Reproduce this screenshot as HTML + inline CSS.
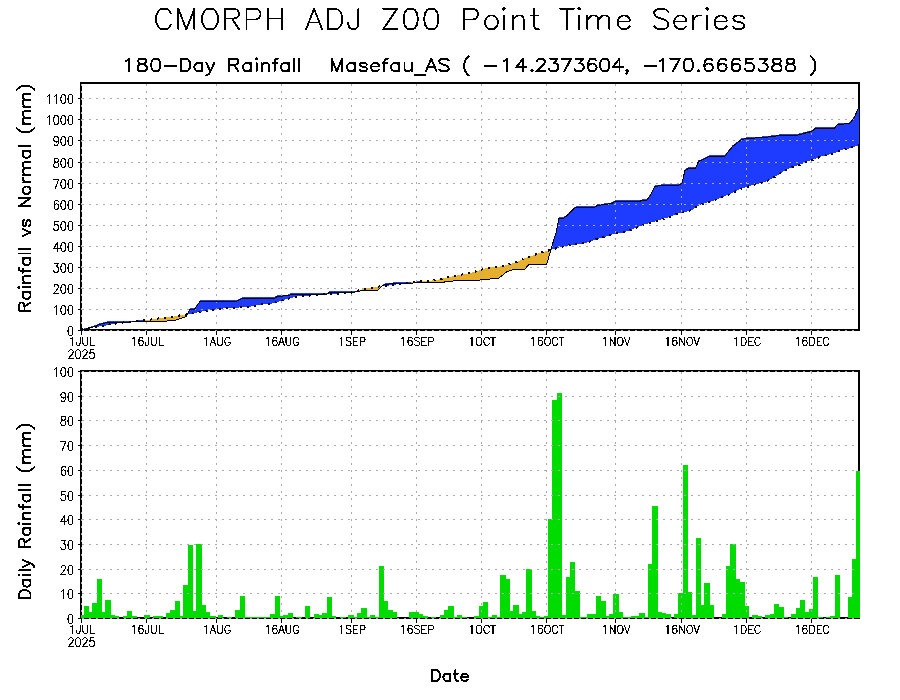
<!DOCTYPE html><html><head><meta charset="utf-8"><style>html,body{margin:0;padding:0;background:#fff;width:900px;height:700px;overflow:hidden;font-family:"Liberation Sans",sans-serif}</style></head><body><svg width="900" height="700" viewBox="0 0 900 700" style="display:block">
<rect x="0" y="0" width="900" height="700" fill="#fff"/>
<g shape-rendering="crispEdges"><rect x="80" y="82" width="780" height="2" fill="#000"/><rect x="80" y="329" width="780" height="2" fill="#000"/><rect x="80" y="82" width="2" height="249" fill="#000"/><rect x="858" y="82" width="2" height="249" fill="#000"/><rect x="80" y="370" width="780" height="2" fill="#000"/><rect x="80" y="617" width="780" height="2" fill="#000"/><rect x="80" y="370" width="2" height="249" fill="#000"/><rect x="858" y="370" width="2" height="249" fill="#000"/></g>
<polygon points="81.00,329.40 81.50,329.26 82.00,329.11 82.50,328.97 83.00,328.83 83.50,328.69 84.00,328.54 84.50,328.40 85.00,328.26 85.50,328.11 86.00,327.97 86.50,327.83 87.00,327.69 87.50,327.54 88.00,327.40 88.50,327.25 89.00,327.10 89.50,326.95 90.00,326.80 90.50,326.65 91.00,326.50 91.50,326.36 92.00,326.21 92.50,326.06 93.00,325.91 93.50,325.76 94.00,325.61 94.50,325.46 94.70,325.40 95.00,325.26 95.50,325.04 96.00,324.81 96.30,324.67 96.50,324.58 97.00,324.35 97.50,324.13 98.00,323.90 98.50,323.67 99.00,323.45 99.10,323.40 99.50,323.30 100.00,323.17 100.50,323.04 101.00,322.91 101.50,322.78 102.00,322.66 102.50,322.53 103.00,322.40 103.50,322.27 103.60,322.25 104.00,322.14 104.50,322.02 105.00,321.89 105.50,321.76 106.00,321.63 106.50,321.50 106.90,321.40 107.00,321.40 107.50,321.40 108.00,321.40 108.50,321.40 109.00,321.40 109.50,321.40 110.00,321.40 110.50,321.40 111.00,321.40 111.30,321.40 111.50,321.40 112.00,321.40 112.50,321.40 113.00,321.40 113.50,321.40 114.00,321.40 114.50,321.40 115.00,321.40 115.50,321.40 116.00,321.40 116.50,321.40 117.00,321.40 117.50,321.40 118.00,321.40 118.50,321.40 119.00,321.40 119.50,321.40 120.00,321.40 120.50,321.40 121.00,321.40 121.50,321.40 122.00,321.40 122.50,321.40 123.00,321.40 123.50,321.40 124.00,321.40 124.50,321.40 124.70,321.40 125.00,321.40 125.20,321.40 125.50,321.38 126.00,321.34 126.50,321.30 127.00,321.26 127.50,321.22 128.00,321.18 128.50,321.14 129.00,321.10 129.50,321.06 130.00,321.02 130.50,320.99 131.00,320.95 131.50,320.91 132.00,320.87 132.50,320.83 133.00,320.79 133.50,320.75 133.60,320.74 134.00,320.71 134.50,320.67 135.00,320.63 135.50,320.60 136.00,320.56 136.50,320.52 137.00,320.48 137.50,320.44 138.00,320.40 138.50,320.40 139.00,320.40 139.50,320.40 140.00,320.40 140.50,320.40 141.00,320.40 141.50,320.40 142.00,320.40 142.50,320.40 143.00,320.40 143.50,320.40 144.00,320.39 144.50,320.34 144.70,320.32 145.00,320.29 145.50,320.24 146.00,320.19 146.50,320.15 147.00,320.10 147.50,320.05 148.00,320.00 148.50,319.92 149.00,319.85 149.50,319.77 150.00,319.69 150.50,319.62 151.00,319.54 151.50,319.47 152.00,319.39 152.50,319.31 153.00,319.24 153.50,319.16 154.00,319.08 154.50,319.01 155.00,318.93 155.50,318.85 156.00,318.78 156.50,318.70 157.00,318.62 157.50,318.55 158.00,318.47 158.50,318.40 159.00,318.32 159.50,318.24 160.00,318.17 160.50,318.09 161.00,318.01 161.50,317.94 162.00,317.86 162.40,317.80 162.50,317.79 163.00,317.75 163.50,317.71 164.00,317.67 164.50,317.63 164.70,317.62 165.00,317.59 165.50,317.56 166.00,317.52 166.50,317.48 167.00,317.44 167.50,317.40 168.00,317.36 168.50,317.32 169.00,317.28 169.50,317.24 170.00,317.20 170.50,317.10 171.00,317.01 171.50,316.91 172.00,316.81 172.50,316.71 173.00,316.62 173.50,316.52 174.00,316.42 174.40,316.35 174.50,316.33 175.00,316.23 175.50,316.13 176.00,316.04 176.50,315.94 176.70,315.90 177.00,315.86 177.50,315.79 178.00,315.71 178.50,315.64 179.00,315.57 179.50,315.50 180.00,315.43 180.50,315.36 181.00,315.29 181.10,315.27 181.50,315.21 182.00,315.14 182.50,315.07 183.00,315.00 183.50,314.93 184.00,314.86 184.40,314.80 184.50,314.78 185.00,314.70 185.50,314.62 186.00,314.54 186.10,314.52 186.50,314.46 187.00,313.78 187.50,312.89 188.00,311.99 188.50,311.09 189.00,310.19 189.50,309.30 190.00,308.40 190.50,308.40 191.00,308.40 191.10,308.40 191.50,308.40 192.00,308.40 192.50,308.40 193.00,308.40 193.50,308.40 194.00,308.40 194.40,308.40 194.50,308.26 195.00,307.54 195.50,306.83 196.00,306.11 196.50,305.40 197.00,304.69 197.50,303.97 198.00,303.26 198.50,302.54 199.00,301.83 199.50,301.11 200.00,300.40 200.50,300.40 201.00,300.40 201.50,300.40 202.00,300.40 202.50,300.40 203.00,300.40 203.30,300.40 203.50,300.40 204.00,300.40 204.50,300.40 205.00,300.40 205.50,300.40 205.60,300.40 206.00,300.40 206.50,300.40 207.00,300.40 207.50,300.40 208.00,300.40 208.50,300.40 209.00,300.40 209.50,300.40 210.00,300.40 210.50,300.40 211.00,300.40 211.50,300.40 212.00,300.40 212.50,300.40 213.00,300.40 213.50,300.40 214.00,300.40 214.50,300.40 215.00,300.40 215.50,300.40 216.00,300.40 216.50,300.40 217.00,300.40 217.50,300.40 218.00,300.40 218.50,300.40 219.00,300.40 219.50,300.40 220.00,300.40 220.50,300.40 221.00,300.40 221.50,300.40 222.00,300.40 222.50,300.40 223.00,300.40 223.50,300.40 224.00,300.40 224.50,300.40 225.00,300.40 225.50,300.40 226.00,300.40 226.50,300.40 227.00,300.40 227.50,300.40 228.00,300.40 228.50,300.40 229.00,300.40 229.50,300.40 230.00,300.40 230.50,300.40 231.00,300.40 231.50,300.40 232.00,300.40 232.50,300.40 233.00,300.40 233.50,300.40 234.00,300.40 234.50,300.40 235.00,300.40 235.50,300.40 235.60,300.40 236.00,300.22 236.50,299.99 237.00,299.76 237.50,299.54 238.00,299.31 238.50,299.08 239.00,298.85 239.50,298.63 240.00,298.40 240.50,298.17 241.00,297.95 241.50,297.72 242.00,297.49 242.20,297.40 242.50,297.40 243.00,297.40 243.50,297.40 244.00,297.40 244.50,297.40 245.00,297.40 245.50,297.40 246.00,297.40 246.50,297.40 247.00,297.40 247.50,297.40 248.00,297.40 248.50,297.40 249.00,297.40 249.50,297.40 250.00,297.40 250.50,297.40 251.00,297.40 251.50,297.40 252.00,297.40 252.50,297.40 253.00,297.40 253.50,297.40 254.00,297.40 254.50,297.40 255.00,297.40 255.50,297.40 256.00,297.40 256.50,297.40 257.00,297.40 257.50,297.40 258.00,297.40 258.50,297.40 259.00,297.40 259.50,297.40 260.00,297.40 260.50,297.40 261.00,297.40 261.50,297.40 262.00,297.40 262.50,297.40 263.00,297.40 263.50,297.40 263.90,297.40 264.00,297.40 264.50,297.40 265.00,297.40 265.50,297.40 266.00,297.40 266.50,297.40 267.00,297.40 267.50,297.40 268.00,297.40 268.50,297.40 269.00,297.40 269.50,297.40 270.00,297.40 270.50,297.40 270.60,297.40 271.00,297.40 271.50,297.40 272.00,297.40 272.50,297.40 273.00,297.40 273.50,297.40 273.90,297.40 274.00,297.34 274.50,297.04 275.00,296.73 275.50,296.43 276.00,296.13 276.50,295.82 277.00,295.52 277.20,295.40 277.50,295.37 278.00,295.33 278.30,295.31 278.50,295.29 279.00,295.25 279.50,295.20 280.00,295.16 280.50,295.12 281.00,295.08 281.50,295.03 282.00,294.99 282.50,294.95 283.00,294.90 283.50,294.86 284.00,294.82 284.50,294.78 285.00,294.73 285.50,294.69 286.00,294.65 286.50,294.61 287.00,294.56 287.50,294.52 288.00,294.48 288.50,294.43 288.90,294.40 289.00,294.34 289.50,294.05 290.00,293.75 290.50,293.46 290.60,293.40 291.00,293.40 291.50,293.40 291.70,293.40 292.00,293.40 292.50,293.40 293.00,293.40 293.50,293.40 294.00,293.40 294.50,293.40 295.00,293.40 295.50,293.40 296.00,293.40 296.50,293.40 297.00,293.40 297.50,293.40 298.00,293.40 298.50,293.40 298.90,293.40 299.00,293.40 299.50,293.40 300.00,293.40 300.50,293.40 301.00,293.40 301.50,293.40 302.00,293.40 302.50,293.40 303.00,293.40 303.50,293.40 304.00,293.40 304.50,293.40 305.00,293.40 305.50,293.40 306.00,293.40 306.50,293.40 306.70,293.40 307.00,293.40 307.20,293.40 307.50,293.40 308.00,293.40 308.50,293.40 309.00,293.40 309.50,293.40 310.00,293.40 310.50,293.40 311.00,293.40 311.50,293.40 312.00,293.40 312.50,293.40 313.00,293.40 313.50,293.40 313.90,293.40 314.00,293.40 314.50,293.40 315.00,293.40 315.50,293.40 316.00,293.40 316.50,293.40 317.00,293.40 317.50,293.40 318.00,293.40 318.50,293.40 319.00,293.40 319.50,293.40 320.00,293.40 320.50,293.40 321.00,293.40 321.50,293.40 322.00,293.40 322.50,293.40 323.00,293.40 323.50,293.40 324.00,293.40 324.50,293.40 325.00,293.40 325.50,293.40 326.00,293.40 326.10,293.40 326.50,293.16 327.00,292.85 327.50,292.55 328.00,292.25 328.50,291.95 328.90,291.70 329.00,291.64 329.40,291.40 329.50,291.40 330.00,291.40 330.50,291.40 331.00,291.40 331.50,291.40 332.00,291.40 332.50,291.40 333.00,291.40 333.50,291.40 334.00,291.40 334.50,291.40 335.00,291.40 335.50,291.40 336.00,291.40 336.10,291.40 336.50,291.40 337.00,291.40 337.50,291.40 338.00,291.40 338.50,291.40 339.00,291.40 339.50,291.40 340.00,291.40 340.50,291.40 341.00,291.40 341.50,291.40 342.00,291.40 342.50,291.40 342.80,291.40 343.00,291.40 343.50,291.40 344.00,291.40 344.50,291.40 345.00,291.40 345.50,291.40 346.00,291.40 346.50,291.40 347.00,291.40 347.50,291.40 348.00,291.40 348.50,291.40 349.00,291.40 349.50,291.40 350.00,291.40 350.50,291.40 350.60,291.40 351.00,291.40 351.10,291.40 351.50,291.40 352.00,291.40 352.50,291.40 352.80,291.40 353.00,291.36 353.50,291.27 354.00,291.17 354.50,291.07 355.00,290.98 355.50,290.88 356.00,290.78 356.50,290.69 357.00,290.59 357.50,290.50 357.80,290.44 358.00,290.40 358.50,290.27 359.00,290.15 359.50,290.02 360.00,289.90 360.50,289.77 361.00,289.65 361.50,289.52 362.00,289.35 362.50,289.18 363.00,289.01 363.50,288.83 363.60,288.80 364.00,288.74 364.50,288.67 365.00,288.60 365.50,288.53 366.00,288.47 366.50,288.40 367.00,288.33 367.50,288.26 368.00,288.19 368.50,288.12 369.00,288.05 369.50,287.98 370.00,287.91 370.50,287.84 371.00,287.77 371.50,287.70 372.00,287.63 372.20,287.60 372.50,287.55 373.00,287.47 373.50,287.38 374.00,287.30 374.50,287.22 375.00,287.13 375.50,287.05 376.00,286.97 376.50,286.88 377.00,286.80 377.50,286.72 377.80,286.67 378.00,286.63 378.50,286.55 379.00,286.47 379.40,286.40 379.50,286.39 380.00,286.35 380.50,286.31 381.00,286.20 381.50,285.70 382.00,285.20 382.50,284.70 382.80,284.40 383.00,284.33 383.50,284.15 384.00,283.97 384.50,283.79 385.00,283.61 385.50,283.44 385.60,283.40 386.00,283.35 386.50,283.28 386.70,283.26 387.00,283.22 387.50,283.15 388.00,283.09 388.50,283.02 389.00,282.96 389.50,282.89 390.00,282.83 390.50,282.76 391.00,282.70 391.50,282.63 392.00,282.57 392.50,282.50 393.00,282.44 393.30,282.40 393.50,282.40 393.90,282.40 394.00,282.40 394.50,282.40 395.00,282.40 395.50,282.40 396.00,282.40 396.50,282.40 397.00,282.40 397.50,282.40 398.00,282.40 398.50,282.40 399.00,282.40 399.50,282.40 400.00,282.40 400.50,282.40 401.00,282.40 401.10,282.40 401.50,282.40 402.00,282.40 402.50,282.40 403.00,282.40 403.50,282.40 404.00,282.40 404.50,282.40 405.00,282.40 405.50,282.40 406.00,282.40 406.50,282.40 407.00,282.40 407.50,282.40 408.00,282.40 408.50,282.40 408.90,282.40 409.00,282.39 409.50,282.33 410.00,282.28 410.50,282.22 411.00,282.16 411.50,282.11 412.00,282.05 412.50,282.00 413.00,281.94 413.50,281.88 414.00,281.83 414.50,281.77 415.00,281.71 415.50,281.66 415.60,281.65 416.00,281.60 416.50,281.55 417.00,281.49 417.50,281.43 417.80,281.40 418.00,281.40 418.50,281.40 419.00,281.40 419.50,281.40 420.00,281.40 420.50,281.40 421.00,281.40 421.50,281.40 422.00,281.40 422.50,281.40 422.80,281.40 423.00,281.38 423.50,281.33 424.00,281.28 424.50,281.23 425.00,281.17 425.50,281.12 426.00,281.07 426.50,281.02 427.00,280.97 427.50,280.92 428.00,280.87 428.50,280.82 429.00,280.76 429.50,280.71 430.00,280.66 430.50,280.61 430.60,280.60 431.00,280.56 431.50,280.50 432.00,280.44 432.50,280.39 433.00,280.33 433.50,280.28 434.00,280.22 434.50,280.17 435.00,280.11 435.50,280.06 436.00,280.00 436.50,279.94 437.00,279.89 437.50,279.83 437.80,279.80 438.00,279.74 438.50,279.61 439.00,279.47 439.50,279.33 440.00,279.19 440.50,279.05 441.00,278.91 441.50,278.77 442.00,278.63 442.50,278.49 443.00,278.36 443.30,278.27 443.50,278.22 444.00,278.08 444.50,277.94 445.00,277.80 445.50,277.70 445.60,277.68 446.00,277.61 446.50,277.51 447.00,277.41 447.50,277.31 448.00,277.22 448.50,277.12 449.00,277.02 449.50,276.93 450.00,276.83 450.50,276.73 451.00,276.63 451.50,276.54 452.00,276.44 452.20,276.40 452.50,276.34 453.00,276.23 453.50,276.13 454.00,276.02 454.50,275.92 455.00,275.81 455.50,275.71 456.00,275.61 456.50,275.50 457.00,275.40 457.50,275.29 458.00,275.19 458.50,275.08 458.90,275.00 459.00,274.99 459.50,274.92 460.00,274.84 460.50,274.77 461.00,274.70 461.50,274.63 462.00,274.56 462.50,274.49 463.00,274.42 463.50,274.35 464.00,274.28 464.50,274.21 465.00,274.14 465.50,274.07 466.00,274.00 466.50,273.93 466.70,273.90 467.00,273.82 467.50,273.69 468.00,273.56 468.50,273.42 469.00,273.29 469.50,273.16 470.00,273.03 470.50,272.90 471.00,272.77 471.50,272.63 472.00,272.50 472.50,272.37 473.00,272.24 473.50,272.11 473.90,272.00 474.00,271.97 474.50,271.82 475.00,271.66 475.50,271.51 476.00,271.36 476.50,271.21 477.00,271.05 477.50,270.90 478.00,270.75 478.50,270.59 478.90,270.47 479.00,270.44 479.50,270.29 480.00,270.14 480.50,269.98 481.00,269.83 481.10,269.80 481.50,269.68 481.70,269.62 482.00,269.53 482.50,269.38 483.00,269.23 483.50,269.08 484.00,268.93 484.50,268.79 485.00,268.64 485.50,268.49 486.00,268.34 486.50,268.19 487.00,268.04 487.50,267.89 487.80,267.80 488.00,267.77 488.50,267.69 489.00,267.62 489.50,267.54 490.00,267.46 490.50,267.39 491.00,267.31 491.50,267.23 492.00,267.16 492.50,267.08 493.00,267.01 493.50,266.93 494.00,266.85 494.50,266.78 495.00,266.70 495.50,266.68 496.00,266.66 496.50,266.63 497.00,266.61 497.50,266.59 498.00,266.57 498.30,266.55 498.50,266.54 499.00,266.52 499.50,266.50 500.00,266.48 500.50,266.45 501.00,266.43 501.50,266.41 501.70,266.40 502.00,266.31 502.50,266.16 503.00,266.01 503.50,265.86 504.00,265.71 504.50,265.56 505.00,265.41 505.50,265.26 506.00,265.10 506.50,264.95 507.00,264.80 507.20,264.74 507.50,264.65 508.00,264.50 508.50,264.35 509.00,264.20 509.50,264.05 510.00,263.90 510.50,263.77 510.60,263.75 511.00,263.65 511.50,263.52 512.00,263.39 512.50,263.27 513.00,263.14 513.50,263.01 513.90,262.91 514.00,262.89 514.50,262.76 515.00,262.63 515.50,262.50 516.00,262.38 516.50,262.25 516.70,262.20 517.00,262.05 517.50,261.80 518.00,261.55 518.50,261.30 519.00,261.05 519.50,260.80 520.00,260.55 520.50,260.30 521.00,260.05 521.50,259.80 522.00,259.55 522.50,259.30 523.00,259.05 523.30,258.90 523.50,258.83 524.00,258.64 524.40,258.49 524.50,258.45 525.00,258.27 525.50,258.08 526.00,257.89 526.50,257.71 527.00,257.52 527.50,257.33 528.00,257.15 528.50,256.96 528.90,256.81 529.00,256.77 529.50,256.59 530.00,256.40 530.50,256.23 531.00,256.05 531.50,255.88 532.00,255.71 532.50,255.53 533.00,255.36 533.50,255.18 534.00,255.01 534.50,254.84 535.00,254.66 535.50,254.49 536.00,254.32 536.50,254.14 537.00,253.97 537.20,253.90 537.50,253.80 538.00,253.64 538.50,253.47 539.00,253.31 539.50,253.14 540.00,252.98 540.50,252.82 541.00,252.65 541.50,252.49 542.00,252.32 542.50,252.16 543.00,252.00 543.50,251.83 543.90,251.70 544.00,251.67 544.50,251.55 545.00,251.42 545.50,251.29 546.00,251.17 546.50,251.04 546.70,250.99 547.00,250.91 547.50,250.79 548.00,250.66 548.50,250.53 549.00,250.41 549.50,250.28 550.00,250.15 550.50,249.76 550.60,249.40 551.00,248.09 551.50,246.45 552.00,244.82 552.50,243.18 553.00,241.55 553.50,239.91 554.00,238.27 554.50,236.64 555.00,235.00 555.50,233.36 556.00,231.73 556.10,231.40 556.50,229.40 557.00,226.90 557.50,224.40 557.80,222.90 558.00,221.90 558.50,219.40 558.90,217.40 559.00,217.40 559.50,217.40 560.00,217.40 560.50,217.40 561.00,217.40 561.50,217.40 562.00,217.40 562.50,217.40 563.00,217.40 563.30,217.40 563.50,217.24 564.00,216.84 564.50,216.44 565.00,216.04 565.50,215.64 566.00,215.24 566.50,214.84 567.00,214.44 567.50,214.04 568.00,213.64 568.30,213.40 568.50,213.18 569.00,212.62 569.50,212.07 570.00,211.51 570.50,210.96 571.00,210.40 571.50,209.84 572.00,209.29 572.20,209.07 572.50,208.73 572.80,208.40 573.00,208.28 573.50,207.98 574.00,207.67 574.50,207.37 575.00,207.07 575.50,206.76 576.00,206.46 576.10,206.40 576.50,206.40 577.00,206.40 577.50,206.40 578.00,206.40 578.50,206.40 579.00,206.40 579.40,206.40 579.50,206.40 580.00,206.40 580.50,206.40 581.00,206.40 581.50,206.40 582.00,206.40 582.50,206.40 583.00,206.40 583.50,206.40 584.00,206.40 584.50,206.40 585.00,206.40 585.50,206.40 586.00,206.40 586.50,206.40 586.70,206.40 587.00,206.40 587.50,206.40 588.00,206.40 588.50,206.40 589.00,206.40 589.50,206.40 590.00,206.40 590.50,206.40 591.00,206.40 591.50,206.40 592.00,206.40 592.50,206.40 593.00,206.40 593.50,206.40 593.90,206.40 594.00,206.40 594.40,206.40 594.50,206.33 595.00,205.97 595.50,205.61 596.00,205.26 596.50,204.90 597.00,204.54 597.20,204.40 597.50,204.36 598.00,204.29 598.50,204.22 599.00,204.15 599.50,204.08 600.00,204.01 600.50,203.94 601.00,203.88 601.10,203.86 601.50,203.81 602.00,203.74 602.50,203.67 603.00,203.60 603.50,203.53 604.00,203.46 604.50,203.39 605.00,203.32 605.50,203.26 606.00,203.19 606.50,203.12 607.00,203.05 607.50,202.98 607.80,202.94 608.00,202.91 608.50,202.84 609.00,202.77 609.50,202.70 610.00,202.63 610.50,202.57 611.00,202.50 611.50,202.43 611.70,202.40 612.00,202.22 612.50,201.92 613.00,201.61 613.50,201.31 614.00,201.01 614.50,200.70 615.00,200.40 615.50,200.40 616.00,200.40 616.50,200.40 617.00,200.40 617.50,200.40 618.00,200.40 618.50,200.40 619.00,200.40 619.50,200.40 620.00,200.40 620.50,200.40 621.00,200.40 621.50,200.40 621.70,200.40 622.00,200.40 622.50,200.40 623.00,200.40 623.50,200.40 624.00,200.40 624.50,200.40 625.00,200.40 625.50,200.40 626.00,200.40 626.50,200.40 627.00,200.40 627.50,200.40 628.00,200.40 628.50,200.40 628.90,200.40 629.00,200.40 629.50,200.40 630.00,200.40 630.50,200.40 631.00,200.40 631.50,200.40 632.00,200.40 632.50,200.40 633.00,200.40 633.50,200.40 634.00,200.40 634.50,200.40 635.00,200.40 635.50,200.40 636.00,200.40 636.10,200.40 636.50,200.40 637.00,200.40 637.50,200.40 638.00,200.40 638.30,200.40 638.50,200.36 639.00,200.24 639.50,200.13 640.00,200.02 640.50,199.91 641.00,199.80 641.50,199.69 642.00,199.58 642.50,199.47 642.80,199.40 643.00,199.40 643.30,199.40 643.50,199.40 644.00,199.40 644.50,199.40 645.00,199.40 645.50,199.40 646.00,199.40 646.40,199.40 646.50,199.27 647.00,198.63 647.50,197.99 648.00,197.35 648.50,196.71 649.00,196.07 649.50,195.43 649.60,195.30 650.00,194.78 650.30,194.40 650.50,194.00 651.00,193.00 651.50,192.00 652.00,191.00 652.50,190.00 653.00,189.00 653.50,188.00 654.00,187.00 654.50,186.00 654.80,185.40 655.00,185.37 655.50,185.30 656.00,185.23 656.50,185.16 656.70,185.13 657.00,185.09 657.50,185.02 658.00,184.95 658.50,184.88 659.00,184.81 659.50,184.74 660.00,184.67 660.50,184.60 661.00,184.53 661.50,184.46 661.90,184.40 662.00,184.40 662.50,184.40 663.00,184.40 663.50,184.40 663.80,184.40 664.00,184.40 664.50,184.40 665.00,184.40 665.50,184.40 666.00,184.40 666.50,184.40 667.00,184.40 667.50,184.40 668.00,184.40 668.50,184.40 669.00,184.40 669.50,184.40 670.00,184.40 670.50,184.40 670.80,184.40 671.00,184.40 671.50,184.40 672.00,184.40 672.50,184.40 673.00,184.40 673.50,184.40 674.00,184.40 674.50,184.40 675.00,184.40 675.50,184.40 676.00,184.40 676.50,184.40 677.00,184.40 677.50,184.40 677.90,184.40 678.00,184.35 678.50,184.09 679.00,183.84 679.50,183.58 680.00,183.32 680.50,183.07 681.00,182.81 681.50,182.55 681.80,182.40 682.00,181.59 682.50,179.56 683.00,177.52 683.50,175.49 684.00,173.46 684.50,171.43 685.00,169.40 685.50,169.09 686.00,168.78 686.50,168.46 687.00,168.15 687.50,167.84 688.00,167.53 688.20,167.40 688.50,167.40 689.00,167.40 689.50,167.40 690.00,167.40 690.50,167.40 691.00,167.40 691.50,167.40 692.00,167.40 692.10,167.40 692.50,167.40 693.00,167.40 693.50,167.40 694.00,167.40 694.50,167.40 695.00,167.40 695.30,167.40 695.50,166.96 696.00,165.87 696.50,164.77 697.00,163.68 697.50,162.59 698.00,161.49 698.50,160.40 699.00,160.18 699.50,159.96 700.00,159.73 700.50,159.51 701.00,159.29 701.50,159.07 702.00,158.84 702.50,158.62 703.00,158.40 703.50,158.17 704.00,157.93 704.50,157.70 704.90,157.51 705.00,157.46 705.50,157.23 706.00,156.99 706.50,156.76 707.00,156.53 707.50,156.29 708.00,156.06 708.50,155.82 709.00,155.59 709.40,155.40 709.50,155.40 710.00,155.40 710.50,155.40 711.00,155.40 711.50,155.40 712.00,155.40 712.50,155.40 713.00,155.40 713.50,155.40 714.00,155.40 714.50,155.40 715.00,155.40 715.50,155.40 716.00,155.40 716.50,155.40 717.00,155.40 717.50,155.40 718.00,155.40 718.50,155.40 719.00,155.40 719.50,155.40 720.00,155.40 720.50,155.40 721.00,155.40 721.50,155.40 722.00,155.40 722.50,155.40 723.00,155.40 723.50,155.40 724.00,155.40 724.50,155.40 724.80,155.40 725.00,155.10 725.50,154.35 726.00,153.60 726.50,152.85 726.80,152.40 727.00,152.15 727.50,151.54 728.00,150.93 728.50,150.31 729.00,149.70 729.50,149.08 730.00,148.47 730.50,147.86 731.00,147.24 731.50,146.63 732.00,146.01 732.50,145.40 733.00,145.02 733.50,144.63 734.00,144.25 734.50,143.86 735.00,143.48 735.50,143.09 736.00,142.71 736.50,142.32 737.00,141.94 737.50,141.55 737.70,141.40 738.00,141.16 738.50,140.77 739.00,140.37 739.50,139.98 740.00,139.58 740.50,139.19 741.00,138.79 741.50,138.40 742.00,138.30 742.50,138.20 743.00,138.11 743.50,138.01 744.00,137.91 744.50,137.81 745.00,137.71 745.50,137.62 745.80,137.56 746.00,137.52 746.50,137.42 746.60,137.40 747.00,137.38 747.50,137.35 748.00,137.32 748.50,137.29 749.00,137.26 749.50,137.23 750.00,137.20 750.50,137.17 751.00,137.15 751.50,137.12 752.00,137.09 752.50,137.06 753.00,137.03 753.10,137.02 753.50,137.00 754.00,136.97 754.50,136.94 755.00,136.91 755.50,136.89 756.00,136.86 756.50,136.83 757.00,136.80 757.50,136.77 758.00,136.74 758.50,136.71 759.00,136.68 759.50,136.65 760.00,136.63 760.30,136.61 760.50,136.60 761.00,136.57 761.50,136.54 762.00,136.51 762.50,136.48 763.00,136.45 763.50,136.42 763.90,136.40 764.00,136.39 764.50,136.32 765.00,136.26 765.50,136.20 766.00,136.14 766.50,136.07 767.00,136.01 767.50,135.95 768.00,135.88 768.50,135.82 769.00,135.76 769.50,135.70 770.00,135.63 770.50,135.57 771.00,135.51 771.50,135.44 772.00,135.38 772.50,135.32 773.00,135.26 773.50,135.19 774.00,135.13 774.50,135.07 775.00,135.00 775.50,134.94 776.00,134.88 776.50,134.82 777.00,134.75 777.50,134.69 778.00,134.63 778.50,134.56 779.00,134.50 779.50,134.44 779.80,134.40 780.00,134.40 780.50,134.40 781.00,134.40 781.50,134.40 782.00,134.40 782.50,134.40 783.00,134.40 783.50,134.40 784.00,134.40 784.50,134.40 785.00,134.40 785.50,134.40 785.60,134.40 786.00,134.40 786.50,134.40 787.00,134.40 787.50,134.40 788.00,134.40 788.50,134.40 789.00,134.40 789.50,134.40 790.00,134.40 790.50,134.40 791.00,134.40 791.50,134.40 792.00,134.40 792.50,134.40 793.00,134.40 793.50,134.40 794.00,134.40 794.50,134.40 795.00,134.40 795.50,134.40 795.70,134.40 796.00,134.32 796.50,134.20 797.00,134.07 797.50,133.95 798.00,133.82 798.50,133.70 799.00,133.57 799.50,133.44 800.00,133.32 800.50,133.19 801.00,133.07 801.50,132.94 802.00,132.82 802.50,132.69 803.00,132.56 803.50,132.44 804.00,132.31 804.50,132.19 805.00,132.06 805.50,131.93 806.00,131.81 806.50,131.68 807.00,131.56 807.20,131.51 807.50,131.43 808.00,131.31 808.50,131.18 809.00,131.05 809.50,130.93 810.00,130.80 810.50,130.68 811.00,130.55 811.50,130.43 811.60,130.40 812.00,130.07 812.50,129.65 813.00,129.23 813.50,128.82 814.00,128.40 814.40,128.07 814.50,127.98 815.00,127.57 815.20,127.40 815.50,127.40 816.00,127.40 816.50,127.40 817.00,127.40 817.50,127.40 818.00,127.40 818.50,127.40 819.00,127.40 819.50,127.40 820.00,127.40 820.50,127.40 820.90,127.40 821.00,127.40 821.50,127.40 822.00,127.40 822.50,127.40 823.00,127.40 823.50,127.40 824.00,127.40 824.50,127.40 825.00,127.40 825.50,127.40 826.00,127.40 826.50,127.40 827.00,127.40 827.50,127.40 828.00,127.40 828.20,127.40 828.50,127.40 829.00,127.40 829.50,127.40 830.00,127.40 830.50,127.40 831.00,127.40 831.50,127.40 832.00,127.40 832.50,127.40 833.00,127.40 833.50,127.40 834.00,127.40 834.50,126.84 834.70,126.62 835.00,126.29 835.50,125.73 836.00,125.18 836.50,124.62 837.00,124.07 837.50,123.51 837.60,123.40 838.00,123.37 838.50,123.33 839.00,123.29 839.50,123.24 840.00,123.20 840.50,123.16 841.00,123.12 841.50,123.08 841.90,123.05 842.00,123.04 842.50,123.00 843.00,122.96 843.50,122.92 844.00,122.88 844.50,122.83 845.00,122.79 845.50,122.75 846.00,122.71 846.50,122.67 847.00,122.63 847.50,122.59 848.00,122.55 848.50,122.51 849.00,122.47 849.10,122.46 849.50,122.42 849.80,122.40 850.00,122.13 850.50,121.45 851.00,120.76 851.50,120.08 852.00,119.40 852.50,118.72 853.00,118.04 853.50,117.35 854.00,116.67 854.20,116.40 854.50,115.73 855.00,114.62 855.50,113.51 856.00,112.40 856.30,111.73 856.50,111.29 857.00,110.18 857.50,109.07 857.80,108.40 858.00,107.90 858.50,106.65 859.00,105.40 859.00,145.00 858.50,145.17 858.00,145.33 857.80,145.40 857.50,145.50 857.00,145.67 856.50,145.83 856.30,145.90 856.00,146.00 855.50,146.18 855.00,146.35 854.50,146.53 854.20,146.63 854.00,146.70 853.50,146.87 853.00,147.05 852.50,147.22 852.00,147.39 851.50,147.57 851.00,147.74 850.50,147.91 850.00,148.09 849.80,148.16 849.50,148.26 849.10,148.40 849.00,148.42 848.50,148.52 848.00,148.61 847.50,148.71 847.00,148.81 846.50,148.91 846.00,149.00 845.50,149.10 845.00,149.20 844.50,149.29 844.00,149.39 843.50,149.49 843.00,149.59 842.50,149.68 842.00,149.78 841.90,149.80 841.50,149.99 841.00,150.22 840.50,150.46 840.00,150.70 839.50,150.93 839.00,151.17 838.50,151.41 838.00,151.64 837.60,151.83 837.50,151.88 837.00,152.11 836.50,152.35 836.00,152.59 835.50,152.82 835.00,153.06 834.70,153.20 834.50,153.24 834.00,153.35 833.50,153.46 833.00,153.57 832.50,153.67 832.00,153.78 831.50,153.89 831.00,154.00 830.50,154.10 830.00,154.21 829.50,154.32 829.00,154.43 828.50,154.54 828.20,154.60 828.00,154.65 827.50,154.79 827.00,154.93 826.50,155.07 826.00,155.20 825.50,155.34 825.00,155.48 824.50,155.61 824.00,155.75 823.50,155.89 823.00,156.02 822.50,156.16 822.00,156.30 821.50,156.44 821.00,156.57 820.90,156.60 820.50,156.76 820.00,156.96 819.50,157.16 819.00,157.36 818.50,157.56 818.00,157.76 817.50,157.96 817.00,158.16 816.50,158.36 816.00,158.56 815.50,158.76 815.20,158.88 815.00,158.96 814.50,159.16 814.40,159.20 814.00,159.32 813.50,159.47 813.00,159.63 812.50,159.78 812.00,159.93 811.60,160.06 811.50,160.09 811.00,160.24 810.50,160.39 810.00,160.54 809.50,160.70 809.00,160.85 808.50,161.00 808.00,161.16 807.50,161.31 807.20,161.40 807.00,161.49 806.50,161.72 806.00,161.95 805.50,162.18 805.00,162.41 804.50,162.64 804.00,162.87 803.50,163.10 803.00,163.33 802.50,163.55 802.00,163.78 801.50,164.01 801.00,164.24 800.50,164.47 800.00,164.70 799.50,164.85 799.00,165.01 798.50,165.16 798.00,165.32 797.50,165.47 797.00,165.62 796.50,165.78 796.00,165.93 795.70,166.02 795.50,166.08 795.00,166.24 794.50,166.39 794.00,166.55 793.50,166.70 793.00,166.92 792.50,167.13 792.00,167.35 791.50,167.56 791.00,167.78 790.50,167.99 790.00,168.21 789.50,168.42 789.00,168.64 788.50,168.85 788.00,169.07 787.50,169.28 787.00,169.50 786.50,169.71 786.00,169.93 785.60,170.10 785.50,170.16 785.00,170.47 784.50,170.78 784.00,171.09 783.50,171.40 783.00,171.71 782.50,172.02 782.00,172.33 781.50,172.64 781.00,172.96 780.50,173.27 780.00,173.58 779.80,173.70 779.50,173.89 779.00,174.20 778.50,174.51 778.00,174.82 777.50,175.13 777.00,175.44 776.50,175.75 776.00,176.06 775.50,176.37 775.00,176.68 774.50,176.99 774.00,177.30 773.50,177.58 773.00,177.85 772.50,178.13 772.00,178.41 771.50,178.68 771.00,178.96 770.50,179.24 770.00,179.52 769.50,179.79 769.00,180.07 768.50,180.35 768.00,180.62 767.50,180.90 767.00,181.05 766.50,181.21 766.00,181.36 765.50,181.51 765.00,181.66 764.50,181.82 764.00,181.97 763.90,182.00 763.50,182.12 763.00,182.27 762.50,182.43 762.00,182.58 761.50,182.73 761.00,182.89 760.50,183.04 760.30,183.10 760.00,183.17 759.50,183.30 759.00,183.42 758.50,183.55 758.00,183.67 757.50,183.80 757.00,183.92 756.50,184.05 756.00,184.18 755.50,184.30 755.00,184.43 754.50,184.55 754.00,184.68 753.50,184.80 753.10,184.90 753.00,184.93 752.50,185.11 752.00,185.28 751.50,185.45 751.00,185.62 750.50,185.79 750.00,185.96 749.50,186.13 749.00,186.30 748.50,186.48 748.00,186.65 747.50,186.82 747.00,186.99 746.60,187.13 746.50,187.16 746.00,187.33 745.80,187.40 745.50,187.49 745.00,187.65 744.50,187.80 744.00,187.96 743.50,188.11 743.00,188.26 742.50,188.42 742.00,188.57 741.50,188.73 741.00,188.88 740.50,189.04 740.00,189.19 739.50,189.35 739.00,189.50 738.50,189.77 738.00,190.04 737.70,190.20 737.50,190.31 737.00,190.58 736.50,190.85 736.00,191.12 735.50,191.38 735.00,191.65 734.50,191.92 734.00,192.19 733.50,192.46 733.00,192.73 732.50,193.00 732.00,193.21 731.50,193.41 731.00,193.62 730.50,193.83 730.00,194.04 729.50,194.24 729.00,194.45 728.50,194.66 728.00,194.86 727.50,195.07 727.00,195.28 726.80,195.36 726.50,195.49 726.00,195.69 725.50,195.90 725.00,196.10 724.80,196.18 724.50,196.30 724.00,196.50 723.50,196.70 723.00,196.90 722.50,197.10 722.00,197.30 721.50,197.50 721.00,197.70 720.50,197.90 720.00,198.10 719.50,198.30 719.00,198.50 718.50,198.69 718.00,198.87 717.50,199.06 717.00,199.24 716.50,199.43 716.00,199.61 715.50,199.80 715.00,199.99 714.50,200.17 714.00,200.36 713.50,200.54 713.00,200.73 712.50,200.91 712.00,201.10 711.50,201.23 711.00,201.37 710.50,201.50 710.00,201.64 709.50,201.77 709.40,201.80 709.00,201.90 708.50,202.04 708.00,202.17 707.50,202.30 707.00,202.44 706.50,202.57 706.00,202.71 705.50,202.84 705.00,202.97 704.90,203.00 704.50,203.16 704.00,203.37 703.50,203.57 703.00,203.77 702.50,203.97 702.00,204.18 701.50,204.38 701.00,204.58 700.50,204.79 700.00,204.99 699.50,205.19 699.00,205.40 698.50,205.60 698.00,205.94 697.50,206.29 697.00,206.63 696.50,206.97 696.00,207.32 695.50,207.66 695.30,207.80 695.00,208.01 694.50,208.35 694.00,208.69 693.50,209.04 693.00,209.38 692.50,209.73 692.10,210.00 692.00,210.03 691.50,210.17 691.00,210.31 690.50,210.45 690.00,210.59 689.50,210.73 689.00,210.87 688.50,211.01 688.20,211.10 688.00,211.15 687.50,211.30 687.00,211.44 686.50,211.58 686.00,211.72 685.50,211.86 685.00,212.00 684.50,212.11 684.00,212.21 683.50,212.32 683.00,212.42 682.50,212.53 682.00,212.63 681.80,212.68 681.50,212.74 681.00,212.85 680.50,212.95 680.00,213.06 679.50,213.16 679.00,213.27 678.50,213.37 678.00,213.48 677.90,213.50 677.50,213.67 677.00,213.88 676.50,214.09 676.00,214.30 675.50,214.51 675.00,214.73 674.50,214.94 674.00,215.15 673.50,215.36 673.00,215.57 672.50,215.78 672.00,215.99 671.50,216.20 671.00,216.42 670.80,216.50 670.50,216.59 670.00,216.75 669.50,216.91 669.00,217.07 668.50,217.22 668.00,217.38 667.50,217.54 667.00,217.69 666.50,217.85 666.00,218.01 665.50,218.17 665.00,218.32 664.50,218.48 664.00,218.64 663.80,218.70 663.50,218.80 663.00,218.96 662.50,219.12 662.00,219.28 661.90,219.32 661.50,219.45 661.00,219.61 660.50,219.77 660.00,219.93 659.50,220.09 659.00,220.25 658.50,220.42 658.00,220.58 657.50,220.74 657.00,220.90 656.70,221.00 656.50,221.05 656.00,221.19 655.50,221.32 655.00,221.45 654.80,221.51 654.50,221.59 654.00,221.72 653.50,221.86 653.00,221.99 652.50,222.12 652.00,222.26 651.50,222.39 651.00,222.53 650.50,222.66 650.30,222.71 650.00,222.79 649.60,222.90 649.50,222.93 649.00,223.08 648.50,223.23 648.00,223.38 647.50,223.53 647.00,223.68 646.50,223.83 646.40,223.87 646.00,223.99 645.50,224.14 645.00,224.29 644.50,224.44 644.00,224.59 643.50,224.74 643.30,224.80 643.00,224.92 642.80,225.01 642.50,225.13 642.00,225.34 641.50,225.55 641.00,225.76 640.50,225.97 640.00,226.18 639.50,226.38 639.00,226.59 638.50,226.80 638.30,226.88 638.00,227.01 637.50,227.22 637.00,227.43 636.50,227.63 636.10,227.80 636.00,227.84 635.50,228.05 635.00,228.26 634.50,228.47 634.00,228.68 633.50,228.88 633.00,229.09 632.50,229.30 632.00,229.51 631.50,229.72 631.00,229.93 630.50,230.13 630.00,230.34 629.50,230.55 629.00,230.76 628.90,230.80 628.50,230.91 628.00,231.05 627.50,231.19 627.00,231.33 626.50,231.47 626.00,231.61 625.50,231.74 625.00,231.88 624.50,232.02 624.00,232.16 623.50,232.30 623.00,232.44 622.50,232.58 622.00,232.72 621.70,232.80 621.50,232.83 621.00,232.89 620.50,232.96 620.00,233.03 619.50,233.10 619.00,233.16 618.50,233.23 618.00,233.30 617.50,233.36 617.00,233.43 616.50,233.50 616.00,233.57 615.50,233.63 615.00,233.70 614.50,233.85 614.00,234.01 613.50,234.16 613.00,234.31 612.50,234.46 612.00,234.62 611.70,234.71 611.50,234.77 611.00,234.92 610.50,235.07 610.00,235.23 609.50,235.38 609.00,235.53 608.50,235.69 608.00,235.84 607.80,235.90 607.50,235.99 607.00,236.13 606.50,236.27 606.00,236.41 605.50,236.55 605.00,236.69 604.50,236.84 604.00,236.98 603.50,237.12 603.00,237.26 602.50,237.40 602.00,237.54 601.50,237.69 601.10,237.80 601.00,237.83 600.50,237.98 600.00,238.14 599.50,238.29 599.00,238.44 598.50,238.59 598.00,238.75 597.50,238.90 597.20,238.99 597.00,239.05 596.50,239.21 596.00,239.36 595.50,239.51 595.00,239.66 594.50,239.82 594.40,239.85 594.00,239.97 593.90,240.00 593.50,240.14 593.00,240.32 592.50,240.51 592.00,240.69 591.50,240.87 591.00,241.05 590.50,241.23 590.00,241.41 589.50,241.59 589.00,241.77 588.50,241.95 588.00,242.13 587.50,242.31 587.00,242.49 586.70,242.60 586.50,242.64 586.00,242.72 585.50,242.81 585.00,242.90 584.50,242.99 584.00,243.08 583.50,243.17 583.00,243.26 582.50,243.35 582.00,243.44 581.50,243.53 581.00,243.62 580.50,243.70 580.00,243.79 579.50,243.88 579.40,243.90 579.00,243.95 578.50,244.01 578.00,244.08 577.50,244.14 577.00,244.20 576.50,244.26 576.10,244.31 576.00,244.33 575.50,244.39 575.00,244.45 574.50,244.51 574.00,244.58 573.50,244.64 573.00,244.70 572.80,244.73 572.50,244.76 572.20,244.80 572.00,244.83 571.50,244.91 571.00,244.98 570.50,245.06 570.00,245.14 569.50,245.21 569.00,245.29 568.50,245.37 568.30,245.40 568.00,245.44 567.50,245.52 567.00,245.59 566.50,245.67 566.00,245.75 565.50,245.82 565.00,245.90 564.50,246.03 564.00,246.16 563.50,246.30 563.30,246.35 563.00,246.43 562.50,246.56 562.00,246.69 561.50,246.82 561.00,246.96 560.50,247.09 560.00,247.22 559.50,247.35 559.00,247.48 558.90,247.51 558.50,247.62 558.00,247.75 557.80,247.80 557.50,247.89 557.00,248.04 556.50,248.20 556.10,248.32 556.00,248.35 555.50,248.50 555.00,248.66 554.50,248.81 554.00,248.96 553.50,249.11 553.00,249.27 552.50,249.42 552.00,249.57 551.50,249.72 551.00,249.88 550.60,250.00 550.50,250.03 550.00,250.15 549.50,250.28 549.00,250.41 548.50,250.53 548.00,250.66 547.50,250.79 547.00,250.91 546.70,250.99 546.50,251.04 546.00,251.17 545.50,251.29 545.00,251.42 544.50,251.55 544.00,251.67 543.90,251.70 543.50,251.83 543.00,252.00 542.50,252.16 542.00,252.32 541.50,252.49 541.00,252.65 540.50,252.82 540.00,252.98 539.50,253.14 539.00,253.31 538.50,253.47 538.00,253.64 537.50,253.80 537.20,253.90 537.00,253.97 536.50,254.14 536.00,254.32 535.50,254.49 535.00,254.66 534.50,254.84 534.00,255.01 533.50,255.18 533.00,255.36 532.50,255.53 532.00,255.71 531.50,255.88 531.00,256.05 530.50,256.23 530.00,256.40 529.50,256.59 529.00,256.77 528.90,256.81 528.50,256.96 528.00,257.15 527.50,257.33 527.00,257.52 526.50,257.71 526.00,257.89 525.50,258.08 525.00,258.27 524.50,258.45 524.40,258.49 524.00,258.64 523.50,258.83 523.30,258.90 523.00,259.05 522.50,259.30 522.00,259.55 521.50,259.80 521.00,260.05 520.50,260.30 520.00,260.55 519.50,260.80 519.00,261.05 518.50,261.30 518.00,261.55 517.50,261.80 517.00,262.05 516.70,262.20 516.50,262.25 516.00,262.38 515.50,262.50 515.00,262.63 514.50,262.76 514.00,262.89 513.90,262.91 513.50,263.01 513.00,263.14 512.50,263.27 512.00,263.39 511.50,263.52 511.00,263.65 510.60,263.75 510.50,263.77 510.00,263.90 509.50,264.05 509.00,264.20 508.50,264.35 508.00,264.50 507.50,264.65 507.20,264.74 507.00,264.80 506.50,264.95 506.00,265.10 505.50,265.26 505.00,265.41 504.50,265.56 504.00,265.71 503.50,265.86 503.00,266.01 502.50,266.16 502.00,266.31 501.70,266.40 501.50,266.41 501.00,266.43 500.50,266.45 500.00,266.48 499.50,266.50 499.00,266.52 498.50,266.54 498.30,266.55 498.00,266.57 497.50,266.59 497.00,266.61 496.50,266.63 496.00,266.66 495.50,266.68 495.00,266.70 494.50,266.78 494.00,266.85 493.50,266.93 493.00,267.01 492.50,267.08 492.00,267.16 491.50,267.23 491.00,267.31 490.50,267.39 490.00,267.46 489.50,267.54 489.00,267.62 488.50,267.69 488.00,267.77 487.80,267.80 487.50,267.89 487.00,268.04 486.50,268.19 486.00,268.34 485.50,268.49 485.00,268.64 484.50,268.79 484.00,268.93 483.50,269.08 483.00,269.23 482.50,269.38 482.00,269.53 481.70,269.62 481.50,269.68 481.10,269.80 481.00,269.83 480.50,269.98 480.00,270.14 479.50,270.29 479.00,270.44 478.90,270.47 478.50,270.59 478.00,270.75 477.50,270.90 477.00,271.05 476.50,271.21 476.00,271.36 475.50,271.51 475.00,271.66 474.50,271.82 474.00,271.97 473.90,272.00 473.50,272.11 473.00,272.24 472.50,272.37 472.00,272.50 471.50,272.63 471.00,272.77 470.50,272.90 470.00,273.03 469.50,273.16 469.00,273.29 468.50,273.42 468.00,273.56 467.50,273.69 467.00,273.82 466.70,273.90 466.50,273.93 466.00,274.00 465.50,274.07 465.00,274.14 464.50,274.21 464.00,274.28 463.50,274.35 463.00,274.42 462.50,274.49 462.00,274.56 461.50,274.63 461.00,274.70 460.50,274.77 460.00,274.84 459.50,274.92 459.00,274.99 458.90,275.00 458.50,275.08 458.00,275.19 457.50,275.29 457.00,275.40 456.50,275.50 456.00,275.61 455.50,275.71 455.00,275.81 454.50,275.92 454.00,276.02 453.50,276.13 453.00,276.23 452.50,276.34 452.20,276.40 452.00,276.44 451.50,276.54 451.00,276.63 450.50,276.73 450.00,276.83 449.50,276.93 449.00,277.02 448.50,277.12 448.00,277.22 447.50,277.31 447.00,277.41 446.50,277.51 446.00,277.61 445.60,277.68 445.50,277.70 445.00,277.80 444.50,277.94 444.00,278.08 443.50,278.22 443.30,278.27 443.00,278.36 442.50,278.49 442.00,278.63 441.50,278.77 441.00,278.91 440.50,279.05 440.00,279.19 439.50,279.33 439.00,279.47 438.50,279.61 438.00,279.74 437.80,279.80 437.50,279.83 437.00,279.89 436.50,279.94 436.00,280.00 435.50,280.06 435.00,280.11 434.50,280.17 434.00,280.22 433.50,280.28 433.00,280.33 432.50,280.39 432.00,280.44 431.50,280.50 431.00,280.56 430.60,280.60 430.50,280.61 430.00,280.66 429.50,280.71 429.00,280.76 428.50,280.82 428.00,280.87 427.50,280.92 427.00,280.97 426.50,281.02 426.00,281.07 425.50,281.12 425.00,281.17 424.50,281.23 424.00,281.28 423.50,281.33 423.00,281.38 422.80,281.40 422.50,281.41 422.00,281.43 421.50,281.45 421.00,281.47 420.50,281.50 420.00,281.52 419.50,281.54 419.00,281.56 418.50,281.58 418.00,281.60 417.80,281.61 417.50,281.62 417.00,281.64 416.50,281.66 416.00,281.68 415.60,281.70 415.50,281.72 415.00,281.80 414.50,281.88 414.00,281.96 413.50,282.04 413.00,282.13 412.50,282.21 412.00,282.29 411.50,282.37 411.00,282.46 410.50,282.54 410.00,282.62 409.50,282.70 409.00,282.78 408.90,282.80 408.50,282.86 408.00,282.93 407.50,283.00 407.00,283.07 406.50,283.14 406.00,283.21 405.50,283.28 405.00,283.35 404.50,283.42 404.00,283.49 403.50,283.56 403.00,283.63 402.50,283.70 402.00,283.77 401.50,283.84 401.10,283.90 401.00,283.91 400.50,283.97 400.00,284.02 399.50,284.08 399.00,284.13 398.50,284.19 398.00,284.24 397.50,284.30 397.00,284.36 396.50,284.41 396.00,284.47 395.50,284.52 395.00,284.58 394.50,284.63 394.00,284.69 393.90,284.70 393.50,284.76 393.30,284.79 393.00,284.84 392.50,284.91 392.00,284.99 391.50,285.07 391.00,285.14 390.50,285.22 390.00,285.30 389.50,285.37 389.00,285.45 388.50,285.52 388.00,285.60 387.50,285.68 387.00,285.75 386.70,285.80 386.50,285.82 386.00,285.86 385.60,285.89 385.50,285.90 385.00,285.94 384.50,285.98 384.00,286.02 383.50,286.06 383.00,286.10 382.80,286.12 382.50,286.15 382.00,286.19 381.50,286.23 381.00,286.27 380.50,286.31 380.00,286.35 379.50,286.39 379.40,286.40 379.00,286.47 378.50,286.55 378.00,286.63 377.80,286.67 377.50,286.72 377.00,286.80 376.50,286.88 376.00,286.97 375.50,287.05 375.00,287.13 374.50,287.22 374.00,287.30 373.50,287.38 373.00,287.47 372.50,287.55 372.20,287.60 372.00,287.63 371.50,287.70 371.00,287.77 370.50,287.84 370.00,287.91 369.50,287.98 369.00,288.05 368.50,288.12 368.00,288.19 367.50,288.26 367.00,288.33 366.50,288.40 366.00,288.47 365.50,288.53 365.00,288.60 364.50,288.67 364.00,288.74 363.60,288.80 363.50,288.83 363.00,289.01 362.50,289.18 362.00,289.35 361.50,289.52 361.00,289.70 360.50,289.87 360.00,290.04 359.50,290.21 359.00,290.39 358.50,290.56 358.00,290.73 357.80,290.80 357.50,290.88 357.00,291.02 356.50,291.16 356.00,291.30 355.50,291.44 355.00,291.58 354.50,291.72 354.00,291.86 353.50,291.99 353.00,292.13 352.80,292.19 352.50,292.27 352.00,292.41 351.50,292.55 351.10,292.66 351.00,292.69 350.60,292.80 350.50,292.80 350.00,292.82 349.50,292.84 349.00,292.86 348.50,292.88 348.00,292.90 347.50,292.92 347.00,292.94 346.50,292.96 346.00,292.98 345.50,293.00 345.00,293.02 344.50,293.03 344.00,293.05 343.50,293.07 343.00,293.09 342.80,293.10 342.50,293.14 342.00,293.20 341.50,293.26 341.00,293.31 340.50,293.37 340.00,293.43 339.50,293.49 339.00,293.55 338.50,293.61 338.00,293.67 337.50,293.73 337.00,293.79 336.50,293.85 336.10,293.90 336.00,293.90 335.50,293.90 335.00,293.90 334.50,293.90 334.00,293.90 333.50,293.90 333.00,293.90 332.50,293.90 332.00,293.90 331.50,293.90 331.00,293.90 330.50,293.90 330.00,293.90 329.50,293.90 329.40,293.90 329.00,293.90 328.90,293.90 328.50,293.93 328.00,293.97 327.50,294.00 327.00,294.04 326.50,294.08 326.10,294.11 326.00,294.11 325.50,294.15 325.00,294.19 324.50,294.22 324.00,294.26 323.50,294.30 323.00,294.33 322.50,294.37 322.00,294.41 321.50,294.44 321.00,294.48 320.50,294.52 320.00,294.55 319.50,294.59 319.00,294.63 318.50,294.66 318.00,294.70 317.50,294.74 317.00,294.77 316.50,294.81 316.00,294.85 315.50,294.88 315.00,294.92 314.50,294.96 314.00,294.99 313.90,295.00 313.50,295.05 313.00,295.11 312.50,295.18 312.00,295.24 311.50,295.30 311.00,295.36 310.50,295.43 310.00,295.49 309.50,295.55 309.00,295.61 308.50,295.67 308.00,295.74 307.50,295.80 307.20,295.84 307.00,295.86 306.70,295.90 306.50,295.91 306.00,295.92 305.50,295.93 305.00,295.94 304.50,295.96 304.00,295.97 303.50,295.98 303.00,295.99 302.50,296.01 302.00,296.02 301.50,296.03 301.00,296.05 300.50,296.06 300.00,296.07 299.50,296.08 299.00,296.10 298.90,296.10 298.50,296.19 298.00,296.31 297.50,296.43 297.00,296.55 296.50,296.67 296.00,296.78 295.50,296.90 295.00,297.02 294.50,297.14 294.00,297.26 293.50,297.38 293.00,297.49 292.50,297.61 292.00,297.73 291.70,297.80 291.50,297.85 291.00,297.97 290.60,298.06 290.50,298.09 290.00,298.21 289.50,298.33 289.00,298.44 288.90,298.47 288.50,298.56 288.00,298.68 287.50,298.80 287.00,298.92 286.50,299.04 286.00,299.16 285.50,299.28 285.00,299.40 284.50,299.57 284.00,299.74 283.50,299.91 283.00,300.09 282.50,300.26 282.00,300.43 281.50,300.60 281.00,300.77 280.50,300.94 280.00,301.12 279.50,301.29 279.00,301.46 278.50,301.63 278.30,301.70 278.00,301.78 277.50,301.92 277.20,302.00 277.00,302.05 276.50,302.19 276.00,302.33 275.50,302.46 275.00,302.60 274.50,302.74 274.00,302.87 273.90,302.90 273.50,303.01 273.00,303.15 272.50,303.28 272.00,303.42 271.50,303.55 271.00,303.69 270.60,303.80 270.50,303.80 270.00,303.81 269.50,303.82 269.00,303.82 268.50,303.83 268.00,303.84 267.50,303.85 267.00,303.85 266.50,303.86 266.00,303.87 265.50,303.88 265.00,303.88 264.50,303.89 264.00,303.90 263.90,303.90 263.50,303.98 263.00,304.08 262.50,304.18 262.00,304.28 261.50,304.38 261.00,304.48 260.50,304.58 260.00,304.69 259.50,304.79 259.00,304.89 258.50,304.99 258.00,305.09 257.50,305.19 257.00,305.29 256.50,305.39 256.00,305.49 255.50,305.59 255.00,305.69 254.50,305.79 254.00,305.89 253.50,305.99 253.00,306.10 252.50,306.20 252.00,306.30 251.50,306.40 251.00,306.50 250.50,306.60 250.00,306.70 249.50,306.74 249.00,306.77 248.50,306.81 248.00,306.85 247.50,306.88 247.00,306.92 246.50,306.96 246.00,306.99 245.50,307.03 245.00,307.07 244.50,307.10 244.00,307.14 243.50,307.18 243.00,307.21 242.50,307.25 242.20,307.27 242.00,307.29 241.50,307.32 241.00,307.36 240.50,307.40 240.00,307.43 239.50,307.47 239.00,307.51 238.50,307.54 238.00,307.58 237.50,307.62 237.00,307.65 236.50,307.69 236.00,307.73 235.60,307.76 235.50,307.76 235.00,307.80 234.50,307.83 234.00,307.86 233.50,307.89 233.00,307.92 232.50,307.95 232.00,307.98 231.50,308.01 231.00,308.04 230.50,308.07 230.00,308.10 229.50,308.13 229.00,308.16 228.50,308.19 228.00,308.22 227.50,308.25 227.00,308.28 226.50,308.31 226.00,308.34 225.50,308.37 225.00,308.40 224.50,308.43 224.00,308.46 223.50,308.49 223.00,308.52 222.50,308.55 222.00,308.58 221.50,308.61 221.00,308.64 220.50,308.67 220.00,308.70 219.50,308.77 219.00,308.85 218.50,308.92 218.00,308.99 217.50,309.06 217.00,309.14 216.50,309.21 216.00,309.28 215.50,309.36 215.00,309.43 214.50,309.50 214.00,309.57 213.50,309.65 213.00,309.72 212.50,309.79 212.00,309.87 211.50,309.94 211.00,310.01 210.50,310.09 210.00,310.16 209.50,310.23 209.00,310.30 208.50,310.38 208.00,310.45 207.50,310.52 207.00,310.60 206.50,310.67 206.00,310.74 205.60,310.80 205.50,310.82 205.00,310.92 204.50,311.02 204.00,311.12 203.50,311.22 203.30,311.26 203.00,311.32 202.50,311.42 202.00,311.52 201.50,311.62 201.00,311.72 200.50,311.82 200.00,311.92 199.50,312.02 199.00,312.12 198.50,312.22 198.00,312.32 197.50,312.42 197.00,312.52 196.50,312.62 196.00,312.72 195.50,312.82 195.00,312.92 194.50,313.02 194.40,313.04 194.00,313.12 193.50,313.22 193.00,313.32 192.50,313.42 192.00,313.52 191.50,313.62 191.10,313.70 191.00,313.72 190.50,313.80 190.00,313.88 189.50,313.96 189.00,314.04 188.50,314.13 188.00,314.21 187.50,314.29 187.00,314.37 186.50,314.46 186.10,314.52 186.00,314.54 185.50,314.62 185.00,314.70 184.50,314.78 184.40,314.80 184.00,314.86 183.50,314.93 183.00,315.00 182.50,315.07 182.00,315.14 181.50,315.21 181.10,315.27 181.00,315.29 180.50,315.36 180.00,315.43 179.50,315.50 179.00,315.57 178.50,315.64 178.00,315.71 177.50,315.79 177.00,315.86 176.70,315.90 176.50,315.94 176.00,316.04 175.50,316.13 175.00,316.23 174.50,316.33 174.40,316.35 174.00,316.42 173.50,316.52 173.00,316.62 172.50,316.71 172.00,316.81 171.50,316.91 171.00,317.01 170.50,317.10 170.00,317.20 169.50,317.24 169.00,317.28 168.50,317.32 168.00,317.36 167.50,317.40 167.00,317.44 166.50,317.48 166.00,317.52 165.50,317.56 165.00,317.59 164.70,317.62 164.50,317.63 164.00,317.67 163.50,317.71 163.00,317.75 162.50,317.79 162.40,317.80 162.00,317.86 161.50,317.94 161.00,318.01 160.50,318.09 160.00,318.17 159.50,318.24 159.00,318.32 158.50,318.40 158.00,318.47 157.50,318.55 157.00,318.62 156.50,318.70 156.00,318.78 155.50,318.85 155.00,318.93 154.50,319.01 154.00,319.08 153.50,319.16 153.00,319.24 152.50,319.31 152.00,319.39 151.50,319.47 151.00,319.54 150.50,319.62 150.00,319.69 149.50,319.77 149.00,319.85 148.50,319.92 148.00,320.00 147.50,320.05 147.00,320.10 146.50,320.15 146.00,320.19 145.50,320.24 145.00,320.29 144.70,320.32 144.50,320.34 144.00,320.39 143.50,320.44 143.00,320.49 142.50,320.53 142.00,320.58 141.50,320.63 141.00,320.68 140.50,320.73 140.00,320.78 139.50,320.83 139.00,320.88 138.50,320.92 138.00,320.97 137.50,321.02 137.00,321.07 136.50,321.12 136.00,321.17 135.50,321.22 135.00,321.26 134.50,321.31 134.00,321.36 133.60,321.40 133.50,321.41 133.00,321.45 132.50,321.50 132.00,321.54 131.50,321.59 131.00,321.63 130.50,321.68 130.00,321.72 129.50,321.77 129.00,321.81 128.50,321.86 128.00,321.90 127.50,321.95 127.00,321.99 126.50,322.04 126.00,322.08 125.50,322.13 125.20,322.16 125.00,322.17 124.70,322.20 124.50,322.23 124.00,322.31 123.50,322.40 123.00,322.48 122.50,322.56 122.00,322.64 121.50,322.73 121.00,322.81 120.50,322.89 120.00,322.97 119.50,323.05 119.00,323.14 118.50,323.22 118.00,323.30 117.50,323.34 117.00,323.39 116.50,323.43 116.00,323.48 115.50,323.52 115.00,323.57 114.50,323.61 114.00,323.66 113.50,323.70 113.00,323.75 112.50,323.79 112.00,323.84 111.50,323.88 111.30,323.90 111.00,323.99 110.50,324.13 110.00,324.27 109.50,324.41 109.00,324.56 108.50,324.70 108.00,324.84 107.50,324.99 107.00,325.13 106.90,325.16 106.50,325.27 106.00,325.41 105.50,325.56 105.00,325.70 104.50,325.84 104.00,325.99 103.60,326.10 103.50,326.11 103.00,326.15 102.50,326.19 102.00,326.23 101.50,326.27 101.00,326.31 100.50,326.35 100.00,326.40 99.50,326.44 99.10,326.47 99.00,326.48 98.50,326.52 98.00,326.56 97.50,326.60 97.00,326.64 96.50,326.68 96.30,326.70 96.00,326.76 95.50,326.85 95.00,326.95 94.70,327.00 94.50,327.04 94.00,327.14 93.50,327.23 93.00,327.33 92.50,327.42 92.00,327.52 91.50,327.61 91.00,327.70 90.50,327.80 90.00,327.89 89.50,327.99 89.00,328.08 88.50,328.18 88.00,328.27 87.50,328.37 87.00,328.46 86.50,328.56 86.00,328.65 85.50,328.75 85.00,328.84 84.50,328.94 84.00,329.03 83.50,329.13 83.00,329.22 82.50,329.32 82.00,329.41 81.50,329.51 81.00,329.60" fill="rgb(30,60,255)" shape-rendering="crispEdges"/>
<polygon points="81.00,329.60 81.50,329.51 82.00,329.41 82.50,329.32 83.00,329.22 83.50,329.13 84.00,329.03 84.50,328.94 85.00,328.84 85.50,328.75 86.00,328.65 86.50,328.56 87.00,328.46 87.50,328.37 88.00,328.27 88.50,328.18 89.00,328.08 89.50,327.99 90.00,327.89 90.50,327.80 91.00,327.70 91.50,327.61 92.00,327.52 92.50,327.42 93.00,327.33 93.50,327.23 94.00,327.14 94.50,327.04 94.70,327.00 95.00,326.95 95.50,326.85 96.00,326.76 96.30,326.70 96.50,326.68 97.00,326.64 97.50,326.60 98.00,326.56 98.50,326.52 99.00,326.48 99.10,326.47 99.50,326.44 100.00,326.40 100.50,326.35 101.00,326.31 101.50,326.27 102.00,326.23 102.50,326.19 103.00,326.15 103.50,326.11 103.60,326.10 104.00,325.99 104.50,325.84 105.00,325.70 105.50,325.56 106.00,325.41 106.50,325.27 106.90,325.16 107.00,325.13 107.50,324.99 108.00,324.84 108.50,324.70 109.00,324.56 109.50,324.41 110.00,324.27 110.50,324.13 111.00,323.99 111.30,323.90 111.50,323.88 112.00,323.84 112.50,323.79 113.00,323.75 113.50,323.70 114.00,323.66 114.50,323.61 115.00,323.57 115.50,323.52 116.00,323.48 116.50,323.43 117.00,323.39 117.50,323.34 118.00,323.30 118.50,323.22 119.00,323.14 119.50,323.05 120.00,322.97 120.50,322.89 121.00,322.81 121.50,322.73 122.00,322.64 122.50,322.56 123.00,322.48 123.50,322.40 124.00,322.31 124.50,322.23 124.70,322.20 125.00,322.17 125.20,322.16 125.50,322.13 126.00,322.08 126.50,322.04 127.00,321.99 127.50,321.95 128.00,321.90 128.50,321.86 129.00,321.81 129.50,321.77 130.00,321.72 130.50,321.68 131.00,321.63 131.50,321.59 132.00,321.54 132.50,321.50 133.00,321.45 133.50,321.41 133.60,321.40 134.00,321.36 134.50,321.31 135.00,321.26 135.50,321.22 136.00,321.17 136.50,321.12 137.00,321.07 137.50,321.02 138.00,320.97 138.50,320.92 139.00,320.88 139.50,320.83 140.00,320.78 140.50,320.73 141.00,320.68 141.50,320.63 142.00,320.58 142.50,320.53 143.00,320.49 143.50,320.44 144.00,320.39 144.50,320.34 144.70,320.32 145.00,320.29 145.50,320.24 146.00,320.19 146.50,320.15 147.00,320.10 147.50,320.05 148.00,320.00 148.50,319.92 149.00,319.85 149.50,319.77 150.00,319.69 150.50,319.62 151.00,319.54 151.50,319.47 152.00,319.39 152.50,319.31 153.00,319.24 153.50,319.16 154.00,319.08 154.50,319.01 155.00,318.93 155.50,318.85 156.00,318.78 156.50,318.70 157.00,318.62 157.50,318.55 158.00,318.47 158.50,318.40 159.00,318.32 159.50,318.24 160.00,318.17 160.50,318.09 161.00,318.01 161.50,317.94 162.00,317.86 162.40,317.80 162.50,317.79 163.00,317.75 163.50,317.71 164.00,317.67 164.50,317.63 164.70,317.62 165.00,317.59 165.50,317.56 166.00,317.52 166.50,317.48 167.00,317.44 167.50,317.40 168.00,317.36 168.50,317.32 169.00,317.28 169.50,317.24 170.00,317.20 170.50,317.10 171.00,317.01 171.50,316.91 172.00,316.81 172.50,316.71 173.00,316.62 173.50,316.52 174.00,316.42 174.40,316.35 174.50,316.33 175.00,316.23 175.50,316.13 176.00,316.04 176.50,315.94 176.70,315.90 177.00,315.86 177.50,315.79 178.00,315.71 178.50,315.64 179.00,315.57 179.50,315.50 180.00,315.43 180.50,315.36 181.00,315.29 181.10,315.27 181.50,315.21 182.00,315.14 182.50,315.07 183.00,315.00 183.50,314.93 184.00,314.86 184.40,314.80 184.50,314.78 185.00,314.70 185.50,314.62 186.00,314.54 186.10,314.52 186.50,314.46 187.00,314.37 187.50,314.29 188.00,314.21 188.50,314.13 189.00,314.04 189.50,313.96 190.00,313.88 190.50,313.80 191.00,313.72 191.10,313.70 191.50,313.62 192.00,313.52 192.50,313.42 193.00,313.32 193.50,313.22 194.00,313.12 194.40,313.04 194.50,313.02 195.00,312.92 195.50,312.82 196.00,312.72 196.50,312.62 197.00,312.52 197.50,312.42 198.00,312.32 198.50,312.22 199.00,312.12 199.50,312.02 200.00,311.92 200.50,311.82 201.00,311.72 201.50,311.62 202.00,311.52 202.50,311.42 203.00,311.32 203.30,311.26 203.50,311.22 204.00,311.12 204.50,311.02 205.00,310.92 205.50,310.82 205.60,310.80 206.00,310.74 206.50,310.67 207.00,310.60 207.50,310.52 208.00,310.45 208.50,310.38 209.00,310.30 209.50,310.23 210.00,310.16 210.50,310.09 211.00,310.01 211.50,309.94 212.00,309.87 212.50,309.79 213.00,309.72 213.50,309.65 214.00,309.57 214.50,309.50 215.00,309.43 215.50,309.36 216.00,309.28 216.50,309.21 217.00,309.14 217.50,309.06 218.00,308.99 218.50,308.92 219.00,308.85 219.50,308.77 220.00,308.70 220.50,308.67 221.00,308.64 221.50,308.61 222.00,308.58 222.50,308.55 223.00,308.52 223.50,308.49 224.00,308.46 224.50,308.43 225.00,308.40 225.50,308.37 226.00,308.34 226.50,308.31 227.00,308.28 227.50,308.25 228.00,308.22 228.50,308.19 229.00,308.16 229.50,308.13 230.00,308.10 230.50,308.07 231.00,308.04 231.50,308.01 232.00,307.98 232.50,307.95 233.00,307.92 233.50,307.89 234.00,307.86 234.50,307.83 235.00,307.80 235.50,307.76 235.60,307.76 236.00,307.73 236.50,307.69 237.00,307.65 237.50,307.62 238.00,307.58 238.50,307.54 239.00,307.51 239.50,307.47 240.00,307.43 240.50,307.40 241.00,307.36 241.50,307.32 242.00,307.29 242.20,307.27 242.50,307.25 243.00,307.21 243.50,307.18 244.00,307.14 244.50,307.10 245.00,307.07 245.50,307.03 246.00,306.99 246.50,306.96 247.00,306.92 247.50,306.88 248.00,306.85 248.50,306.81 249.00,306.77 249.50,306.74 250.00,306.70 250.50,306.60 251.00,306.50 251.50,306.40 252.00,306.30 252.50,306.20 253.00,306.10 253.50,305.99 254.00,305.89 254.50,305.79 255.00,305.69 255.50,305.59 256.00,305.49 256.50,305.39 257.00,305.29 257.50,305.19 258.00,305.09 258.50,304.99 259.00,304.89 259.50,304.79 260.00,304.69 260.50,304.58 261.00,304.48 261.50,304.38 262.00,304.28 262.50,304.18 263.00,304.08 263.50,303.98 263.90,303.90 264.00,303.90 264.50,303.89 265.00,303.88 265.50,303.88 266.00,303.87 266.50,303.86 267.00,303.85 267.50,303.85 268.00,303.84 268.50,303.83 269.00,303.82 269.50,303.82 270.00,303.81 270.50,303.80 270.60,303.80 271.00,303.69 271.50,303.55 272.00,303.42 272.50,303.28 273.00,303.15 273.50,303.01 273.90,302.90 274.00,302.87 274.50,302.74 275.00,302.60 275.50,302.46 276.00,302.33 276.50,302.19 277.00,302.05 277.20,302.00 277.50,301.92 278.00,301.78 278.30,301.70 278.50,301.63 279.00,301.46 279.50,301.29 280.00,301.12 280.50,300.94 281.00,300.77 281.50,300.60 282.00,300.43 282.50,300.26 283.00,300.09 283.50,299.91 284.00,299.74 284.50,299.57 285.00,299.40 285.50,299.28 286.00,299.16 286.50,299.04 287.00,298.92 287.50,298.80 288.00,298.68 288.50,298.56 288.90,298.47 289.00,298.44 289.50,298.33 290.00,298.21 290.50,298.09 290.60,298.06 291.00,297.97 291.50,297.85 291.70,297.80 292.00,297.73 292.50,297.61 293.00,297.49 293.50,297.38 294.00,297.26 294.50,297.14 295.00,297.02 295.50,296.90 296.00,296.78 296.50,296.67 297.00,296.55 297.50,296.43 298.00,296.31 298.50,296.19 298.90,296.10 299.00,296.10 299.50,296.08 300.00,296.07 300.50,296.06 301.00,296.05 301.50,296.03 302.00,296.02 302.50,296.01 303.00,295.99 303.50,295.98 304.00,295.97 304.50,295.96 305.00,295.94 305.50,295.93 306.00,295.92 306.50,295.91 306.70,295.90 307.00,295.86 307.20,295.84 307.50,295.80 308.00,295.74 308.50,295.67 309.00,295.61 309.50,295.55 310.00,295.49 310.50,295.43 311.00,295.36 311.50,295.30 312.00,295.24 312.50,295.18 313.00,295.11 313.50,295.05 313.90,295.00 314.00,294.99 314.50,294.96 315.00,294.92 315.50,294.88 316.00,294.85 316.50,294.81 317.00,294.77 317.50,294.74 318.00,294.70 318.50,294.66 319.00,294.63 319.50,294.59 320.00,294.55 320.50,294.52 321.00,294.48 321.50,294.44 322.00,294.41 322.50,294.37 323.00,294.33 323.50,294.30 324.00,294.26 324.50,294.22 325.00,294.19 325.50,294.15 326.00,294.11 326.10,294.11 326.50,294.08 327.00,294.04 327.50,294.00 328.00,293.97 328.50,293.93 328.90,293.90 329.00,293.90 329.40,293.90 329.50,293.90 330.00,293.90 330.50,293.90 331.00,293.90 331.50,293.90 332.00,293.90 332.50,293.90 333.00,293.90 333.50,293.90 334.00,293.90 334.50,293.90 335.00,293.90 335.50,293.90 336.00,293.90 336.10,293.90 336.50,293.85 337.00,293.79 337.50,293.73 338.00,293.67 338.50,293.61 339.00,293.55 339.50,293.49 340.00,293.43 340.50,293.37 341.00,293.31 341.50,293.26 342.00,293.20 342.50,293.14 342.80,293.10 343.00,293.09 343.50,293.07 344.00,293.05 344.50,293.03 345.00,293.02 345.50,293.00 346.00,292.98 346.50,292.96 347.00,292.94 347.50,292.92 348.00,292.90 348.50,292.88 349.00,292.86 349.50,292.84 350.00,292.82 350.50,292.80 350.60,292.80 351.00,292.69 351.10,292.66 351.50,292.55 352.00,292.41 352.50,292.27 352.80,292.19 353.00,292.13 353.50,291.99 354.00,291.86 354.50,291.72 355.00,291.58 355.50,291.44 356.00,291.30 356.50,291.16 357.00,291.02 357.50,290.88 357.80,290.80 358.00,290.73 358.50,290.56 359.00,290.39 359.50,290.21 360.00,290.04 360.50,289.87 361.00,289.70 361.50,289.52 362.00,289.35 362.50,289.18 363.00,289.01 363.50,288.83 363.60,288.80 364.00,288.74 364.50,288.67 365.00,288.60 365.50,288.53 366.00,288.47 366.50,288.40 367.00,288.33 367.50,288.26 368.00,288.19 368.50,288.12 369.00,288.05 369.50,287.98 370.00,287.91 370.50,287.84 371.00,287.77 371.50,287.70 372.00,287.63 372.20,287.60 372.50,287.55 373.00,287.47 373.50,287.38 374.00,287.30 374.50,287.22 375.00,287.13 375.50,287.05 376.00,286.97 376.50,286.88 377.00,286.80 377.50,286.72 377.80,286.67 378.00,286.63 378.50,286.55 379.00,286.47 379.40,286.40 379.50,286.39 380.00,286.35 380.50,286.31 381.00,286.27 381.50,286.23 382.00,286.19 382.50,286.15 382.80,286.12 383.00,286.10 383.50,286.06 384.00,286.02 384.50,285.98 385.00,285.94 385.50,285.90 385.60,285.89 386.00,285.86 386.50,285.82 386.70,285.80 387.00,285.75 387.50,285.68 388.00,285.60 388.50,285.52 389.00,285.45 389.50,285.37 390.00,285.30 390.50,285.22 391.00,285.14 391.50,285.07 392.00,284.99 392.50,284.91 393.00,284.84 393.30,284.79 393.50,284.76 393.90,284.70 394.00,284.69 394.50,284.63 395.00,284.58 395.50,284.52 396.00,284.47 396.50,284.41 397.00,284.36 397.50,284.30 398.00,284.24 398.50,284.19 399.00,284.13 399.50,284.08 400.00,284.02 400.50,283.97 401.00,283.91 401.10,283.90 401.50,283.84 402.00,283.77 402.50,283.70 403.00,283.63 403.50,283.56 404.00,283.49 404.50,283.42 405.00,283.35 405.50,283.28 406.00,283.21 406.50,283.14 407.00,283.07 407.50,283.00 408.00,282.93 408.50,282.86 408.90,282.80 409.00,282.78 409.50,282.70 410.00,282.62 410.50,282.54 411.00,282.46 411.50,282.37 412.00,282.29 412.50,282.21 413.00,282.13 413.50,282.04 414.00,281.96 414.50,281.88 415.00,281.80 415.50,281.72 415.60,281.70 416.00,281.68 416.50,281.66 417.00,281.64 417.50,281.62 417.80,281.61 418.00,281.60 418.50,281.58 419.00,281.56 419.50,281.54 420.00,281.52 420.50,281.50 421.00,281.47 421.50,281.45 422.00,281.43 422.50,281.41 422.80,281.40 423.00,281.38 423.50,281.33 424.00,281.28 424.50,281.23 425.00,281.17 425.50,281.12 426.00,281.07 426.50,281.02 427.00,280.97 427.50,280.92 428.00,280.87 428.50,280.82 429.00,280.76 429.50,280.71 430.00,280.66 430.50,280.61 430.60,280.60 431.00,280.56 431.50,280.50 432.00,280.44 432.50,280.39 433.00,280.33 433.50,280.28 434.00,280.22 434.50,280.17 435.00,280.11 435.50,280.06 436.00,280.00 436.50,279.94 437.00,279.89 437.50,279.83 437.80,279.80 438.00,279.74 438.50,279.61 439.00,279.47 439.50,279.33 440.00,279.19 440.50,279.05 441.00,278.91 441.50,278.77 442.00,278.63 442.50,278.49 443.00,278.36 443.30,278.27 443.50,278.22 444.00,278.08 444.50,277.94 445.00,277.80 445.50,277.70 445.60,277.68 446.00,277.61 446.50,277.51 447.00,277.41 447.50,277.31 448.00,277.22 448.50,277.12 449.00,277.02 449.50,276.93 450.00,276.83 450.50,276.73 451.00,276.63 451.50,276.54 452.00,276.44 452.20,276.40 452.50,276.34 453.00,276.23 453.50,276.13 454.00,276.02 454.50,275.92 455.00,275.81 455.50,275.71 456.00,275.61 456.50,275.50 457.00,275.40 457.50,275.29 458.00,275.19 458.50,275.08 458.90,275.00 459.00,274.99 459.50,274.92 460.00,274.84 460.50,274.77 461.00,274.70 461.50,274.63 462.00,274.56 462.50,274.49 463.00,274.42 463.50,274.35 464.00,274.28 464.50,274.21 465.00,274.14 465.50,274.07 466.00,274.00 466.50,273.93 466.70,273.90 467.00,273.82 467.50,273.69 468.00,273.56 468.50,273.42 469.00,273.29 469.50,273.16 470.00,273.03 470.50,272.90 471.00,272.77 471.50,272.63 472.00,272.50 472.50,272.37 473.00,272.24 473.50,272.11 473.90,272.00 474.00,271.97 474.50,271.82 475.00,271.66 475.50,271.51 476.00,271.36 476.50,271.21 477.00,271.05 477.50,270.90 478.00,270.75 478.50,270.59 478.90,270.47 479.00,270.44 479.50,270.29 480.00,270.14 480.50,269.98 481.00,269.83 481.10,269.80 481.50,269.68 481.70,269.62 482.00,269.53 482.50,269.38 483.00,269.23 483.50,269.08 484.00,268.93 484.50,268.79 485.00,268.64 485.50,268.49 486.00,268.34 486.50,268.19 487.00,268.04 487.50,267.89 487.80,267.80 488.00,267.77 488.50,267.69 489.00,267.62 489.50,267.54 490.00,267.46 490.50,267.39 491.00,267.31 491.50,267.23 492.00,267.16 492.50,267.08 493.00,267.01 493.50,266.93 494.00,266.85 494.50,266.78 495.00,266.70 495.50,266.68 496.00,266.66 496.50,266.63 497.00,266.61 497.50,266.59 498.00,266.57 498.30,266.55 498.50,266.54 499.00,266.52 499.50,266.50 500.00,266.48 500.50,266.45 501.00,266.43 501.50,266.41 501.70,266.40 502.00,266.31 502.50,266.16 503.00,266.01 503.50,265.86 504.00,265.71 504.50,265.56 505.00,265.41 505.50,265.26 506.00,265.10 506.50,264.95 507.00,264.80 507.20,264.74 507.50,264.65 508.00,264.50 508.50,264.35 509.00,264.20 509.50,264.05 510.00,263.90 510.50,263.77 510.60,263.75 511.00,263.65 511.50,263.52 512.00,263.39 512.50,263.27 513.00,263.14 513.50,263.01 513.90,262.91 514.00,262.89 514.50,262.76 515.00,262.63 515.50,262.50 516.00,262.38 516.50,262.25 516.70,262.20 517.00,262.05 517.50,261.80 518.00,261.55 518.50,261.30 519.00,261.05 519.50,260.80 520.00,260.55 520.50,260.30 521.00,260.05 521.50,259.80 522.00,259.55 522.50,259.30 523.00,259.05 523.30,258.90 523.50,258.83 524.00,258.64 524.40,258.49 524.50,258.45 525.00,258.27 525.50,258.08 526.00,257.89 526.50,257.71 527.00,257.52 527.50,257.33 528.00,257.15 528.50,256.96 528.90,256.81 529.00,256.77 529.50,256.59 530.00,256.40 530.50,256.23 531.00,256.05 531.50,255.88 532.00,255.71 532.50,255.53 533.00,255.36 533.50,255.18 534.00,255.01 534.50,254.84 535.00,254.66 535.50,254.49 536.00,254.32 536.50,254.14 537.00,253.97 537.20,253.90 537.50,253.80 538.00,253.64 538.50,253.47 539.00,253.31 539.50,253.14 540.00,252.98 540.50,252.82 541.00,252.65 541.50,252.49 542.00,252.32 542.50,252.16 543.00,252.00 543.50,251.83 543.90,251.70 544.00,251.67 544.50,251.55 545.00,251.42 545.50,251.29 546.00,251.17 546.50,251.04 546.70,250.99 547.00,250.91 547.50,250.79 548.00,250.66 548.50,250.53 549.00,250.41 549.50,250.28 550.00,250.15 550.50,250.03 550.60,250.00 551.00,249.88 551.50,249.72 552.00,249.57 552.50,249.42 553.00,249.27 553.50,249.11 554.00,248.96 554.50,248.81 555.00,248.66 555.50,248.50 556.00,248.35 556.10,248.32 556.50,248.20 557.00,248.04 557.50,247.89 557.80,247.80 558.00,247.75 558.50,247.62 558.90,247.51 559.00,247.48 559.50,247.35 560.00,247.22 560.50,247.09 561.00,246.96 561.50,246.82 562.00,246.69 562.50,246.56 563.00,246.43 563.30,246.35 563.50,246.30 564.00,246.16 564.50,246.03 565.00,245.90 565.50,245.82 566.00,245.75 566.50,245.67 567.00,245.59 567.50,245.52 568.00,245.44 568.30,245.40 568.50,245.37 569.00,245.29 569.50,245.21 570.00,245.14 570.50,245.06 571.00,244.98 571.50,244.91 572.00,244.83 572.20,244.80 572.50,244.76 572.80,244.73 573.00,244.70 573.50,244.64 574.00,244.58 574.50,244.51 575.00,244.45 575.50,244.39 576.00,244.33 576.10,244.31 576.50,244.26 577.00,244.20 577.50,244.14 578.00,244.08 578.50,244.01 579.00,243.95 579.40,243.90 579.50,243.88 580.00,243.79 580.50,243.70 581.00,243.62 581.50,243.53 582.00,243.44 582.50,243.35 583.00,243.26 583.50,243.17 584.00,243.08 584.50,242.99 585.00,242.90 585.50,242.81 586.00,242.72 586.50,242.64 586.70,242.60 587.00,242.49 587.50,242.31 588.00,242.13 588.50,241.95 589.00,241.77 589.50,241.59 590.00,241.41 590.50,241.23 591.00,241.05 591.50,240.87 592.00,240.69 592.50,240.51 593.00,240.32 593.50,240.14 593.90,240.00 594.00,239.97 594.40,239.85 594.50,239.82 595.00,239.66 595.50,239.51 596.00,239.36 596.50,239.21 597.00,239.05 597.20,238.99 597.50,238.90 598.00,238.75 598.50,238.59 599.00,238.44 599.50,238.29 600.00,238.14 600.50,237.98 601.00,237.83 601.10,237.80 601.50,237.69 602.00,237.54 602.50,237.40 603.00,237.26 603.50,237.12 604.00,236.98 604.50,236.84 605.00,236.69 605.50,236.55 606.00,236.41 606.50,236.27 607.00,236.13 607.50,235.99 607.80,235.90 608.00,235.84 608.50,235.69 609.00,235.53 609.50,235.38 610.00,235.23 610.50,235.07 611.00,234.92 611.50,234.77 611.70,234.71 612.00,234.62 612.50,234.46 613.00,234.31 613.50,234.16 614.00,234.01 614.50,233.85 615.00,233.70 615.50,233.63 616.00,233.57 616.50,233.50 617.00,233.43 617.50,233.36 618.00,233.30 618.50,233.23 619.00,233.16 619.50,233.10 620.00,233.03 620.50,232.96 621.00,232.89 621.50,232.83 621.70,232.80 622.00,232.72 622.50,232.58 623.00,232.44 623.50,232.30 624.00,232.16 624.50,232.02 625.00,231.88 625.50,231.74 626.00,231.61 626.50,231.47 627.00,231.33 627.50,231.19 628.00,231.05 628.50,230.91 628.90,230.80 629.00,230.76 629.50,230.55 630.00,230.34 630.50,230.13 631.00,229.93 631.50,229.72 632.00,229.51 632.50,229.30 633.00,229.09 633.50,228.88 634.00,228.68 634.50,228.47 635.00,228.26 635.50,228.05 636.00,227.84 636.10,227.80 636.50,227.63 637.00,227.43 637.50,227.22 638.00,227.01 638.30,226.88 638.50,226.80 639.00,226.59 639.50,226.38 640.00,226.18 640.50,225.97 641.00,225.76 641.50,225.55 642.00,225.34 642.50,225.13 642.80,225.01 643.00,224.92 643.30,224.80 643.50,224.74 644.00,224.59 644.50,224.44 645.00,224.29 645.50,224.14 646.00,223.99 646.40,223.87 646.50,223.83 647.00,223.68 647.50,223.53 648.00,223.38 648.50,223.23 649.00,223.08 649.50,222.93 649.60,222.90 650.00,222.79 650.30,222.71 650.50,222.66 651.00,222.53 651.50,222.39 652.00,222.26 652.50,222.12 653.00,221.99 653.50,221.86 654.00,221.72 654.50,221.59 654.80,221.51 655.00,221.45 655.50,221.32 656.00,221.19 656.50,221.05 656.70,221.00 657.00,220.90 657.50,220.74 658.00,220.58 658.50,220.42 659.00,220.25 659.50,220.09 660.00,219.93 660.50,219.77 661.00,219.61 661.50,219.45 661.90,219.32 662.00,219.28 662.50,219.12 663.00,218.96 663.50,218.80 663.80,218.70 664.00,218.64 664.50,218.48 665.00,218.32 665.50,218.17 666.00,218.01 666.50,217.85 667.00,217.69 667.50,217.54 668.00,217.38 668.50,217.22 669.00,217.07 669.50,216.91 670.00,216.75 670.50,216.59 670.80,216.50 671.00,216.42 671.50,216.20 672.00,215.99 672.50,215.78 673.00,215.57 673.50,215.36 674.00,215.15 674.50,214.94 675.00,214.73 675.50,214.51 676.00,214.30 676.50,214.09 677.00,213.88 677.50,213.67 677.90,213.50 678.00,213.48 678.50,213.37 679.00,213.27 679.50,213.16 680.00,213.06 680.50,212.95 681.00,212.85 681.50,212.74 681.80,212.68 682.00,212.63 682.50,212.53 683.00,212.42 683.50,212.32 684.00,212.21 684.50,212.11 685.00,212.00 685.50,211.86 686.00,211.72 686.50,211.58 687.00,211.44 687.50,211.30 688.00,211.15 688.20,211.10 688.50,211.01 689.00,210.87 689.50,210.73 690.00,210.59 690.50,210.45 691.00,210.31 691.50,210.17 692.00,210.03 692.10,210.00 692.50,209.73 693.00,209.38 693.50,209.04 694.00,208.69 694.50,208.35 695.00,208.01 695.30,207.80 695.50,207.66 696.00,207.32 696.50,206.97 697.00,206.63 697.50,206.29 698.00,205.94 698.50,205.60 699.00,205.40 699.50,205.19 700.00,204.99 700.50,204.79 701.00,204.58 701.50,204.38 702.00,204.18 702.50,203.97 703.00,203.77 703.50,203.57 704.00,203.37 704.50,203.16 704.90,203.00 705.00,202.97 705.50,202.84 706.00,202.71 706.50,202.57 707.00,202.44 707.50,202.30 708.00,202.17 708.50,202.04 709.00,201.90 709.40,201.80 709.50,201.77 710.00,201.64 710.50,201.50 711.00,201.37 711.50,201.23 712.00,201.10 712.50,200.91 713.00,200.73 713.50,200.54 714.00,200.36 714.50,200.17 715.00,199.99 715.50,199.80 716.00,199.61 716.50,199.43 717.00,199.24 717.50,199.06 718.00,198.87 718.50,198.69 719.00,198.50 719.50,198.30 720.00,198.10 720.50,197.90 721.00,197.70 721.50,197.50 722.00,197.30 722.50,197.10 723.00,196.90 723.50,196.70 724.00,196.50 724.50,196.30 724.80,196.18 725.00,196.10 725.50,195.90 726.00,195.69 726.50,195.49 726.80,195.36 727.00,195.28 727.50,195.07 728.00,194.86 728.50,194.66 729.00,194.45 729.50,194.24 730.00,194.04 730.50,193.83 731.00,193.62 731.50,193.41 732.00,193.21 732.50,193.00 733.00,192.73 733.50,192.46 734.00,192.19 734.50,191.92 735.00,191.65 735.50,191.38 736.00,191.12 736.50,190.85 737.00,190.58 737.50,190.31 737.70,190.20 738.00,190.04 738.50,189.77 739.00,189.50 739.50,189.35 740.00,189.19 740.50,189.04 741.00,188.88 741.50,188.73 742.00,188.57 742.50,188.42 743.00,188.26 743.50,188.11 744.00,187.96 744.50,187.80 745.00,187.65 745.50,187.49 745.80,187.40 746.00,187.33 746.50,187.16 746.60,187.13 747.00,186.99 747.50,186.82 748.00,186.65 748.50,186.48 749.00,186.30 749.50,186.13 750.00,185.96 750.50,185.79 751.00,185.62 751.50,185.45 752.00,185.28 752.50,185.11 753.00,184.93 753.10,184.90 753.50,184.80 754.00,184.68 754.50,184.55 755.00,184.43 755.50,184.30 756.00,184.18 756.50,184.05 757.00,183.92 757.50,183.80 758.00,183.67 758.50,183.55 759.00,183.42 759.50,183.30 760.00,183.17 760.30,183.10 760.50,183.04 761.00,182.89 761.50,182.73 762.00,182.58 762.50,182.43 763.00,182.27 763.50,182.12 763.90,182.00 764.00,181.97 764.50,181.82 765.00,181.66 765.50,181.51 766.00,181.36 766.50,181.21 767.00,181.05 767.50,180.90 768.00,180.62 768.50,180.35 769.00,180.07 769.50,179.79 770.00,179.52 770.50,179.24 771.00,178.96 771.50,178.68 772.00,178.41 772.50,178.13 773.00,177.85 773.50,177.58 774.00,177.30 774.50,176.99 775.00,176.68 775.50,176.37 776.00,176.06 776.50,175.75 777.00,175.44 777.50,175.13 778.00,174.82 778.50,174.51 779.00,174.20 779.50,173.89 779.80,173.70 780.00,173.58 780.50,173.27 781.00,172.96 781.50,172.64 782.00,172.33 782.50,172.02 783.00,171.71 783.50,171.40 784.00,171.09 784.50,170.78 785.00,170.47 785.50,170.16 785.60,170.10 786.00,169.93 786.50,169.71 787.00,169.50 787.50,169.28 788.00,169.07 788.50,168.85 789.00,168.64 789.50,168.42 790.00,168.21 790.50,167.99 791.00,167.78 791.50,167.56 792.00,167.35 792.50,167.13 793.00,166.92 793.50,166.70 794.00,166.55 794.50,166.39 795.00,166.24 795.50,166.08 795.70,166.02 796.00,165.93 796.50,165.78 797.00,165.62 797.50,165.47 798.00,165.32 798.50,165.16 799.00,165.01 799.50,164.85 800.00,164.70 800.50,164.47 801.00,164.24 801.50,164.01 802.00,163.78 802.50,163.55 803.00,163.33 803.50,163.10 804.00,162.87 804.50,162.64 805.00,162.41 805.50,162.18 806.00,161.95 806.50,161.72 807.00,161.49 807.20,161.40 807.50,161.31 808.00,161.16 808.50,161.00 809.00,160.85 809.50,160.70 810.00,160.54 810.50,160.39 811.00,160.24 811.50,160.09 811.60,160.06 812.00,159.93 812.50,159.78 813.00,159.63 813.50,159.47 814.00,159.32 814.40,159.20 814.50,159.16 815.00,158.96 815.20,158.88 815.50,158.76 816.00,158.56 816.50,158.36 817.00,158.16 817.50,157.96 818.00,157.76 818.50,157.56 819.00,157.36 819.50,157.16 820.00,156.96 820.50,156.76 820.90,156.60 821.00,156.57 821.50,156.44 822.00,156.30 822.50,156.16 823.00,156.02 823.50,155.89 824.00,155.75 824.50,155.61 825.00,155.48 825.50,155.34 826.00,155.20 826.50,155.07 827.00,154.93 827.50,154.79 828.00,154.65 828.20,154.60 828.50,154.54 829.00,154.43 829.50,154.32 830.00,154.21 830.50,154.10 831.00,154.00 831.50,153.89 832.00,153.78 832.50,153.67 833.00,153.57 833.50,153.46 834.00,153.35 834.50,153.24 834.70,153.20 835.00,153.06 835.50,152.82 836.00,152.59 836.50,152.35 837.00,152.11 837.50,151.88 837.60,151.83 838.00,151.64 838.50,151.41 839.00,151.17 839.50,150.93 840.00,150.70 840.50,150.46 841.00,150.22 841.50,149.99 841.90,149.80 842.00,149.78 842.50,149.68 843.00,149.59 843.50,149.49 844.00,149.39 844.50,149.29 845.00,149.20 845.50,149.10 846.00,149.00 846.50,148.91 847.00,148.81 847.50,148.71 848.00,148.61 848.50,148.52 849.00,148.42 849.10,148.40 849.50,148.26 849.80,148.16 850.00,148.09 850.50,147.91 851.00,147.74 851.50,147.57 852.00,147.39 852.50,147.22 853.00,147.05 853.50,146.87 854.00,146.70 854.20,146.63 854.50,146.53 855.00,146.35 855.50,146.18 856.00,146.00 856.30,145.90 856.50,145.83 857.00,145.67 857.50,145.50 857.80,145.40 858.00,145.33 858.50,145.17 859.00,145.00 859.00,145.00 858.50,145.17 858.00,145.33 857.80,145.40 857.50,145.50 857.00,145.67 856.50,145.83 856.30,145.90 856.00,146.00 855.50,146.18 855.00,146.35 854.50,146.53 854.20,146.63 854.00,146.70 853.50,146.87 853.00,147.05 852.50,147.22 852.00,147.39 851.50,147.57 851.00,147.74 850.50,147.91 850.00,148.09 849.80,148.16 849.50,148.26 849.10,148.40 849.00,148.42 848.50,148.52 848.00,148.61 847.50,148.71 847.00,148.81 846.50,148.91 846.00,149.00 845.50,149.10 845.00,149.20 844.50,149.29 844.00,149.39 843.50,149.49 843.00,149.59 842.50,149.68 842.00,149.78 841.90,149.80 841.50,149.99 841.00,150.22 840.50,150.46 840.00,150.70 839.50,150.93 839.00,151.17 838.50,151.41 838.00,151.64 837.60,151.83 837.50,151.88 837.00,152.11 836.50,152.35 836.00,152.59 835.50,152.82 835.00,153.06 834.70,153.20 834.50,153.24 834.00,153.35 833.50,153.46 833.00,153.57 832.50,153.67 832.00,153.78 831.50,153.89 831.00,154.00 830.50,154.10 830.00,154.21 829.50,154.32 829.00,154.43 828.50,154.54 828.20,154.60 828.00,154.65 827.50,154.79 827.00,154.93 826.50,155.07 826.00,155.20 825.50,155.34 825.00,155.48 824.50,155.61 824.00,155.75 823.50,155.89 823.00,156.02 822.50,156.16 822.00,156.30 821.50,156.44 821.00,156.57 820.90,156.60 820.50,156.76 820.00,156.96 819.50,157.16 819.00,157.36 818.50,157.56 818.00,157.76 817.50,157.96 817.00,158.16 816.50,158.36 816.00,158.56 815.50,158.76 815.20,158.88 815.00,158.96 814.50,159.16 814.40,159.20 814.00,159.32 813.50,159.47 813.00,159.63 812.50,159.78 812.00,159.93 811.60,160.06 811.50,160.09 811.00,160.24 810.50,160.39 810.00,160.54 809.50,160.70 809.00,160.85 808.50,161.00 808.00,161.16 807.50,161.31 807.20,161.40 807.00,161.49 806.50,161.72 806.00,161.95 805.50,162.18 805.00,162.41 804.50,162.64 804.00,162.87 803.50,163.10 803.00,163.33 802.50,163.55 802.00,163.78 801.50,164.01 801.00,164.24 800.50,164.47 800.00,164.70 799.50,164.85 799.00,165.01 798.50,165.16 798.00,165.32 797.50,165.47 797.00,165.62 796.50,165.78 796.00,165.93 795.70,166.02 795.50,166.08 795.00,166.24 794.50,166.39 794.00,166.55 793.50,166.70 793.00,166.92 792.50,167.13 792.00,167.35 791.50,167.56 791.00,167.78 790.50,167.99 790.00,168.21 789.50,168.42 789.00,168.64 788.50,168.85 788.00,169.07 787.50,169.28 787.00,169.50 786.50,169.71 786.00,169.93 785.60,170.10 785.50,170.16 785.00,170.47 784.50,170.78 784.00,171.09 783.50,171.40 783.00,171.71 782.50,172.02 782.00,172.33 781.50,172.64 781.00,172.96 780.50,173.27 780.00,173.58 779.80,173.70 779.50,173.89 779.00,174.20 778.50,174.51 778.00,174.82 777.50,175.13 777.00,175.44 776.50,175.75 776.00,176.06 775.50,176.37 775.00,176.68 774.50,176.99 774.00,177.30 773.50,177.58 773.00,177.85 772.50,178.13 772.00,178.41 771.50,178.68 771.00,178.96 770.50,179.24 770.00,179.52 769.50,179.79 769.00,180.07 768.50,180.35 768.00,180.62 767.50,180.90 767.00,181.05 766.50,181.21 766.00,181.36 765.50,181.51 765.00,181.66 764.50,181.82 764.00,181.97 763.90,182.00 763.50,182.12 763.00,182.27 762.50,182.43 762.00,182.58 761.50,182.73 761.00,182.89 760.50,183.04 760.30,183.10 760.00,183.17 759.50,183.30 759.00,183.42 758.50,183.55 758.00,183.67 757.50,183.80 757.00,183.92 756.50,184.05 756.00,184.18 755.50,184.30 755.00,184.43 754.50,184.55 754.00,184.68 753.50,184.80 753.10,184.90 753.00,184.93 752.50,185.11 752.00,185.28 751.50,185.45 751.00,185.62 750.50,185.79 750.00,185.96 749.50,186.13 749.00,186.30 748.50,186.48 748.00,186.65 747.50,186.82 747.00,186.99 746.60,187.13 746.50,187.16 746.00,187.33 745.80,187.40 745.50,187.49 745.00,187.65 744.50,187.80 744.00,187.96 743.50,188.11 743.00,188.26 742.50,188.42 742.00,188.57 741.50,188.73 741.00,188.88 740.50,189.04 740.00,189.19 739.50,189.35 739.00,189.50 738.50,189.77 738.00,190.04 737.70,190.20 737.50,190.31 737.00,190.58 736.50,190.85 736.00,191.12 735.50,191.38 735.00,191.65 734.50,191.92 734.00,192.19 733.50,192.46 733.00,192.73 732.50,193.00 732.00,193.21 731.50,193.41 731.00,193.62 730.50,193.83 730.00,194.04 729.50,194.24 729.00,194.45 728.50,194.66 728.00,194.86 727.50,195.07 727.00,195.28 726.80,195.36 726.50,195.49 726.00,195.69 725.50,195.90 725.00,196.10 724.80,196.18 724.50,196.30 724.00,196.50 723.50,196.70 723.00,196.90 722.50,197.10 722.00,197.30 721.50,197.50 721.00,197.70 720.50,197.90 720.00,198.10 719.50,198.30 719.00,198.50 718.50,198.69 718.00,198.87 717.50,199.06 717.00,199.24 716.50,199.43 716.00,199.61 715.50,199.80 715.00,199.99 714.50,200.17 714.00,200.36 713.50,200.54 713.00,200.73 712.50,200.91 712.00,201.10 711.50,201.23 711.00,201.37 710.50,201.50 710.00,201.64 709.50,201.77 709.40,201.80 709.00,201.90 708.50,202.04 708.00,202.17 707.50,202.30 707.00,202.44 706.50,202.57 706.00,202.71 705.50,202.84 705.00,202.97 704.90,203.00 704.50,203.16 704.00,203.37 703.50,203.57 703.00,203.77 702.50,203.97 702.00,204.18 701.50,204.38 701.00,204.58 700.50,204.79 700.00,204.99 699.50,205.19 699.00,205.40 698.50,205.60 698.00,205.94 697.50,206.29 697.00,206.63 696.50,206.97 696.00,207.32 695.50,207.66 695.30,207.80 695.00,208.01 694.50,208.35 694.00,208.69 693.50,209.04 693.00,209.38 692.50,209.73 692.10,210.00 692.00,210.03 691.50,210.17 691.00,210.31 690.50,210.45 690.00,210.59 689.50,210.73 689.00,210.87 688.50,211.01 688.20,211.10 688.00,211.15 687.50,211.30 687.00,211.44 686.50,211.58 686.00,211.72 685.50,211.86 685.00,212.00 684.50,212.11 684.00,212.21 683.50,212.32 683.00,212.42 682.50,212.53 682.00,212.63 681.80,212.68 681.50,212.74 681.00,212.85 680.50,212.95 680.00,213.06 679.50,213.16 679.00,213.27 678.50,213.37 678.00,213.48 677.90,213.50 677.50,213.67 677.00,213.88 676.50,214.09 676.00,214.30 675.50,214.51 675.00,214.73 674.50,214.94 674.00,215.15 673.50,215.36 673.00,215.57 672.50,215.78 672.00,215.99 671.50,216.20 671.00,216.42 670.80,216.50 670.50,216.59 670.00,216.75 669.50,216.91 669.00,217.07 668.50,217.22 668.00,217.38 667.50,217.54 667.00,217.69 666.50,217.85 666.00,218.01 665.50,218.17 665.00,218.32 664.50,218.48 664.00,218.64 663.80,218.70 663.50,218.80 663.00,218.96 662.50,219.12 662.00,219.28 661.90,219.32 661.50,219.45 661.00,219.61 660.50,219.77 660.00,219.93 659.50,220.09 659.00,220.25 658.50,220.42 658.00,220.58 657.50,220.74 657.00,220.90 656.70,221.00 656.50,221.05 656.00,221.19 655.50,221.32 655.00,221.45 654.80,221.51 654.50,221.59 654.00,221.72 653.50,221.86 653.00,221.99 652.50,222.12 652.00,222.26 651.50,222.39 651.00,222.53 650.50,222.66 650.30,222.71 650.00,222.79 649.60,222.90 649.50,222.93 649.00,223.08 648.50,223.23 648.00,223.38 647.50,223.53 647.00,223.68 646.50,223.83 646.40,223.87 646.00,223.99 645.50,224.14 645.00,224.29 644.50,224.44 644.00,224.59 643.50,224.74 643.30,224.80 643.00,224.92 642.80,225.01 642.50,225.13 642.00,225.34 641.50,225.55 641.00,225.76 640.50,225.97 640.00,226.18 639.50,226.38 639.00,226.59 638.50,226.80 638.30,226.88 638.00,227.01 637.50,227.22 637.00,227.43 636.50,227.63 636.10,227.80 636.00,227.84 635.50,228.05 635.00,228.26 634.50,228.47 634.00,228.68 633.50,228.88 633.00,229.09 632.50,229.30 632.00,229.51 631.50,229.72 631.00,229.93 630.50,230.13 630.00,230.34 629.50,230.55 629.00,230.76 628.90,230.80 628.50,230.91 628.00,231.05 627.50,231.19 627.00,231.33 626.50,231.47 626.00,231.61 625.50,231.74 625.00,231.88 624.50,232.02 624.00,232.16 623.50,232.30 623.00,232.44 622.50,232.58 622.00,232.72 621.70,232.80 621.50,232.83 621.00,232.89 620.50,232.96 620.00,233.03 619.50,233.10 619.00,233.16 618.50,233.23 618.00,233.30 617.50,233.36 617.00,233.43 616.50,233.50 616.00,233.57 615.50,233.63 615.00,233.70 614.50,233.85 614.00,234.01 613.50,234.16 613.00,234.31 612.50,234.46 612.00,234.62 611.70,234.71 611.50,234.77 611.00,234.92 610.50,235.07 610.00,235.23 609.50,235.38 609.00,235.53 608.50,235.69 608.00,235.84 607.80,235.90 607.50,235.99 607.00,236.13 606.50,236.27 606.00,236.41 605.50,236.55 605.00,236.69 604.50,236.84 604.00,236.98 603.50,237.12 603.00,237.26 602.50,237.40 602.00,237.54 601.50,237.69 601.10,237.80 601.00,237.83 600.50,237.98 600.00,238.14 599.50,238.29 599.00,238.44 598.50,238.59 598.00,238.75 597.50,238.90 597.20,238.99 597.00,239.05 596.50,239.21 596.00,239.36 595.50,239.51 595.00,239.66 594.50,239.82 594.40,239.85 594.00,239.97 593.90,240.00 593.50,240.14 593.00,240.32 592.50,240.51 592.00,240.69 591.50,240.87 591.00,241.05 590.50,241.23 590.00,241.41 589.50,241.59 589.00,241.77 588.50,241.95 588.00,242.13 587.50,242.31 587.00,242.49 586.70,242.60 586.50,242.64 586.00,242.72 585.50,242.81 585.00,242.90 584.50,242.99 584.00,243.08 583.50,243.17 583.00,243.26 582.50,243.35 582.00,243.44 581.50,243.53 581.00,243.62 580.50,243.70 580.00,243.79 579.50,243.88 579.40,243.90 579.00,243.95 578.50,244.01 578.00,244.08 577.50,244.14 577.00,244.20 576.50,244.26 576.10,244.31 576.00,244.33 575.50,244.39 575.00,244.45 574.50,244.51 574.00,244.58 573.50,244.64 573.00,244.70 572.80,244.73 572.50,244.76 572.20,244.80 572.00,244.83 571.50,244.91 571.00,244.98 570.50,245.06 570.00,245.14 569.50,245.21 569.00,245.29 568.50,245.37 568.30,245.40 568.00,245.44 567.50,245.52 567.00,245.59 566.50,245.67 566.00,245.75 565.50,245.82 565.00,245.90 564.50,246.03 564.00,246.16 563.50,246.30 563.30,246.35 563.00,246.43 562.50,246.56 562.00,246.69 561.50,246.82 561.00,246.96 560.50,247.09 560.00,247.22 559.50,247.35 559.00,247.48 558.90,247.51 558.50,247.62 558.00,247.75 557.80,247.80 557.50,247.89 557.00,248.04 556.50,248.20 556.10,248.32 556.00,248.35 555.50,248.50 555.00,248.66 554.50,248.81 554.00,248.96 553.50,249.11 553.00,249.27 552.50,249.42 552.00,249.57 551.50,249.72 551.00,249.88 550.60,250.20 550.50,250.56 550.00,252.35 549.50,254.15 549.00,255.94 548.50,257.74 548.00,259.53 547.50,261.33 547.00,263.12 546.70,264.20 546.50,264.20 546.00,264.20 545.50,264.20 545.00,264.20 544.50,264.20 544.00,264.20 543.90,264.20 543.50,264.20 543.00,264.20 542.50,264.20 542.00,264.20 541.50,264.20 541.00,264.20 540.50,264.20 540.00,264.20 539.50,264.20 539.00,264.20 538.50,264.20 538.00,264.20 537.50,264.20 537.20,264.20 537.00,264.20 536.50,264.20 536.00,264.20 535.50,264.20 535.00,264.20 534.50,264.20 534.00,264.20 533.50,264.20 533.00,264.20 532.50,264.20 532.00,264.20 531.50,264.20 531.00,264.20 530.50,264.20 530.00,264.20 529.50,264.20 529.00,264.20 528.90,264.20 528.50,264.64 528.00,265.20 527.50,265.76 527.00,266.31 526.50,266.87 526.00,267.42 525.50,267.98 525.00,268.53 524.50,269.09 524.40,269.20 524.00,269.20 523.50,269.20 523.30,269.20 523.00,269.20 522.50,269.20 522.00,269.20 521.50,269.20 521.00,269.20 520.50,269.20 520.00,269.20 519.50,269.20 519.00,269.20 518.50,269.20 518.00,269.20 517.50,269.20 517.00,269.20 516.70,269.20 516.50,269.20 516.00,269.20 515.50,269.20 515.00,269.20 514.50,269.20 514.00,269.20 513.90,269.20 513.50,269.32 513.00,269.47 512.50,269.62 512.00,269.78 511.50,269.93 511.00,270.08 510.60,270.20 510.50,270.23 510.00,270.38 509.50,270.52 509.00,270.67 508.50,270.82 508.00,270.96 507.50,271.11 507.20,271.20 507.00,271.36 506.50,271.75 506.00,272.14 505.50,272.54 505.00,272.93 504.50,273.32 504.00,273.72 503.50,274.11 503.00,274.50 502.50,274.90 502.00,275.29 501.70,275.53 501.50,275.68 501.00,276.08 500.50,276.47 500.00,276.86 499.50,277.26 499.00,277.65 498.50,278.04 498.30,278.20 498.00,278.22 497.50,278.25 497.00,278.28 496.50,278.31 496.00,278.34 495.50,278.37 495.00,278.40 494.50,278.43 494.00,278.46 493.50,278.49 493.00,278.52 492.50,278.55 492.00,278.58 491.50,278.61 491.00,278.64 490.50,278.67 490.00,278.70 489.50,278.73 489.00,278.76 488.50,278.79 488.00,278.82 487.80,278.83 487.50,278.85 487.00,278.88 486.50,278.91 486.00,278.94 485.50,278.97 485.00,279.00 484.50,279.03 484.00,279.06 483.50,279.09 483.00,279.12 482.50,279.15 482.00,279.18 481.70,279.20 481.50,279.27 481.10,279.41 481.00,279.45 480.50,279.63 480.00,279.81 479.50,279.99 479.00,280.16 478.90,280.20 478.50,280.20 478.00,280.20 477.50,280.20 477.00,280.20 476.50,280.20 476.00,280.20 475.50,280.20 475.00,280.20 474.50,280.20 474.00,280.20 473.90,280.20 473.50,280.20 473.00,280.20 472.50,280.20 472.00,280.20 471.50,280.20 471.00,280.20 470.50,280.20 470.00,280.20 469.50,280.20 469.00,280.20 468.50,280.20 468.00,280.20 467.50,280.20 467.00,280.20 466.70,280.20 466.50,280.20 466.00,280.20 465.50,280.20 465.00,280.20 464.50,280.20 464.00,280.20 463.50,280.20 463.00,280.20 462.50,280.20 462.00,280.20 461.50,280.20 461.00,280.20 460.50,280.20 460.00,280.20 459.50,280.23 459.00,280.27 458.90,280.28 458.50,280.30 458.00,280.34 457.50,280.37 457.00,280.41 456.50,280.44 456.00,280.48 455.50,280.51 455.00,280.55 454.50,280.58 454.00,280.62 453.50,280.65 453.00,280.69 452.50,280.72 452.20,280.74 452.00,280.76 451.50,280.79 451.00,280.82 450.50,280.86 450.00,280.89 449.50,280.93 449.00,280.96 448.50,281.00 448.00,281.03 447.50,281.07 447.00,281.10 446.50,281.14 446.00,281.17 445.60,281.20 445.50,281.24 445.00,281.46 444.50,281.68 444.00,281.90 443.50,282.11 443.30,282.20 443.00,282.20 442.50,282.20 442.00,282.20 441.50,282.20 441.00,282.20 440.50,282.20 440.00,282.20 439.50,282.20 439.00,282.20 438.50,282.20 438.00,282.20 437.80,282.20 437.50,282.20 437.00,282.20 436.50,282.20 436.00,282.20 435.50,282.20 435.00,282.20 434.50,282.20 434.00,282.20 433.50,282.20 433.00,282.20 432.50,282.20 432.00,282.20 431.50,282.20 431.00,282.20 430.60,282.20 430.50,282.20 430.00,282.20 429.50,282.20 429.00,282.20 428.50,282.20 428.00,282.20 427.50,282.20 427.00,282.20 426.50,282.20 426.00,282.20 425.50,282.20 425.00,282.20 424.50,282.20 424.00,282.20 423.50,282.20 423.00,282.20 422.80,282.20 422.50,282.20 422.00,282.20 421.50,282.20 421.00,282.20 420.50,282.20 420.00,282.20 419.50,282.20 419.00,282.20 418.50,282.20 418.00,282.20 417.80,282.20 417.50,282.23 417.00,282.29 416.50,282.35 416.00,282.40 415.60,282.45 415.50,282.46 415.00,282.51 414.50,282.57 414.00,282.63 413.50,282.68 413.00,282.74 412.50,282.80 412.00,282.85 411.50,282.91 411.00,282.96 410.50,283.02 410.00,283.08 409.50,283.13 409.00,283.19 408.90,283.20 408.50,283.20 408.00,283.20 407.50,283.20 407.00,283.20 406.50,283.20 406.00,283.21 405.50,283.28 405.00,283.35 404.50,283.42 404.00,283.49 403.50,283.56 403.00,283.63 402.50,283.70 402.00,283.77 401.50,283.84 401.10,283.90 401.00,283.91 400.50,283.97 400.00,284.02 399.50,284.08 399.00,284.13 398.50,284.19 398.00,284.24 397.50,284.30 397.00,284.36 396.50,284.41 396.00,284.47 395.50,284.52 395.00,284.58 394.50,284.63 394.00,284.69 393.90,284.70 393.50,284.76 393.30,284.79 393.00,284.84 392.50,284.91 392.00,284.99 391.50,285.07 391.00,285.14 390.50,285.22 390.00,285.30 389.50,285.37 389.00,285.45 388.50,285.52 388.00,285.60 387.50,285.68 387.00,285.75 386.70,285.80 386.50,285.82 386.00,285.86 385.60,285.89 385.50,285.90 385.00,285.94 384.50,285.98 384.00,286.02 383.50,286.06 383.00,286.10 382.80,286.12 382.50,286.15 382.00,286.19 381.50,286.50 381.00,287.00 380.50,287.50 380.00,288.00 379.50,288.50 379.40,288.60 379.00,289.00 378.50,289.50 378.00,290.00 377.80,290.20 377.50,290.20 377.00,290.20 376.50,290.20 376.00,290.20 375.50,290.20 375.00,290.20 374.50,290.20 374.00,290.20 373.50,290.20 373.00,290.20 372.50,290.20 372.20,290.20 372.00,290.20 371.50,290.20 371.00,290.20 370.50,290.20 370.00,290.20 369.50,290.20 369.00,290.20 368.50,290.20 368.00,290.20 367.50,290.20 367.00,290.20 366.50,290.20 366.00,290.20 365.50,290.20 365.00,290.20 364.50,290.20 364.00,290.20 363.60,290.20 363.50,290.20 363.00,290.20 362.50,290.20 362.00,290.20 361.50,290.32 361.00,290.45 360.50,290.57 360.00,290.70 359.50,290.82 359.00,290.95 358.50,291.07 358.00,291.20 357.80,291.24 357.50,291.30 357.00,291.39 356.50,291.49 356.00,291.58 355.50,291.68 355.00,291.78 354.50,291.87 354.00,291.97 353.50,292.07 353.00,292.16 352.80,292.20 352.50,292.27 352.00,292.41 351.50,292.55 351.10,292.66 351.00,292.69 350.60,292.80 350.50,292.80 350.00,292.82 349.50,292.84 349.00,292.86 348.50,292.88 348.00,292.90 347.50,292.92 347.00,292.94 346.50,292.96 346.00,292.98 345.50,293.00 345.00,293.02 344.50,293.03 344.00,293.05 343.50,293.07 343.00,293.09 342.80,293.10 342.50,293.14 342.00,293.20 341.50,293.26 341.00,293.31 340.50,293.37 340.00,293.43 339.50,293.49 339.00,293.55 338.50,293.61 338.00,293.67 337.50,293.73 337.00,293.79 336.50,293.85 336.10,293.90 336.00,293.90 335.50,293.90 335.00,293.90 334.50,293.90 334.00,293.90 333.50,293.90 333.00,293.90 332.50,293.90 332.00,293.90 331.50,293.90 331.00,293.90 330.50,293.90 330.00,293.90 329.50,293.90 329.40,293.90 329.00,293.90 328.90,293.90 328.50,293.93 328.00,293.97 327.50,294.00 327.00,294.04 326.50,294.08 326.10,294.20 326.00,294.20 325.50,294.20 325.00,294.20 324.50,294.22 324.00,294.26 323.50,294.30 323.00,294.33 322.50,294.37 322.00,294.41 321.50,294.44 321.00,294.48 320.50,294.52 320.00,294.55 319.50,294.59 319.00,294.63 318.50,294.66 318.00,294.70 317.50,294.74 317.00,294.77 316.50,294.81 316.00,294.85 315.50,294.88 315.00,294.92 314.50,294.96 314.00,294.99 313.90,295.00 313.50,295.05 313.00,295.11 312.50,295.18 312.00,295.24 311.50,295.30 311.00,295.36 310.50,295.43 310.00,295.49 309.50,295.55 309.00,295.61 308.50,295.67 308.00,295.74 307.50,295.80 307.20,295.84 307.00,295.86 306.70,295.90 306.50,295.91 306.00,295.92 305.50,295.93 305.00,295.94 304.50,295.96 304.00,295.97 303.50,295.98 303.00,295.99 302.50,296.01 302.00,296.02 301.50,296.03 301.00,296.05 300.50,296.06 300.00,296.07 299.50,296.08 299.00,296.10 298.90,296.10 298.50,296.19 298.00,296.31 297.50,296.43 297.00,296.55 296.50,296.67 296.00,296.78 295.50,296.90 295.00,297.02 294.50,297.14 294.00,297.26 293.50,297.38 293.00,297.49 292.50,297.61 292.00,297.73 291.70,297.80 291.50,297.85 291.00,297.97 290.60,298.06 290.50,298.09 290.00,298.21 289.50,298.33 289.00,298.44 288.90,298.47 288.50,298.56 288.00,298.68 287.50,298.80 287.00,298.92 286.50,299.04 286.00,299.16 285.50,299.28 285.00,299.40 284.50,299.57 284.00,299.74 283.50,299.91 283.00,300.09 282.50,300.26 282.00,300.43 281.50,300.60 281.00,300.77 280.50,300.94 280.00,301.12 279.50,301.29 279.00,301.46 278.50,301.63 278.30,301.70 278.00,301.78 277.50,301.92 277.20,302.00 277.00,302.05 276.50,302.19 276.00,302.33 275.50,302.46 275.00,302.60 274.50,302.74 274.00,302.87 273.90,302.90 273.50,303.01 273.00,303.15 272.50,303.28 272.00,303.42 271.50,303.55 271.00,303.69 270.60,303.80 270.50,303.80 270.00,303.81 269.50,303.82 269.00,303.82 268.50,303.83 268.00,303.84 267.50,303.85 267.00,303.85 266.50,303.86 266.00,303.87 265.50,303.88 265.00,303.88 264.50,303.89 264.00,303.90 263.90,303.90 263.50,303.98 263.00,304.08 262.50,304.18 262.00,304.28 261.50,304.38 261.00,304.48 260.50,304.58 260.00,304.69 259.50,304.79 259.00,304.89 258.50,304.99 258.00,305.09 257.50,305.19 257.00,305.29 256.50,305.39 256.00,305.49 255.50,305.59 255.00,305.69 254.50,305.79 254.00,305.89 253.50,305.99 253.00,306.10 252.50,306.20 252.00,306.30 251.50,306.40 251.00,306.50 250.50,306.60 250.00,306.70 249.50,306.74 249.00,306.77 248.50,306.81 248.00,306.85 247.50,306.88 247.00,306.92 246.50,306.96 246.00,306.99 245.50,307.03 245.00,307.07 244.50,307.10 244.00,307.14 243.50,307.18 243.00,307.21 242.50,307.25 242.20,307.27 242.00,307.29 241.50,307.32 241.00,307.36 240.50,307.40 240.00,307.43 239.50,307.47 239.00,307.51 238.50,307.54 238.00,307.58 237.50,307.62 237.00,307.65 236.50,307.69 236.00,307.73 235.60,307.76 235.50,307.76 235.00,307.80 234.50,307.83 234.00,307.86 233.50,307.89 233.00,307.92 232.50,307.95 232.00,307.98 231.50,308.01 231.00,308.04 230.50,308.07 230.00,308.10 229.50,308.13 229.00,308.16 228.50,308.19 228.00,308.22 227.50,308.25 227.00,308.28 226.50,308.31 226.00,308.34 225.50,308.37 225.00,308.40 224.50,308.43 224.00,308.46 223.50,308.49 223.00,308.52 222.50,308.55 222.00,308.58 221.50,308.61 221.00,308.64 220.50,308.67 220.00,308.70 219.50,308.77 219.00,308.85 218.50,308.92 218.00,308.99 217.50,309.06 217.00,309.14 216.50,309.21 216.00,309.28 215.50,309.36 215.00,309.43 214.50,309.50 214.00,309.57 213.50,309.65 213.00,309.72 212.50,309.79 212.00,309.87 211.50,309.94 211.00,310.01 210.50,310.09 210.00,310.16 209.50,310.23 209.00,310.30 208.50,310.38 208.00,310.45 207.50,310.52 207.00,310.60 206.50,310.67 206.00,310.74 205.60,310.80 205.50,310.82 205.00,310.92 204.50,311.02 204.00,311.12 203.50,311.22 203.30,311.26 203.00,311.32 202.50,311.42 202.00,311.52 201.50,311.62 201.00,311.72 200.50,311.82 200.00,311.92 199.50,312.02 199.00,312.12 198.50,312.22 198.00,312.32 197.50,312.42 197.00,312.52 196.50,312.62 196.00,312.72 195.50,312.82 195.00,312.92 194.50,313.02 194.40,313.04 194.00,313.12 193.50,313.22 193.00,313.32 192.50,313.42 192.00,313.52 191.50,313.62 191.10,313.70 191.00,313.72 190.50,313.80 190.00,313.88 189.50,313.96 189.00,314.04 188.50,314.13 188.00,314.21 187.50,314.29 187.00,314.58 186.50,315.48 186.10,316.20 186.00,316.24 185.50,316.44 185.00,316.64 184.50,316.84 184.40,316.88 184.00,317.04 183.50,317.24 183.00,317.44 182.50,317.64 182.00,317.84 181.50,318.04 181.10,318.20 181.00,318.23 180.50,318.38 180.00,318.53 179.50,318.68 179.00,318.83 178.50,318.98 178.00,319.13 177.50,319.27 177.00,319.42 176.70,319.51 176.50,319.57 176.00,319.72 175.50,319.87 175.00,320.02 174.50,320.17 174.40,320.20 174.00,320.20 173.50,320.20 173.00,320.20 172.50,320.20 172.00,320.20 171.50,320.20 171.00,320.20 170.50,320.20 170.00,320.20 169.50,320.29 169.00,320.39 168.50,320.48 168.00,320.58 167.50,320.67 167.00,320.77 166.50,320.86 166.00,320.95 165.50,321.05 165.00,321.14 164.70,321.20 164.50,321.20 164.00,321.20 163.50,321.20 163.00,321.20 162.50,321.20 162.40,321.20 162.00,321.20 161.50,321.20 161.00,321.20 160.50,321.20 160.00,321.20 159.50,321.20 159.00,321.20 158.50,321.20 158.00,321.20 157.50,321.20 157.00,321.20 156.50,321.20 156.00,321.20 155.50,321.20 155.00,321.20 154.50,321.20 154.00,321.20 153.50,321.20 153.00,321.20 152.50,321.20 152.00,321.20 151.50,321.20 151.00,321.20 150.50,321.20 150.00,321.20 149.50,321.20 149.00,321.20 148.50,321.20 148.00,321.20 147.50,321.20 147.00,321.20 146.50,321.20 146.00,321.20 145.50,321.20 145.00,321.20 144.70,321.20 144.50,321.20 144.00,321.20 143.50,321.20 143.00,321.20 142.50,321.20 142.00,321.20 141.50,321.20 141.00,321.20 140.50,321.20 140.00,321.20 139.50,321.20 139.00,321.20 138.50,321.20 138.00,321.20 137.50,321.24 137.00,321.28 136.50,321.32 136.00,321.36 135.50,321.40 135.00,321.43 134.50,321.47 134.00,321.51 133.60,321.54 133.50,321.55 133.00,321.59 132.50,321.63 132.00,321.67 131.50,321.71 131.00,321.75 130.50,321.79 130.00,321.82 129.50,321.86 129.00,321.90 128.50,321.94 128.00,321.98 127.50,322.02 127.00,322.06 126.50,322.10 126.00,322.14 125.50,322.18 125.20,322.20 125.00,322.20 124.70,322.20 124.50,322.23 124.00,322.31 123.50,322.40 123.00,322.48 122.50,322.56 122.00,322.64 121.50,322.73 121.00,322.81 120.50,322.89 120.00,322.97 119.50,323.05 119.00,323.14 118.50,323.22 118.00,323.30 117.50,323.34 117.00,323.39 116.50,323.43 116.00,323.48 115.50,323.52 115.00,323.57 114.50,323.61 114.00,323.66 113.50,323.70 113.00,323.75 112.50,323.79 112.00,323.84 111.50,323.88 111.30,323.90 111.00,323.99 110.50,324.13 110.00,324.27 109.50,324.41 109.00,324.56 108.50,324.70 108.00,324.84 107.50,324.99 107.00,325.13 106.90,325.16 106.50,325.27 106.00,325.41 105.50,325.56 105.00,325.70 104.50,325.84 104.00,325.99 103.60,326.10 103.50,326.11 103.00,326.15 102.50,326.19 102.00,326.23 101.50,326.27 101.00,326.31 100.50,326.35 100.00,326.40 99.50,326.44 99.10,326.47 99.00,326.48 98.50,326.52 98.00,326.56 97.50,326.60 97.00,326.64 96.50,326.68 96.30,326.70 96.00,326.76 95.50,326.85 95.00,326.95 94.70,327.00 94.50,327.04 94.00,327.14 93.50,327.23 93.00,327.33 92.50,327.42 92.00,327.52 91.50,327.61 91.00,327.70 90.50,327.80 90.00,327.89 89.50,327.99 89.00,328.08 88.50,328.18 88.00,328.27 87.50,328.37 87.00,328.49 86.50,328.63 86.00,328.77 85.50,328.91 85.00,329.06 84.50,329.20 84.00,329.34 83.50,329.49 83.00,329.63 82.50,329.77 82.00,329.91 81.50,330.06 81.00,330.20" fill="rgb(230,175,45)" shape-rendering="crispEdges"/>
<path d="M81.00,618.10V614.74H84.00V618.10ZM84.00,618.10V605.75H88.80V618.10ZM88.80,618.10V611.68H92.10V618.10ZM92.10,618.10V602.53H97.05V618.10ZM97.05,618.10V578.56H102.00V618.10ZM102.00,618.10V611.68H104.90V618.10ZM104.90,618.10V599.57H110.90V618.10ZM110.90,618.10V614.64H114.90V618.10ZM114.90,618.10V615.51H118.90V618.10ZM123.10,618.10V615.51H127.10V618.10ZM127.10,618.10V610.81H132.00V618.10ZM132.00,618.10V615.51H137.00V618.10ZM143.80,618.10V614.64H150.10V618.10ZM153.00,618.10V615.88H162.80V618.10ZM166.10,618.10V612.91H170.00V618.10ZM170.00,618.10V609.95H175.00V618.10ZM175.00,618.10V601.05H180.00V618.10ZM180.00,618.10V615.88H183.10V618.10ZM183.10,618.10V585.24H188.00V618.10ZM188.00,618.10V545.45H193.00V618.10ZM193.00,618.10V610.69H196.00V618.10ZM196.00,618.10V544.46H202.00V618.10ZM202.00,618.10V605.00H206.10V618.10ZM206.10,618.10V611.68H210.00V618.10ZM210.00,618.10V615.88H215.60V618.10ZM217.80,618.10V614.76H222.80V618.10ZM227.20,618.10V616.74H232.00V618.10ZM235.30,618.10V609.95H240.00V618.10ZM240.00,618.10V595.86H245.00V618.10ZM245.00,618.10V616.74H250.00V618.10ZM250.00,618.10V617.36H252.80V618.10ZM252.80,618.10V616.74H270.00V618.10ZM270.00,618.10V613.78H275.00V618.10ZM275.00,618.10V596.11H280.00V618.10ZM280.00,618.10V615.88H282.80V618.10ZM282.80,618.10V614.76H288.00V618.10ZM288.00,618.10V612.91H293.00V618.10ZM296.10,618.10V616.74H302.20V618.10ZM305.00,618.10V605.75H310.00V618.10ZM313.90,618.10V613.78H318.90V618.10ZM318.90,618.10V614.76H322.00V618.10ZM322.00,618.10V612.91H327.00V618.10ZM327.00,618.10V597.10H332.00V618.10ZM332.00,618.10V615.88H335.90V618.10ZM340.00,618.10V616.74H345.60V618.10ZM347.80,618.10V614.64H353.90V618.10ZM353.90,618.10V616.86H356.90V618.10ZM356.90,618.10V612.91H361.10V618.10ZM361.10,618.10V607.72H366.90V618.10ZM366.90,618.10V617.36H370.00V618.10ZM370.00,618.10V614.64H375.00V618.10ZM375.00,618.10V617.11H379.10V618.10ZM379.10,618.10V565.96H383.90V618.10ZM383.90,618.10V600.80H388.00V618.10ZM388.00,618.10V609.70H393.00V618.10ZM393.00,618.10V611.68H396.90V618.10ZM408.90,618.10V611.68H418.90V618.10ZM418.90,618.10V613.90H422.80V618.10ZM422.80,618.10V615.88H427.80V618.10ZM431.10,618.10V616.86H436.10V618.10ZM440.00,618.10V614.64H443.90V618.10ZM443.90,618.10V609.70H448.00V618.10ZM448.00,618.10V605.75H453.90V618.10ZM453.90,618.10V617.36H456.90V618.10ZM456.90,618.10V614.64H461.90V618.10ZM461.90,618.10V617.11H466.70V618.10ZM473.90,618.10V615.88H478.90V618.10ZM478.90,618.10V605.75H483.00V618.10ZM483.00,618.10V601.79H487.80V618.10ZM487.80,618.10V617.36H492.00V618.10ZM492.00,618.10V614.64H496.90V618.10ZM496.90,618.10V617.36H500.00V618.10ZM500.00,618.10V574.86H505.80V618.10ZM505.80,618.10V578.81H509.80V618.10ZM509.80,618.10V610.93H513.00V618.10ZM513.00,618.10V604.76H518.90V618.10ZM518.90,618.10V613.90H522.00V618.10ZM522.00,618.10V611.68H526.10V618.10ZM526.10,618.10V568.93H532.00V618.10ZM532.00,618.10V610.93H535.80V618.10ZM535.80,618.10V615.88H540.00V618.10ZM540.00,618.10V617.11H543.90V618.10ZM543.90,618.10V615.88H548.00V618.10ZM548.00,618.10V518.77H552.00V618.10ZM552.00,618.10V399.91H557.10V618.10ZM557.10,618.10V392.74H562.10V618.10ZM562.10,618.10V614.64H566.10V618.10ZM566.10,618.10V576.83H570.00V618.10ZM570.00,618.10V562.01H575.00V618.10ZM575.00,618.10V590.92H580.00V618.10ZM580.00,618.10V617.36H587.20V618.10ZM587.20,618.10V613.90H596.10V618.10ZM596.10,618.10V595.61H600.90V618.10ZM600.90,618.10V600.80H606.10V618.10ZM606.10,618.10V615.88H609.10V618.10ZM609.10,618.10V613.90H613.10V618.10ZM613.10,618.10V593.88H618.90V618.10ZM618.90,618.10V611.68H622.80V618.10ZM622.80,618.10V617.11H631.10V618.10ZM631.10,618.10V615.88H639.10V618.10ZM639.10,618.10V612.91H645.00V618.10ZM645.00,618.10V617.11H648.00V618.10ZM648.00,618.10V563.99H652.00V618.10ZM652.00,618.10V505.67H658.00V618.10ZM658.00,618.10V611.68H662.00V618.10ZM662.00,618.10V612.91H666.10V618.10ZM666.10,618.10V613.90H671.10V618.10ZM674.10,618.10V613.90H678.00V618.10ZM678.00,618.10V592.90H683.00V618.10ZM683.00,618.10V464.65H688.00V618.10ZM688.00,618.10V591.91H692.00V618.10ZM692.00,618.10V614.64H696.10V618.10ZM696.10,618.10V537.79H701.10V618.10ZM701.10,618.10V604.76H704.10V618.10ZM704.10,618.10V582.52H710.00V618.10ZM710.00,618.10V604.76H714.20V618.10ZM722.00,618.10V613.90H726.10V618.10ZM726.10,618.10V565.71H730.00V618.10ZM730.00,618.10V544.46H735.80V618.10ZM735.80,618.10V578.56H739.80V618.10ZM739.80,618.10V581.53H745.00V618.10ZM745.00,618.10V605.75H748.90V618.10ZM752.00,618.10V614.64H758.00V618.10ZM758.00,618.10V615.88H762.00V618.10ZM765.00,618.10V614.64H770.00V618.10ZM770.00,618.10V613.90H774.20V618.10ZM774.20,618.10V604.02H778.90V618.10ZM778.90,618.10V606.73H783.90V618.10ZM783.90,618.10V617.11H787.80V618.10ZM791.10,618.10V613.90H796.10V618.10ZM796.10,618.10V607.72H800.00V618.10ZM800.00,618.10V599.69H804.90V618.10ZM804.90,618.10V611.68H809.00V618.10ZM809.00,618.10V608.71H813.10V618.10ZM813.10,618.10V576.59H818.00V618.10ZM818.00,618.10V617.11H823.00V618.10ZM826.10,618.10V616.86H830.30V618.10ZM830.30,618.10V615.63H835.00V618.10ZM835.00,618.10V574.61H839.90V618.10ZM848.00,618.10V596.60H852.00V618.10ZM852.00,618.10V558.55H855.90V618.10ZM855.90,618.10V470.58H860.00V618.10Z" fill="rgb(0,220,0)" shape-rendering="crispEdges"/>
<path d="M146.5,84V329M146.5,372V617M216.5,84V329M216.5,372V617M281.5,84V329M281.5,372V617M351.5,84V329M351.5,372V617M416.5,84V329M416.5,372V617M481.5,84V329M481.5,372V617M546.5,84V329M546.5,372V617M615.5,84V329M615.5,372V617M681.5,84V329M681.5,372V617M746.5,84V329M746.5,372V617M811.5,84V329M811.5,372V617M82,330.5H858M82,618.5H858M82,371.5H858M81.5,84V329M81.5,372V617M82,309.5H858M82,288.5H858M82,267.5H858M82,246.5H858M82,225.5H858M82,204.5H858M82,183.5H858M82,162.5H858M82,140.5H858M82,119.5H858M82,98.5H858M82,593.5H858M82,569.5H858M82,544.5H858M82,519.5H858M82,495.5H858M82,470.5H858M82,445.5H858M82,420.5H858M82,396.5H858" stroke="rgb(170,170,170)" stroke-width="1" stroke-dasharray="2 5" fill="none" shape-rendering="crispEdges"/>
<polyline points="81.00,330.50 88.00,328.50 94.70,326.50 99.10,324.50 106.90,322.50 125.20,322.50 138.00,321.50 144.70,321.50 164.70,321.50 170.00,320.50 174.40,320.50 181.10,318.50 186.10,316.50 190.00,309.50 194.40,309.50 200.00,301.50 203.30,301.50 235.60,301.50 242.20,298.50 265.00,298.50 273.90,298.50 277.20,296.50 288.90,295.50 290.60,294.50 307.20,294.50 326.10,294.50 329.40,292.50 351.10,292.50 352.80,292.50 358.00,291.50 362.00,290.50 377.80,290.50 382.80,285.50 385.60,284.50 393.30,283.50 408.90,283.50 417.80,282.50 443.30,282.50 445.60,281.50 460.00,280.50 478.90,280.50 481.70,279.50 498.30,278.50 507.20,271.50 510.60,270.50 513.90,269.50 524.40,269.50 528.90,264.50 546.70,264.50 550.60,250.50 556.10,232.50 558.90,218.50 563.30,218.50 568.30,214.50 572.80,209.50 576.10,207.50 594.40,207.50 597.20,205.50 611.70,203.50 615.00,201.50 638.30,201.50 642.80,200.50 646.40,200.50 650.30,195.50 654.80,186.50 661.90,185.50 677.90,185.50 681.80,183.50 685.00,170.50 688.20,168.50 695.30,168.50 698.50,161.50 703.00,159.50 709.40,156.50 724.80,156.50 726.80,153.50 732.50,146.50 737.70,142.50 741.50,139.50 746.60,138.50 763.90,137.50 779.80,135.50 795.70,135.50 811.60,131.50 815.20,128.50 834.00,128.50 837.60,124.50 849.80,123.50 854.20,117.50 857.80,109.50 859.00,106.50" fill="none" stroke="#000" stroke-width="1" stroke-linejoin="round" shape-rendering="crispEdges"/>
<polyline points="81.00,329.60 96.30,326.70 103.60,326.10 111.30,323.90 118.00,323.30 124.70,322.20 133.60,321.40 148.00,320.00 162.40,317.80 170.00,317.20 176.70,315.90 184.40,314.80 191.10,313.70 205.60,310.80 220.00,308.70 235.00,307.80 250.00,306.70 263.90,303.90 270.60,303.80 278.30,301.70 285.00,299.40 291.70,297.80 298.90,296.10 306.70,295.90 313.90,295.00 328.90,293.90 336.10,293.90 342.80,293.10 350.60,292.80 357.80,290.80 363.60,288.80 372.20,287.60 379.40,286.40 386.70,285.80 393.90,284.70 401.10,283.90 408.90,282.80 415.60,281.70 422.80,281.40 430.60,280.60 437.80,279.80 445.00,277.80 452.20,276.40 458.90,275.00 466.70,273.90 473.90,272.00 481.10,269.80 487.80,267.80 495.00,266.70 501.70,266.40 510.00,263.90 516.70,262.20 523.30,258.90 530.00,256.40 537.20,253.90 543.90,251.70 550.60,250.00 557.80,247.80 565.00,245.90 572.20,244.80 579.40,243.90 586.70,242.60 593.90,240.00 601.10,237.80 607.80,235.90 615.00,233.70 621.70,232.80 628.90,230.80 636.10,227.80 643.30,224.80 649.60,222.90 656.70,221.00 663.80,218.70 670.80,216.50 677.90,213.50 685.00,212.00 692.10,210.00 698.50,205.60 704.90,203.00 712.00,201.10 719.00,198.50 725.50,195.90 732.50,193.00 739.00,189.50 745.80,187.40 753.10,184.90 760.30,183.10 767.50,180.90 774.00,177.30 785.60,170.10 793.50,166.70 800.00,164.70 807.20,161.40 814.40,159.20 820.90,156.60 828.20,154.60 834.70,153.20 841.90,149.80 849.10,148.40 856.30,145.90 859.00,145.00" fill="none" stroke="#000" stroke-width="2" stroke-dasharray="2 5" shape-rendering="crispEdges"/>
<path d="M78,330.5H80M78,309.5H80M78,288.5H80M78,267.5H80M78,246.5H80M78,225.5H80M78,204.5H80M78,183.5H80M78,162.5H80M78,140.5H80M78,119.5H80M78,98.5H80M78,618.5H80M78,593.5H80M78,569.5H80M78,544.5H80M78,519.5H80M78,495.5H80M78,470.5H80M78,445.5H80M78,420.5H80M78,396.5H80M78,371.5H80M81.5,331V335M81.5,619V623M146.5,331V335M146.5,619V623M216.5,331V335M216.5,619V623M281.5,331V335M281.5,619V623M351.5,331V335M351.5,619V623M416.5,331V335M416.5,619V623M481.5,331V335M481.5,619V623M546.5,331V335M546.5,619V623M615.5,331V335M615.5,619V623M681.5,331V335M681.5,619V623M746.5,331V335M746.5,619V623M811.5,331V335M811.5,619V623" stroke="#000" stroke-width="1" fill="none" shape-rendering="crispEdges"/>
<path d="M171.00,13.62L170.00,11.66L168.00,9.70L166.00,8.72L162.00,8.72L160.00,9.70L158.00,11.66L157.00,13.62L156.00,16.56L156.00,21.46L157.00,24.40L158.00,26.36L160.00,28.32L162.00,29.30L166.00,29.30L168.00,28.32L170.00,26.36L171.00,24.40M178.35,8.72L178.35,29.30M178.35,8.72L186.35,29.30M194.35,8.72L186.35,29.30M194.35,8.72L194.35,29.30M208.00,8.72L206.00,9.70L204.00,11.66L203.00,13.62L202.00,16.56L202.00,21.46L203.00,24.40L204.00,26.36L206.00,28.32L208.00,29.30L212.00,29.30L214.00,28.32L216.00,26.36L217.00,24.40L218.00,21.46L218.00,16.56L217.00,13.62L216.00,11.66L214.00,9.70L212.00,8.72L208.00,8.72M225.00,8.72L225.00,29.30M225.00,8.72L234.00,8.72L237.00,9.70L238.00,10.68L239.00,12.64L239.00,14.60L238.00,16.56L237.00,17.54L234.00,18.52L225.00,18.52M232.00,18.52L239.00,29.30M246.40,8.72L246.40,29.30M246.40,8.72L255.40,8.72L258.40,9.70L259.40,10.68L260.40,12.64L260.40,15.58L259.40,17.54L258.40,18.52L255.40,19.50L246.40,19.50M268.25,8.72L268.25,29.30M282.25,8.72L282.25,29.30M268.25,18.52L282.25,18.52M314.08,8.72L306.08,29.30M314.08,8.72L322.08,29.30M309.08,22.44L319.08,22.44M328.26,8.72L328.26,29.30M328.26,8.72L335.26,8.72L338.26,9.70L340.26,11.66L341.26,13.62L342.26,16.56L342.26,21.46L341.26,24.40L340.26,26.36L338.26,28.32L335.26,29.30L328.26,29.30M358.37,8.72L358.37,24.40L357.37,27.34L356.37,28.32L354.37,29.30L352.37,29.30L350.37,28.32L349.37,27.34L348.37,24.40L348.37,22.44M397.18,8.72L383.18,29.30M383.18,8.72L397.18,8.72M383.18,29.30L397.18,29.30M409.68,8.72L406.68,9.70L404.68,12.64L403.68,17.54L403.68,20.48L404.68,25.38L406.68,28.32L409.68,29.30L411.68,29.30L414.68,28.32L416.68,25.38L417.68,20.48L417.68,17.54L416.68,12.64L414.68,9.70L411.68,8.72L409.68,8.72M430.38,8.72L427.38,9.70L425.38,12.64L424.38,17.54L424.38,20.48L425.38,25.38L427.38,28.32L430.38,29.30L432.38,29.30L435.38,28.32L437.38,25.38L438.38,20.48L438.38,17.54L437.38,12.64L435.38,9.70L432.38,8.72L430.38,8.72M463.78,8.72L463.78,29.30M463.78,8.72L472.78,8.72L475.78,9.70L476.78,10.68L477.78,12.64L477.78,15.58L476.78,17.54L475.78,18.52L472.78,19.50L463.78,19.50M489.91,15.58L487.91,16.56L485.91,18.52L484.91,21.46L484.91,23.42L485.91,26.36L487.91,28.32L489.91,29.30L492.91,29.30L494.91,28.32L496.91,26.36L497.91,23.42L497.91,21.46L496.91,18.52L494.91,16.56L492.91,15.58L489.91,15.58M502.90,8.72L503.90,9.70L504.90,8.72L503.90,7.74L502.90,8.72M503.90,15.58L503.90,29.30M512.85,15.58L512.85,29.30M512.85,19.50L515.85,16.56L517.85,15.58L520.85,15.58L522.85,16.56L523.85,19.50L523.85,29.30M533.96,8.72L533.96,25.38L534.96,28.32L536.96,29.30L538.96,29.30M530.96,15.58L537.96,15.58M566.90,8.72L566.90,29.30M559.90,8.72L573.90,8.72M578.10,8.72L579.10,9.70L580.10,8.72L579.10,7.74L578.10,8.72M579.10,15.58L579.10,29.30M587.35,15.58L587.35,29.30M587.35,19.50L590.35,16.56L592.35,15.58L595.35,15.58L597.35,16.56L598.35,19.50L598.35,29.30M598.35,19.50L601.35,16.56L603.35,15.58L606.35,15.58L608.35,16.56L609.35,19.50L609.35,29.30M617.63,21.46L629.63,21.46L629.63,19.50L628.63,17.54L627.63,16.56L625.63,15.58L622.63,15.58L620.63,16.56L618.63,18.52L617.63,21.46L617.63,23.42L618.63,26.36L620.63,28.32L622.63,29.30L625.63,29.30L627.63,28.32L629.63,26.36M668.17,11.66L666.17,9.70L663.17,8.72L659.17,8.72L656.17,9.70L654.17,11.66L654.17,13.62L655.17,15.58L656.17,16.56L658.17,17.54L664.17,19.50L666.17,20.48L667.17,21.46L668.17,23.42L668.17,26.36L666.17,28.32L663.17,29.30L659.17,29.30L656.17,28.32L654.17,26.36M674.14,21.46L686.14,21.46L686.14,19.50L685.14,17.54L684.14,16.56L682.14,15.58L679.14,15.58L677.14,16.56L675.14,18.52L674.14,21.46L674.14,23.42L675.14,26.36L677.14,28.32L679.14,29.30L682.14,29.30L684.14,28.32L686.14,26.36M693.07,15.58L693.07,29.30M693.07,21.46L694.07,18.52L696.07,16.56L698.07,15.58L701.07,15.58M706.20,8.72L707.20,9.70L708.20,8.72L707.20,7.74L706.20,8.72M707.20,15.58L707.20,29.30M714.60,21.46L726.60,21.46L726.60,19.50L725.60,17.54L724.60,16.56L722.60,15.58L719.60,15.58L717.60,16.56L715.60,18.52L714.60,21.46L714.60,23.42L715.60,26.36L717.60,28.32L719.60,29.30L722.60,29.30L724.60,28.32L726.60,26.36M744.10,18.52L743.10,16.56L740.10,15.58L737.10,15.58L734.10,16.56L733.10,18.52L734.10,20.48L736.10,21.46L741.10,22.44L743.10,23.42L744.10,25.38L744.10,26.36L743.10,28.32L740.10,29.30L737.10,29.30L734.10,28.32L733.10,26.36" fill="none" stroke="#000" stroke-width="1.8" stroke-linecap="round" stroke-linejoin="round" shape-rendering="crispEdges" />
<path d="M125.66,61.10L126.98,60.50L128.97,58.70L128.97,71.30M140.86,58.70L138.88,59.30L138.22,60.50L138.22,61.70L138.88,62.90L140.20,63.50L142.84,64.10L144.83,64.70L146.15,65.90L146.81,67.10L146.81,68.90L146.15,70.10L145.49,70.70L143.50,71.30L140.86,71.30L138.88,70.70L138.22,70.10L137.55,68.90L137.55,67.10L138.22,65.90L139.54,64.70L141.52,64.10L144.16,63.50L145.49,62.90L146.15,61.70L146.15,60.50L145.49,59.30L143.50,58.70L140.86,58.70M155.11,58.70L153.12,59.30L151.80,61.10L151.14,64.10L151.14,65.90L151.80,68.90L153.12,70.70L155.11,71.30L156.43,71.30L158.41,70.70L159.73,68.90L160.39,65.90L160.39,64.10L159.73,61.10L158.41,59.30L156.43,58.70L155.11,58.70M164.52,65.90L176.42,65.90M181.04,58.70L181.04,71.30M181.04,58.70L185.66,58.70L187.65,59.30L188.97,60.50L189.63,61.70L190.29,63.50L190.29,66.50L189.63,68.30L188.97,69.50L187.65,70.70L185.66,71.30L181.04,71.30M202.30,62.90L202.30,71.30M202.30,64.70L200.98,63.50L199.66,62.90L197.68,62.90L196.35,63.50L195.03,64.70L194.37,66.50L194.37,67.70L195.03,69.50L196.35,70.70L197.68,71.30L199.66,71.30L200.98,70.70L202.30,69.50M206.37,62.90L210.33,71.30M214.30,62.90L210.33,71.30L209.01,73.70L207.69,74.90L206.37,75.50L205.71,75.50M229.19,58.70L229.19,71.30M229.19,58.70L235.14,58.70L237.12,59.30L237.78,59.90L238.44,61.10L238.44,62.30L237.78,63.50L237.12,64.10L235.14,64.70L229.19,64.70M233.82,64.70L238.44,71.30M250.92,62.90L250.92,71.30M250.92,64.70L249.60,63.50L248.28,62.90L246.29,62.90L244.97,63.50L243.65,64.70L242.99,66.50L242.99,67.70L243.65,69.50L244.97,70.70L246.29,71.30L248.28,71.30L249.60,70.70L250.92,69.50M255.94,58.70L256.60,59.30L257.26,58.70L256.60,58.10L255.94,58.70M256.60,62.90L256.60,71.30M261.64,62.90L261.64,71.30M261.64,65.30L263.62,63.50L264.94,62.90L266.93,62.90L268.25,63.50L268.91,65.30L268.91,71.30M277.87,58.70L276.55,58.70L275.23,59.30L274.57,61.10L274.57,71.30M272.59,62.90L277.21,62.90M288.82,62.90L288.82,71.30M288.82,64.70L287.50,63.50L286.18,62.90L284.20,62.90L282.87,63.50L281.55,64.70L280.89,66.50L280.89,67.70L281.55,69.50L282.87,70.70L284.20,71.30L286.18,71.30L287.50,70.70L288.82,69.50M293.86,58.70L293.86,71.30M299.00,58.70L299.00,71.30" fill="none" stroke="#000" stroke-width="1.9" stroke-linecap="round" stroke-linejoin="round" shape-rendering="crispEdges" />
<path d="M331.57,58.70L331.57,71.30M331.57,58.70L336.85,71.30M342.14,58.70L336.85,71.30M342.14,58.70L342.14,71.30M354.88,62.90L354.88,71.30M354.88,64.70L353.55,63.50L352.23,62.90L350.25,62.90L348.93,63.50L347.61,64.70L346.94,66.50L346.94,67.70L347.61,69.50L348.93,70.70L350.25,71.30L352.23,71.30L353.55,70.70L354.88,69.50M366.92,64.70L366.26,63.50L364.28,62.90L362.30,62.90L360.31,63.50L359.65,64.70L360.31,65.90L361.63,66.50L364.94,67.10L366.26,67.70L366.92,68.90L366.92,69.50L366.26,70.70L364.28,71.30L362.30,71.30L360.31,70.70L359.65,69.50M371.03,66.50L378.96,66.50L378.96,65.30L378.30,64.10L377.64,63.50L376.32,62.90L374.34,62.90L373.01,63.50L371.69,64.70L371.03,66.50L371.03,67.70L371.69,69.50L373.01,70.70L374.34,71.30L376.32,71.30L377.64,70.70L378.96,69.50M387.68,58.70L386.36,58.70L385.04,59.30L384.37,61.10L384.37,71.30M382.39,62.90L387.02,62.90M399.04,62.90L399.04,71.30M399.04,64.70L397.72,63.50L396.40,62.90L394.42,62.90L393.09,63.50L391.77,64.70L391.11,66.50L391.11,67.70L391.77,69.50L393.09,70.70L394.42,71.30L396.40,71.30L397.72,70.70L399.04,69.50M404.49,62.90L404.49,68.90L405.15,70.70L406.47,71.30L408.45,71.30L409.77,70.70L411.76,68.90M411.76,62.90L411.76,71.30M414.55,75.20L425.12,75.20M431.21,58.70L425.92,71.30M431.21,58.70L436.50,71.30M427.90,67.10L434.51,67.10M448.55,60.50L447.23,59.30L445.25,58.70L442.60,58.70L440.62,59.30L439.30,60.50L439.30,61.70L439.96,62.90L440.62,63.50L441.94,64.10L445.91,65.30L447.23,65.90L447.89,66.50L448.55,67.70L448.55,69.50L447.23,70.70L445.25,71.30L442.60,71.30L440.62,70.70L439.30,69.50M468.70,56.30L467.37,57.50L466.05,59.30L464.73,61.70L464.07,64.70L464.07,67.10L464.73,70.10L466.05,72.50L467.37,74.30L468.70,75.50M484.73,65.90L496.63,65.90M503.77,61.10L505.09,60.50L507.08,58.70L507.08,71.30M523.00,58.70L516.39,67.10L526.30,67.10M523.00,58.70L523.00,71.30M532.00,70.10L531.34,70.70L532.00,71.30L532.66,70.70L532.00,70.10M536.91,61.70L536.91,61.10L537.57,59.90L538.23,59.30L539.55,58.70L542.19,58.70L543.52,59.30L544.18,59.90L544.84,61.10L544.84,62.30L544.18,63.50L542.85,65.30L536.24,71.30L545.50,71.30M550.34,58.70L557.61,58.70L553.65,63.50L555.63,63.50L556.95,64.10L557.61,64.70L558.27,66.50L558.27,67.70L557.61,69.50L556.29,70.70L554.31,71.30L552.32,71.30L550.34,70.70L549.68,70.10L549.02,68.90M571.05,58.70L564.44,71.30M561.79,58.70L571.05,58.70M575.89,58.70L583.16,58.70L579.20,63.50L581.18,63.50L582.50,64.10L583.16,64.70L583.82,66.50L583.82,67.70L583.16,69.50L581.84,70.70L579.86,71.30L577.87,71.30L575.89,70.70L575.23,70.10L574.57,68.90M595.94,60.50L595.27,59.30L593.29,58.70L591.97,58.70L589.99,59.30L588.66,61.10L588.00,64.10L588.00,67.10L588.66,69.50L589.99,70.70L591.97,71.30L592.63,71.30L594.61,70.70L595.94,69.50L596.60,67.70L596.60,67.10L595.94,65.30L594.61,64.10L592.63,63.50L591.97,63.50L589.99,64.10L588.66,65.30L588.00,67.10M604.08,58.70L602.10,59.30L600.78,61.10L600.12,64.10L600.12,65.90L600.78,68.90L602.10,70.70L604.08,71.30L605.41,71.30L607.39,70.70L608.71,68.90L609.37,65.90L609.37,64.10L608.71,61.10L607.39,59.30L605.41,58.70L604.08,58.70M619.50,58.70L612.89,67.10L622.81,67.10M619.50,58.70L619.50,71.30M627.76,70.70L627.10,71.30L626.44,70.70L627.10,70.10L627.76,70.70L627.76,71.90L627.10,73.10L626.44,73.70M644.60,65.90L656.49,65.90M659.77,61.10L661.10,60.50L663.08,58.70L663.08,71.30M679.63,58.70L673.02,71.30M670.37,58.70L679.63,58.70M687.67,58.70L685.69,59.30L684.37,61.10L683.71,64.10L683.71,65.90L684.37,68.90L685.69,70.70L687.67,71.30L688.99,71.30L690.98,70.70L692.30,68.90L692.96,65.90L692.96,64.10L692.30,61.10L690.98,59.30L688.99,58.70L687.67,58.70M698.33,70.10L697.67,70.70L698.33,71.30L698.99,70.70L698.33,70.10M712.33,60.50L711.67,59.30L709.69,58.70L708.37,58.70L706.39,59.30L705.06,61.10L704.40,64.10L704.40,67.10L705.06,69.50L706.39,70.70L708.37,71.30L709.03,71.30L711.01,70.70L712.33,69.50L713.00,67.70L713.00,67.10L712.33,65.30L711.01,64.10L709.03,63.50L708.37,63.50L706.39,64.10L705.06,65.30L704.40,67.10M726.02,60.50L725.36,59.30L723.38,58.70L722.06,58.70L720.08,59.30L718.75,61.10L718.09,64.10L718.09,67.10L718.75,69.50L720.08,70.70L722.06,71.30L722.72,71.30L724.70,70.70L726.02,69.50L726.69,67.70L726.69,67.10L726.02,65.30L724.70,64.10L722.72,63.50L722.06,63.50L720.08,64.10L718.75,65.30L718.09,67.10M739.71,60.50L739.05,59.30L737.07,58.70L735.75,58.70L733.77,59.30L732.44,61.10L731.78,64.10L731.78,67.10L732.44,69.50L733.77,70.70L735.75,71.30L736.41,71.30L738.39,70.70L739.71,69.50L740.38,67.70L740.38,67.10L739.71,65.30L738.39,64.10L736.41,63.50L735.75,63.50L733.77,64.10L732.44,65.30L731.78,67.10M752.74,58.70L746.13,58.70L745.47,64.10L746.13,63.50L748.12,62.90L750.10,62.90L752.08,63.50L753.40,64.70L754.07,66.50L754.07,67.70L753.40,69.50L752.08,70.70L750.10,71.30L748.12,71.30L746.13,70.70L745.47,70.10L744.81,68.90M759.82,58.70L767.09,58.70L763.13,63.50L765.11,63.50L766.43,64.10L767.09,64.70L767.76,66.50L767.76,67.70L767.09,69.50L765.77,70.70L763.79,71.30L761.81,71.30L759.82,70.70L759.16,70.10L758.50,68.90M775.50,58.70L773.51,59.30L772.85,60.50L772.85,61.70L773.51,62.90L774.84,63.50L777.48,64.10L779.46,64.70L780.78,65.90L781.45,67.10L781.45,68.90L780.78,70.10L780.12,70.70L778.14,71.30L775.50,71.30L773.51,70.70L772.85,70.10L772.19,68.90L772.19,67.10L772.85,65.90L774.17,64.70L776.16,64.10L778.80,63.50L780.12,62.90L780.78,61.70L780.78,60.50L780.12,59.30L778.14,58.70L775.50,58.70M789.19,58.70L787.20,59.30L786.54,60.50L786.54,61.70L787.20,62.90L788.53,63.50L791.17,64.10L793.15,64.70L794.47,65.90L795.14,67.10L795.14,68.90L794.47,70.10L793.81,70.70L791.83,71.30L789.19,71.30L787.20,70.70L786.54,70.10L785.88,68.90L785.88,67.10L786.54,65.90L787.86,64.70L789.85,64.10L792.49,63.50L793.81,62.90L794.47,61.70L794.47,60.50L793.81,59.30L791.83,58.70L789.19,58.70M810.77,56.30L812.09,57.50L813.41,59.30L814.73,61.70L815.39,64.70L815.39,67.10L814.73,70.10L813.41,72.50L812.09,74.30L810.77,75.50" fill="none" stroke="#000" stroke-width="1.9" stroke-linecap="round" stroke-linejoin="round" shape-rendering="crispEdges" />
<path d="M70.09,326.47L69.03,326.90L68.32,328.19L67.97,330.34L67.97,331.63L68.32,333.78L69.03,335.07L70.09,335.50L70.81,335.50L71.87,335.07L72.58,333.78L72.94,331.63L72.94,330.34L72.58,328.19L71.87,326.90L70.81,326.47L70.09,326.47M54.83,307.19L55.54,306.76L56.61,305.47L56.61,314.50M63.00,305.47L61.93,305.90L61.22,307.19L60.87,309.34L60.87,310.63L61.22,312.78L61.93,314.07L63.00,314.50L63.70,314.50L64.77,314.07L65.48,312.78L65.84,310.63L65.84,309.34L65.48,307.19L64.77,305.90L63.70,305.47L63.00,305.47M70.09,305.47L69.03,305.90L68.32,307.19L67.97,309.34L67.97,310.63L68.32,312.78L69.03,314.07L70.09,314.50L70.81,314.50L71.87,314.07L72.58,312.78L72.94,310.63L72.94,309.34L72.58,307.19L71.87,305.90L70.81,305.47L70.09,305.47M54.12,286.62L54.12,286.19L54.48,285.33L54.83,284.90L55.54,284.47L56.96,284.47L57.67,284.90L58.03,285.33L58.38,286.19L58.38,287.05L58.03,287.91L57.32,289.20L53.77,293.50L58.73,293.50M63.00,284.47L61.93,284.90L61.22,286.19L60.87,288.34L60.87,289.63L61.22,291.78L61.93,293.07L63.00,293.50L63.70,293.50L64.77,293.07L65.48,291.78L65.84,289.63L65.84,288.34L65.48,286.19L64.77,284.90L63.70,284.47L63.00,284.47M70.09,284.47L69.03,284.90L68.32,286.19L67.97,288.34L67.97,289.63L68.32,291.78L69.03,293.07L70.09,293.50L70.81,293.50L71.87,293.07L72.58,291.78L72.94,289.63L72.94,288.34L72.58,286.19L71.87,284.90L70.81,284.47L70.09,284.47M54.48,263.47L58.38,263.47L56.25,266.91L57.32,266.91L58.03,267.34L58.38,267.77L58.73,269.06L58.73,269.92L58.38,271.21L57.67,272.07L56.61,272.50L55.54,272.50L54.48,272.07L54.12,271.64L53.77,270.78M63.00,263.47L61.93,263.90L61.22,265.19L60.87,267.34L60.87,268.63L61.22,270.78L61.93,272.07L63.00,272.50L63.70,272.50L64.77,272.07L65.48,270.78L65.84,268.63L65.84,267.34L65.48,265.19L64.77,263.90L63.70,263.47L63.00,263.47M70.09,263.47L69.03,263.90L68.32,265.19L67.97,267.34L67.97,268.63L68.32,270.78L69.03,272.07L70.09,272.50L70.81,272.50L71.87,272.07L72.58,270.78L72.94,268.63L72.94,267.34L72.58,265.19L71.87,263.90L70.81,263.47L70.09,263.47M57.32,242.47L53.77,248.49L59.09,248.49M57.32,242.47L57.32,251.50M63.00,242.47L61.93,242.90L61.22,244.19L60.87,246.34L60.87,247.63L61.22,249.78L61.93,251.07L63.00,251.50L63.70,251.50L64.77,251.07L65.48,249.78L65.84,247.63L65.84,246.34L65.48,244.19L64.77,242.90L63.70,242.47L63.00,242.47M70.09,242.47L69.03,242.90L68.32,244.19L67.97,246.34L67.97,247.63L68.32,249.78L69.03,251.07L70.09,251.50L70.81,251.50L71.87,251.07L72.58,249.78L72.94,247.63L72.94,246.34L72.58,244.19L71.87,242.90L70.81,242.47L70.09,242.47M58.03,221.47L54.48,221.47L54.12,225.34L54.48,224.91L55.54,224.48L56.61,224.48L57.67,224.91L58.38,225.77L58.73,227.06L58.73,227.92L58.38,229.21L57.67,230.07L56.61,230.50L55.54,230.50L54.48,230.07L54.12,229.64L53.77,228.78M63.00,221.47L61.93,221.90L61.22,223.19L60.87,225.34L60.87,226.63L61.22,228.78L61.93,230.07L63.00,230.50L63.70,230.50L64.77,230.07L65.48,228.78L65.84,226.63L65.84,225.34L65.48,223.19L64.77,221.90L63.70,221.47L63.00,221.47M70.09,221.47L69.03,221.90L68.32,223.19L67.97,225.34L67.97,226.63L68.32,228.78L69.03,230.07L70.09,230.50L70.81,230.50L71.87,230.07L72.58,228.78L72.94,226.63L72.94,225.34L72.58,223.19L71.87,221.90L70.81,221.47L70.09,221.47M58.38,201.76L58.03,200.90L56.96,200.47L56.25,200.47L55.19,200.90L54.48,202.19L54.12,204.34L54.12,206.49L54.48,208.21L55.19,209.07L56.25,209.50L56.61,209.50L57.67,209.07L58.38,208.21L58.73,206.92L58.73,206.49L58.38,205.20L57.67,204.34L56.61,203.91L56.25,203.91L55.19,204.34L54.48,205.20L54.12,206.49M63.00,200.47L61.93,200.90L61.22,202.19L60.87,204.34L60.87,205.63L61.22,207.78L61.93,209.07L63.00,209.50L63.70,209.50L64.77,209.07L65.48,207.78L65.84,205.63L65.84,204.34L65.48,202.19L64.77,200.90L63.70,200.47L63.00,200.47M70.09,200.47L69.03,200.90L68.32,202.19L67.97,204.34L67.97,205.63L68.32,207.78L69.03,209.07L70.09,209.50L70.81,209.50L71.87,209.07L72.58,207.78L72.94,205.63L72.94,204.34L72.58,202.19L71.87,200.90L70.81,200.47L70.09,200.47M58.73,179.47L55.19,188.50M53.77,179.47L58.73,179.47M63.00,179.47L61.93,179.90L61.22,181.19L60.87,183.34L60.87,184.63L61.22,186.78L61.93,188.07L63.00,188.50L63.70,188.50L64.77,188.07L65.48,186.78L65.84,184.63L65.84,183.34L65.48,181.19L64.77,179.90L63.70,179.47L63.00,179.47M70.09,179.47L69.03,179.90L68.32,181.19L67.97,183.34L67.97,184.63L68.32,186.78L69.03,188.07L70.09,188.50L70.81,188.50L71.87,188.07L72.58,186.78L72.94,184.63L72.94,183.34L72.58,181.19L71.87,179.90L70.81,179.47L70.09,179.47M55.54,158.47L54.48,158.90L54.12,159.76L54.12,160.62L54.48,161.48L55.19,161.91L56.61,162.34L57.67,162.77L58.38,163.63L58.73,164.49L58.73,165.78L58.38,166.64L58.03,167.07L56.96,167.50L55.54,167.50L54.48,167.07L54.12,166.64L53.77,165.78L53.77,164.49L54.12,163.63L54.83,162.77L55.90,162.34L57.32,161.91L58.03,161.48L58.38,160.62L58.38,159.76L58.03,158.90L56.96,158.47L55.54,158.47M63.00,158.47L61.93,158.90L61.22,160.19L60.87,162.34L60.87,163.63L61.22,165.78L61.93,167.07L63.00,167.50L63.70,167.50L64.77,167.07L65.48,165.78L65.84,163.63L65.84,162.34L65.48,160.19L64.77,158.90L63.70,158.47L63.00,158.47M70.09,158.47L69.03,158.90L68.32,160.19L67.97,162.34L67.97,163.63L68.32,165.78L69.03,167.07L70.09,167.50L70.81,167.50L71.87,167.07L72.58,165.78L72.94,163.63L72.94,162.34L72.58,160.19L71.87,158.90L70.81,158.47L70.09,158.47M58.38,139.48L58.03,140.77L57.32,141.63L56.25,142.06L55.90,142.06L54.83,141.63L54.12,140.77L53.77,139.48L53.77,139.05L54.12,137.76L54.83,136.90L55.90,136.47L56.25,136.47L57.32,136.90L58.03,137.76L58.38,139.48L58.38,141.63L58.03,143.78L57.32,145.07L56.25,145.50L55.54,145.50L54.48,145.07L54.12,144.21M63.00,136.47L61.93,136.90L61.22,138.19L60.87,140.34L60.87,141.63L61.22,143.78L61.93,145.07L63.00,145.50L63.70,145.50L64.77,145.07L65.48,143.78L65.84,141.63L65.84,140.34L65.48,138.19L64.77,136.90L63.70,136.47L63.00,136.47M70.09,136.47L69.03,136.90L68.32,138.19L67.97,140.34L67.97,141.63L68.32,143.78L69.03,145.07L70.09,145.50L70.81,145.50L71.87,145.07L72.58,143.78L72.94,141.63L72.94,140.34L72.58,138.19L71.87,136.90L70.81,136.47L70.09,136.47M47.73,117.19L48.44,116.76L49.51,115.47L49.51,124.50M55.90,115.47L54.83,115.90L54.12,117.19L53.77,119.34L53.77,120.63L54.12,122.78L54.83,124.07L55.90,124.50L56.61,124.50L57.67,124.07L58.38,122.78L58.73,120.63L58.73,119.34L58.38,117.19L57.67,115.90L56.61,115.47L55.90,115.47M63.00,115.47L61.93,115.90L61.22,117.19L60.87,119.34L60.87,120.63L61.22,122.78L61.93,124.07L63.00,124.50L63.70,124.50L64.77,124.07L65.48,122.78L65.84,120.63L65.84,119.34L65.48,117.19L64.77,115.90L63.70,115.47L63.00,115.47M70.09,115.47L69.03,115.90L68.32,117.19L67.97,119.34L67.97,120.63L68.32,122.78L69.03,124.07L70.09,124.50L70.81,124.50L71.87,124.07L72.58,122.78L72.94,120.63L72.94,119.34L72.58,117.19L71.87,115.90L70.81,115.47L70.09,115.47M47.73,96.19L48.44,95.76L49.51,94.47L49.51,103.50M54.83,96.19L55.54,95.76L56.61,94.47L56.61,103.50M63.00,94.47L61.93,94.90L61.22,96.19L60.87,98.34L60.87,99.63L61.22,101.78L61.93,103.07L63.00,103.50L63.70,103.50L64.77,103.07L65.48,101.78L65.84,99.63L65.84,98.34L65.48,96.19L64.77,94.90L63.70,94.47L63.00,94.47M70.09,94.47L69.03,94.90L68.32,96.19L67.97,98.34L67.97,99.63L68.32,101.78L69.03,103.07L70.09,103.50L70.81,103.50L71.87,103.07L72.58,101.78L72.94,99.63L72.94,98.34L72.58,96.19L71.87,94.90L70.81,94.47L70.09,94.47M70.09,614.47L69.03,614.90L68.32,616.19L67.97,618.34L67.97,619.63L68.32,621.78L69.03,623.07L70.09,623.50L70.81,623.50L71.87,623.07L72.58,621.78L72.94,619.63L72.94,618.34L72.58,616.19L71.87,614.90L70.81,614.47L70.09,614.47M61.93,591.19L62.64,590.76L63.70,589.47L63.70,598.50M70.09,589.47L69.03,589.90L68.32,591.19L67.97,593.34L67.97,594.63L68.32,596.78L69.03,598.07L70.09,598.50L70.80,598.50L71.87,598.07L72.58,596.78L72.94,594.63L72.94,593.34L72.58,591.19L71.87,589.90L70.80,589.47L70.09,589.47M61.22,567.62L61.22,567.19L61.57,566.33L61.93,565.90L62.64,565.47L64.06,565.47L64.77,565.90L65.12,566.33L65.48,567.19L65.48,568.05L65.12,568.91L64.41,570.20L60.86,574.50L65.83,574.50M70.09,565.47L69.03,565.90L68.32,567.19L67.97,569.34L67.97,570.63L68.32,572.78L69.03,574.07L70.09,574.50L70.80,574.50L71.87,574.07L72.58,572.78L72.94,570.63L72.94,569.34L72.58,567.19L71.87,565.90L70.80,565.47L70.09,565.47M61.57,540.47L65.48,540.47L63.35,543.91L64.41,543.91L65.12,544.34L65.48,544.77L65.83,546.06L65.83,546.92L65.48,548.21L64.77,549.07L63.70,549.50L62.64,549.50L61.57,549.07L61.22,548.64L60.86,547.78M70.09,540.47L69.03,540.90L68.32,542.19L67.97,544.34L67.97,545.63L68.32,547.78L69.03,549.07L70.09,549.50L70.80,549.50L71.87,549.07L72.58,547.78L72.94,545.63L72.94,544.34L72.58,542.19L71.87,540.90L70.80,540.47L70.09,540.47M64.41,515.47L60.86,521.49L66.19,521.49M64.41,515.47L64.41,524.50M70.09,515.47L69.03,515.90L68.32,517.19L67.97,519.34L67.97,520.63L68.32,522.78L69.03,524.07L70.09,524.50L70.80,524.50L71.87,524.07L72.58,522.78L72.94,520.63L72.94,519.34L72.58,517.19L71.87,515.90L70.80,515.47L70.09,515.47M65.12,491.47L61.57,491.47L61.22,495.34L61.57,494.91L62.64,494.48L63.70,494.48L64.77,494.91L65.48,495.77L65.83,497.06L65.83,497.92L65.48,499.21L64.77,500.07L63.70,500.50L62.64,500.50L61.57,500.07L61.22,499.64L60.86,498.78M70.09,491.47L69.03,491.90L68.32,493.19L67.97,495.34L67.97,496.63L68.32,498.78L69.03,500.07L70.09,500.50L70.80,500.50L71.87,500.07L72.58,498.78L72.94,496.63L72.94,495.34L72.58,493.19L71.87,491.90L70.80,491.47L70.09,491.47M65.48,467.76L65.12,466.90L64.06,466.47L63.35,466.47L62.28,466.90L61.57,468.19L61.22,470.34L61.22,472.49L61.57,474.21L62.28,475.07L63.35,475.50L63.70,475.50L64.77,475.07L65.48,474.21L65.83,472.92L65.83,472.49L65.48,471.20L64.77,470.34L63.70,469.91L63.35,469.91L62.28,470.34L61.57,471.20L61.22,472.49M70.09,466.47L69.03,466.90L68.32,468.19L67.97,470.34L67.97,471.63L68.32,473.78L69.03,475.07L70.09,475.50L70.80,475.50L71.87,475.07L72.58,473.78L72.94,471.63L72.94,470.34L72.58,468.19L71.87,466.90L70.80,466.47L70.09,466.47M65.83,441.47L62.28,450.50M60.86,441.47L65.83,441.47M70.09,441.47L69.03,441.90L68.32,443.19L67.97,445.34L67.97,446.63L68.32,448.78L69.03,450.07L70.09,450.50L70.80,450.50L71.87,450.07L72.58,448.78L72.94,446.63L72.94,445.34L72.58,443.19L71.87,441.90L70.80,441.47L70.09,441.47M62.64,416.47L61.57,416.90L61.22,417.76L61.22,418.62L61.57,419.48L62.28,419.91L63.70,420.34L64.77,420.77L65.48,421.63L65.83,422.49L65.83,423.78L65.48,424.64L65.12,425.07L64.06,425.50L62.64,425.50L61.57,425.07L61.22,424.64L60.86,423.78L60.86,422.49L61.22,421.63L61.93,420.77L62.99,420.34L64.41,419.91L65.12,419.48L65.48,418.62L65.48,417.76L65.12,416.90L64.06,416.47L62.64,416.47M70.09,416.47L69.03,416.90L68.32,418.19L67.97,420.34L67.97,421.63L68.32,423.78L69.03,425.07L70.09,425.50L70.80,425.50L71.87,425.07L72.58,423.78L72.94,421.63L72.94,420.34L72.58,418.19L71.87,416.90L70.80,416.47L70.09,416.47M65.48,395.48L65.12,396.77L64.41,397.63L63.35,398.06L62.99,398.06L61.93,397.63L61.22,396.77L60.86,395.48L60.86,395.05L61.22,393.76L61.93,392.90L62.99,392.47L63.35,392.47L64.41,392.90L65.12,393.76L65.48,395.48L65.48,397.63L65.12,399.78L64.41,401.07L63.35,401.50L62.64,401.50L61.57,401.07L61.22,400.21M70.09,392.47L69.03,392.90L68.32,394.19L67.97,396.34L67.97,397.63L68.32,399.78L69.03,401.07L70.09,401.50L70.80,401.50L71.87,401.07L72.58,399.78L72.94,397.63L72.94,396.34L72.58,394.19L71.87,392.90L70.80,392.47L70.09,392.47M54.83,369.19L55.54,368.76L56.61,367.47L56.61,376.50M63.00,367.47L61.93,367.90L61.22,369.19L60.87,371.34L60.87,372.63L61.22,374.78L61.93,376.07L63.00,376.50L63.70,376.50L64.77,376.07L65.48,374.78L65.84,372.63L65.84,371.34L65.48,369.19L64.77,367.90L63.70,367.47L63.00,367.47M70.09,367.47L69.03,367.90L68.32,369.19L67.97,371.34L67.97,372.63L68.32,374.78L69.03,376.07L70.09,376.50L70.81,376.50L71.87,376.07L72.58,374.78L72.94,372.63L72.94,371.34L72.58,369.19L71.87,367.90L70.81,367.47L70.09,367.47M70.97,338.70L71.67,338.30L72.72,337.10L72.72,345.50M80.08,337.10L80.08,343.50L79.72,344.70L79.38,345.10L78.67,345.50L77.97,345.50L77.28,345.10L76.92,344.70L76.58,343.50L76.58,342.70M82.88,337.10L82.88,343.10L83.22,344.30L83.92,345.10L84.97,345.50L85.67,345.50L86.72,345.10L87.42,344.30L87.78,343.10L87.78,337.10M90.58,337.10L90.58,345.50M90.58,345.50L94.78,345.50M70.97,626.70L71.67,626.30L72.72,625.10L72.72,633.50M80.08,625.10L80.08,631.50L79.72,632.70L79.38,633.10L78.67,633.50L77.97,633.50L77.28,633.10L76.92,632.70L76.58,631.50L76.58,630.70M82.88,625.10L82.88,631.10L83.22,632.30L83.92,633.10L84.97,633.50L85.67,633.50L86.72,633.10L87.42,632.30L87.78,631.10L87.78,625.10M90.58,625.10L90.58,633.50M90.58,633.50L94.78,633.50M132.47,338.70L133.18,338.30L134.22,337.10L134.22,345.50M142.97,338.30L142.62,337.50L141.57,337.10L140.88,337.10L139.82,337.50L139.12,338.70L138.78,340.70L138.78,342.70L139.12,344.30L139.82,345.10L140.88,345.50L141.22,345.50L142.28,345.10L142.97,344.30L143.32,343.10L143.32,342.70L142.97,341.50L142.28,340.70L141.22,340.30L140.88,340.30L139.82,340.70L139.12,341.50L138.78,342.70M148.57,337.10L148.57,343.50L148.22,344.70L147.88,345.10L147.18,345.50L146.47,345.50L145.78,345.10L145.43,344.70L145.07,343.50L145.07,342.70M151.38,337.10L151.38,343.10L151.72,344.30L152.43,345.10L153.47,345.50L154.18,345.50L155.22,345.10L155.93,344.30L156.28,343.10L156.28,337.10M159.07,337.10L159.07,345.50M159.07,345.50L163.28,345.50M132.47,626.70L133.18,626.30L134.22,625.10L134.22,633.50M142.97,626.30L142.62,625.50L141.57,625.10L140.88,625.10L139.82,625.50L139.12,626.70L138.78,628.70L138.78,630.70L139.12,632.30L139.82,633.10L140.88,633.50L141.22,633.50L142.28,633.10L142.97,632.30L143.32,631.10L143.32,630.70L142.97,629.50L142.28,628.70L141.22,628.30L140.88,628.30L139.82,628.70L139.12,629.50L138.78,630.70M148.57,625.10L148.57,631.50L148.22,632.70L147.88,633.10L147.18,633.50L146.47,633.50L145.78,633.10L145.43,632.70L145.07,631.50L145.07,630.70M151.38,625.10L151.38,631.10L151.72,632.30L152.43,633.10L153.47,633.50L154.18,633.50L155.22,633.10L155.93,632.30L156.28,631.10L156.28,625.10M159.07,625.10L159.07,633.50M159.07,633.50L163.28,633.50M204.92,338.70L205.62,338.30L206.67,337.10L206.67,345.50M212.97,337.10L210.17,345.50M212.97,337.10L215.77,345.50M211.22,342.70L214.72,342.70M217.52,337.10L217.52,343.10L217.88,344.30L218.57,345.10L219.62,345.50L220.32,345.50L221.38,345.10L222.07,344.30L222.42,343.10L222.42,337.10M230.12,339.10L229.77,338.30L229.07,337.50L228.38,337.10L226.97,337.10L226.27,337.50L225.57,338.30L225.22,339.10L224.88,340.30L224.88,342.30L225.22,343.50L225.57,344.30L226.27,345.10L226.97,345.50L228.38,345.50L229.07,345.10L229.77,344.30L230.12,343.50L230.12,342.30M228.38,342.30L230.12,342.30M204.92,626.70L205.62,626.30L206.67,625.10L206.67,633.50M212.97,625.10L210.17,633.50M212.97,625.10L215.77,633.50M211.22,630.70L214.72,630.70M217.52,625.10L217.52,631.10L217.88,632.30L218.57,633.10L219.62,633.50L220.32,633.50L221.38,633.10L222.07,632.30L222.42,631.10L222.42,625.10M230.12,627.10L229.77,626.30L229.07,625.50L228.38,625.10L226.97,625.10L226.27,625.50L225.57,626.30L225.22,627.10L224.88,628.30L224.88,630.30L225.22,631.50L225.57,632.30L226.27,633.10L226.97,633.50L228.38,633.50L229.07,633.10L229.77,632.30L230.12,631.50L230.12,630.30M228.38,630.30L230.12,630.30M266.43,338.70L267.12,338.30L268.18,337.10L268.18,345.50M276.93,338.30L276.57,337.50L275.52,337.10L274.82,337.10L273.77,337.50L273.07,338.70L272.72,340.70L272.72,342.70L273.07,344.30L273.77,345.10L274.82,345.50L275.18,345.50L276.22,345.10L276.93,344.30L277.27,343.10L277.27,342.70L276.93,341.50L276.22,340.70L275.18,340.30L274.82,340.30L273.77,340.70L273.07,341.50L272.72,342.70M281.47,337.10L278.68,345.50M281.47,337.10L284.27,345.50M279.72,342.70L283.22,342.70M286.02,337.10L286.02,343.10L286.38,344.30L287.07,345.10L288.12,345.50L288.82,345.50L289.88,345.10L290.57,344.30L290.93,343.10L290.93,337.10M298.62,339.10L298.27,338.30L297.57,337.50L296.88,337.10L295.47,337.10L294.77,337.50L294.07,338.30L293.72,339.10L293.38,340.30L293.38,342.30L293.72,343.50L294.07,344.30L294.77,345.10L295.47,345.50L296.88,345.50L297.57,345.10L298.27,344.30L298.62,343.50L298.62,342.30M296.88,342.30L298.62,342.30M266.43,626.70L267.12,626.30L268.18,625.10L268.18,633.50M276.93,626.30L276.57,625.50L275.52,625.10L274.82,625.10L273.77,625.50L273.07,626.70L272.72,628.70L272.72,630.70L273.07,632.30L273.77,633.10L274.82,633.50L275.18,633.50L276.22,633.10L276.93,632.30L277.27,631.10L277.27,630.70L276.93,629.50L276.22,628.70L275.18,628.30L274.82,628.30L273.77,628.70L273.07,629.50L272.72,630.70M281.47,625.10L278.68,633.50M281.47,625.10L284.27,633.50M279.72,630.70L283.22,630.70M286.02,625.10L286.02,631.10L286.38,632.30L287.07,633.10L288.12,633.50L288.82,633.50L289.88,633.10L290.57,632.30L290.93,631.10L290.93,625.10M298.62,627.10L298.27,626.30L297.57,625.50L296.88,625.10L295.47,625.10L294.77,625.50L294.07,626.30L293.72,627.10L293.38,628.30L293.38,630.30L293.72,631.50L294.07,632.30L294.77,633.10L295.47,633.50L296.88,633.50L297.57,633.10L298.27,632.30L298.62,631.50L298.62,630.30M296.88,630.30L298.62,630.30M340.10,338.70L340.80,338.30L341.85,337.10L341.85,345.50M350.95,338.30L350.25,337.50L349.20,337.10L347.80,337.10L346.75,337.50L346.05,338.30L346.05,339.10L346.40,339.90L346.75,340.30L347.45,340.70L349.55,341.50L350.25,341.90L350.60,342.30L350.95,343.10L350.95,344.30L350.25,345.10L349.20,345.50L347.80,345.50L346.75,345.10L346.05,344.30M353.40,337.10L353.40,345.50M353.40,337.10L357.95,337.10M353.40,341.10L356.20,341.10M353.40,345.50L357.95,345.50M360.05,337.10L360.05,345.50M360.05,337.10L363.20,337.10L364.25,337.50L364.60,337.90L364.95,338.70L364.95,339.90L364.60,340.70L364.25,341.10L363.20,341.50L360.05,341.50M340.10,626.70L340.80,626.30L341.85,625.10L341.85,633.50M350.95,626.30L350.25,625.50L349.20,625.10L347.80,625.10L346.75,625.50L346.05,626.30L346.05,627.10L346.40,627.90L346.75,628.30L347.45,628.70L349.55,629.50L350.25,629.90L350.60,630.30L350.95,631.10L350.95,632.30L350.25,633.10L349.20,633.50L347.80,633.50L346.75,633.10L346.05,632.30M353.40,625.10L353.40,633.50M353.40,625.10L357.95,625.10M353.40,629.10L356.20,629.10M353.40,633.50L357.95,633.50M360.05,625.10L360.05,633.50M360.05,625.10L363.20,625.10L364.25,625.50L364.60,625.90L364.95,626.70L364.95,627.90L364.60,628.70L364.25,629.10L363.20,629.50L360.05,629.50M401.60,338.70L402.30,338.30L403.35,337.10L403.35,345.50M412.10,338.30L411.75,337.50L410.70,337.10L410.00,337.10L408.95,337.50L408.25,338.70L407.90,340.70L407.90,342.70L408.25,344.30L408.95,345.10L410.00,345.50L410.35,345.50L411.40,345.10L412.10,344.30L412.45,343.10L412.45,342.70L412.10,341.50L411.40,340.70L410.35,340.30L410.00,340.30L408.95,340.70L408.25,341.50L407.90,342.70M419.45,338.30L418.75,337.50L417.70,337.10L416.30,337.10L415.25,337.50L414.55,338.30L414.55,339.10L414.90,339.90L415.25,340.30L415.95,340.70L418.05,341.50L418.75,341.90L419.10,342.30L419.45,343.10L419.45,344.30L418.75,345.10L417.70,345.50L416.30,345.50L415.25,345.10L414.55,344.30M421.90,337.10L421.90,345.50M421.90,337.10L426.45,337.10M421.90,341.10L424.70,341.10M421.90,345.50L426.45,345.50M428.55,337.10L428.55,345.50M428.55,337.10L431.70,337.10L432.75,337.50L433.10,337.90L433.45,338.70L433.45,339.90L433.10,340.70L432.75,341.10L431.70,341.50L428.55,341.50M401.60,626.70L402.30,626.30L403.35,625.10L403.35,633.50M412.10,626.30L411.75,625.50L410.70,625.10L410.00,625.10L408.95,625.50L408.25,626.70L407.90,628.70L407.90,630.70L408.25,632.30L408.95,633.10L410.00,633.50L410.35,633.50L411.40,633.10L412.10,632.30L412.45,631.10L412.45,630.70L412.10,629.50L411.40,628.70L410.35,628.30L410.00,628.30L408.95,628.70L408.25,629.50L407.90,630.70M419.45,626.30L418.75,625.50L417.70,625.10L416.30,625.10L415.25,625.50L414.55,626.30L414.55,627.10L414.90,627.90L415.25,628.30L415.95,628.70L418.05,629.50L418.75,629.90L419.10,630.30L419.45,631.10L419.45,632.30L418.75,633.10L417.70,633.50L416.30,633.50L415.25,633.10L414.55,632.30M421.90,625.10L421.90,633.50M421.90,625.10L426.45,625.10M421.90,629.10L424.70,629.10M421.90,633.50L426.45,633.50M428.55,625.10L428.55,633.50M428.55,625.10L431.70,625.10L432.75,625.50L433.10,625.90L433.45,626.70L433.45,627.90L433.10,628.70L432.75,629.10L431.70,629.50L428.55,629.50M470.28,338.70L470.98,338.30L472.03,337.10L472.03,345.50M478.32,337.10L477.62,337.50L476.93,338.30L476.57,339.10L476.23,340.30L476.23,342.30L476.57,343.50L476.93,344.30L477.62,345.10L478.32,345.50L479.73,345.50L480.43,345.10L481.12,344.30L481.48,343.50L481.82,342.30L481.82,340.30L481.48,339.10L481.12,338.30L480.43,337.50L479.73,337.10L478.32,337.10M489.18,339.10L488.82,338.30L488.12,337.50L487.43,337.10L486.03,337.10L485.32,337.50L484.62,338.30L484.28,339.10L483.93,340.30L483.93,342.30L484.28,343.50L484.62,344.30L485.32,345.10L486.03,345.50L487.43,345.50L488.12,345.10L488.82,344.30L489.18,343.50M493.03,337.10L493.03,345.50M490.57,337.10L495.48,337.10M470.28,626.70L470.98,626.30L472.03,625.10L472.03,633.50M478.32,625.10L477.62,625.50L476.93,626.30L476.57,627.10L476.23,628.30L476.23,630.30L476.57,631.50L476.93,632.30L477.62,633.10L478.32,633.50L479.73,633.50L480.43,633.10L481.12,632.30L481.48,631.50L481.82,630.30L481.82,628.30L481.48,627.10L481.12,626.30L480.43,625.50L479.73,625.10L478.32,625.10M489.18,627.10L488.82,626.30L488.12,625.50L487.43,625.10L486.03,625.10L485.32,625.50L484.62,626.30L484.28,627.10L483.93,628.30L483.93,630.30L484.28,631.50L484.62,632.30L485.32,633.10L486.03,633.50L487.43,633.50L488.12,633.10L488.82,632.30L489.18,631.50M493.03,625.10L493.03,633.50M490.57,625.10L495.48,625.10M531.77,338.70L532.47,338.30L533.52,337.10L533.52,345.50M542.27,338.30L541.92,337.50L540.88,337.10L540.17,337.10L539.12,337.50L538.42,338.70L538.07,340.70L538.07,342.70L538.42,344.30L539.12,345.10L540.17,345.50L540.52,345.50L541.57,345.10L542.27,344.30L542.62,343.10L542.62,342.70L542.27,341.50L541.57,340.70L540.52,340.30L540.17,340.30L539.12,340.70L538.42,341.50L538.07,342.70M546.82,337.10L546.12,337.50L545.42,338.30L545.07,339.10L544.72,340.30L544.72,342.30L545.07,343.50L545.42,344.30L546.12,345.10L546.82,345.50L548.22,345.50L548.92,345.10L549.62,344.30L549.97,343.50L550.32,342.30L550.32,340.30L549.97,339.10L549.62,338.30L548.92,337.50L548.22,337.10L546.82,337.10M557.67,339.10L557.32,338.30L556.62,337.50L555.92,337.10L554.52,337.10L553.82,337.50L553.12,338.30L552.77,339.10L552.42,340.30L552.42,342.30L552.77,343.50L553.12,344.30L553.82,345.10L554.52,345.50L555.92,345.50L556.62,345.10L557.32,344.30L557.67,343.50M561.52,337.10L561.52,345.50M559.07,337.10L563.97,337.10M531.77,626.70L532.47,626.30L533.52,625.10L533.52,633.50M542.27,626.30L541.92,625.50L540.88,625.10L540.17,625.10L539.12,625.50L538.42,626.70L538.07,628.70L538.07,630.70L538.42,632.30L539.12,633.10L540.17,633.50L540.52,633.50L541.57,633.10L542.27,632.30L542.62,631.10L542.62,630.70L542.27,629.50L541.57,628.70L540.52,628.30L540.17,628.30L539.12,628.70L538.42,629.50L538.07,630.70M546.82,625.10L546.12,625.50L545.42,626.30L545.07,627.10L544.72,628.30L544.72,630.30L545.07,631.50L545.42,632.30L546.12,633.10L546.82,633.50L548.22,633.50L548.92,633.10L549.62,632.30L549.97,631.50L550.32,630.30L550.32,628.30L549.97,627.10L549.62,626.30L548.92,625.50L548.22,625.10L546.82,625.10M557.67,627.10L557.32,626.30L556.62,625.50L555.92,625.10L554.52,625.10L553.82,625.50L553.12,626.30L552.77,627.10L552.42,628.30L552.42,630.30L552.77,631.50L553.12,632.30L553.82,633.10L554.52,633.50L555.92,633.50L556.62,633.10L557.32,632.30L557.67,631.50M561.52,625.10L561.52,633.50M559.07,625.10L563.97,625.10M603.75,338.70L604.45,338.30L605.50,337.10L605.50,345.50M610.05,337.10L610.05,345.50M610.05,337.10L614.95,345.50M614.95,337.10L614.95,345.50M619.50,337.10L618.80,337.50L618.10,338.30L617.75,339.10L617.40,340.30L617.40,342.30L617.75,343.50L618.10,344.30L618.80,345.10L619.50,345.50L620.90,345.50L621.60,345.10L622.30,344.30L622.65,343.50L623.00,342.30L623.00,340.30L622.65,339.10L622.30,338.30L621.60,337.50L620.90,337.10L619.50,337.10M624.40,337.10L627.20,345.50M630.00,337.10L627.20,345.50M603.75,626.70L604.45,626.30L605.50,625.10L605.50,633.50M610.05,625.10L610.05,633.50M610.05,625.10L614.95,633.50M614.95,625.10L614.95,633.50M619.50,625.10L618.80,625.50L618.10,626.30L617.75,627.10L617.40,628.30L617.40,630.30L617.75,631.50L618.10,632.30L618.80,633.10L619.50,633.50L620.90,633.50L621.60,633.10L622.30,632.30L622.65,631.50L623.00,630.30L623.00,628.30L622.65,627.10L622.30,626.30L621.60,625.50L620.90,625.10L619.50,625.10M624.40,625.10L627.20,633.50M630.00,625.10L627.20,633.50M666.25,338.70L666.95,338.30L668.00,337.10L668.00,345.50M676.75,338.30L676.40,337.50L675.35,337.10L674.65,337.10L673.60,337.50L672.90,338.70L672.55,340.70L672.55,342.70L672.90,344.30L673.60,345.10L674.65,345.50L675.00,345.50L676.05,345.10L676.75,344.30L677.10,343.10L677.10,342.70L676.75,341.50L676.05,340.70L675.00,340.30L674.65,340.30L673.60,340.70L672.90,341.50L672.55,342.70M679.55,337.10L679.55,345.50M679.55,337.10L684.45,345.50M684.45,337.10L684.45,345.50M689.00,337.10L688.30,337.50L687.60,338.30L687.25,339.10L686.90,340.30L686.90,342.30L687.25,343.50L687.60,344.30L688.30,345.10L689.00,345.50L690.40,345.50L691.10,345.10L691.80,344.30L692.15,343.50L692.50,342.30L692.50,340.30L692.15,339.10L691.80,338.30L691.10,337.50L690.40,337.10L689.00,337.10M693.90,337.10L696.70,345.50M699.50,337.10L696.70,345.50M666.25,626.70L666.95,626.30L668.00,625.10L668.00,633.50M676.75,626.30L676.40,625.50L675.35,625.10L674.65,625.10L673.60,625.50L672.90,626.70L672.55,628.70L672.55,630.70L672.90,632.30L673.60,633.10L674.65,633.50L675.00,633.50L676.05,633.10L676.75,632.30L677.10,631.10L677.10,630.70L676.75,629.50L676.05,628.70L675.00,628.30L674.65,628.30L673.60,628.70L672.90,629.50L672.55,630.70M679.55,625.10L679.55,633.50M679.55,625.10L684.45,633.50M684.45,625.10L684.45,633.50M689.00,625.10L688.30,625.50L687.60,626.30L687.25,627.10L686.90,628.30L686.90,630.30L687.25,631.50L687.60,632.30L688.30,633.10L689.00,633.50L690.40,633.50L691.10,633.10L691.80,632.30L692.15,631.50L692.50,630.30L692.50,628.30L692.15,627.10L691.80,626.30L691.10,625.50L690.40,625.10L689.00,625.10M693.90,625.10L696.70,633.50M699.50,625.10L696.70,633.50M734.93,338.70L735.62,338.30L736.68,337.10L736.68,345.50M741.23,337.10L741.23,345.50M741.23,337.10L743.68,337.10L744.73,337.50L745.43,338.30L745.78,339.10L746.12,340.30L746.12,342.30L745.78,343.50L745.43,344.30L744.73,345.10L743.68,345.50L741.23,345.50M748.58,337.10L748.58,345.50M748.58,337.10L753.12,337.10M748.58,341.10L751.38,341.10M748.58,345.50L753.12,345.50M760.12,339.10L759.78,338.30L759.08,337.50L758.38,337.10L756.98,337.10L756.28,337.50L755.58,338.30L755.23,339.10L754.88,340.30L754.88,342.30L755.23,343.50L755.58,344.30L756.28,345.10L756.98,345.50L758.38,345.50L759.08,345.10L759.78,344.30L760.12,343.50M734.93,626.70L735.62,626.30L736.68,625.10L736.68,633.50M741.23,625.10L741.23,633.50M741.23,625.10L743.68,625.10L744.73,625.50L745.43,626.30L745.78,627.10L746.12,628.30L746.12,630.30L745.78,631.50L745.43,632.30L744.73,633.10L743.68,633.50L741.23,633.50M748.58,625.10L748.58,633.50M748.58,625.10L753.12,625.10M748.58,629.10L751.38,629.10M748.58,633.50L753.12,633.50M760.12,627.10L759.78,626.30L759.08,625.50L758.38,625.10L756.98,625.10L756.28,625.50L755.58,626.30L755.23,627.10L754.88,628.30L754.88,630.30L755.23,631.50L755.58,632.30L756.28,633.10L756.98,633.50L758.38,633.50L759.08,633.10L759.78,632.30L760.12,631.50M796.43,338.70L797.12,338.30L798.18,337.10L798.18,345.50M806.93,338.30L806.58,337.50L805.53,337.10L804.83,337.10L803.78,337.50L803.08,338.70L802.73,340.70L802.73,342.70L803.08,344.30L803.78,345.10L804.83,345.50L805.18,345.50L806.23,345.10L806.93,344.30L807.28,343.10L807.28,342.70L806.93,341.50L806.23,340.70L805.18,340.30L804.83,340.30L803.78,340.70L803.08,341.50L802.73,342.70M809.73,337.10L809.73,345.50M809.73,337.10L812.18,337.10L813.23,337.50L813.93,338.30L814.28,339.10L814.62,340.30L814.62,342.30L814.28,343.50L813.93,344.30L813.23,345.10L812.18,345.50L809.73,345.50M817.08,337.10L817.08,345.50M817.08,337.10L821.62,337.10M817.08,341.10L819.88,341.10M817.08,345.50L821.62,345.50M828.62,339.10L828.28,338.30L827.58,337.50L826.88,337.10L825.48,337.10L824.78,337.50L824.08,338.30L823.73,339.10L823.38,340.30L823.38,342.30L823.73,343.50L824.08,344.30L824.78,345.10L825.48,345.50L826.88,345.50L827.58,345.10L828.28,344.30L828.62,343.50M796.43,626.70L797.12,626.30L798.18,625.10L798.18,633.50M806.93,626.30L806.58,625.50L805.53,625.10L804.83,625.10L803.78,625.50L803.08,626.70L802.73,628.70L802.73,630.70L803.08,632.30L803.78,633.10L804.83,633.50L805.18,633.50L806.23,633.10L806.93,632.30L807.28,631.10L807.28,630.70L806.93,629.50L806.23,628.70L805.18,628.30L804.83,628.30L803.78,628.70L803.08,629.50L802.73,630.70M809.73,625.10L809.73,633.50M809.73,625.10L812.18,625.10L813.23,625.50L813.93,626.30L814.28,627.10L814.62,628.30L814.62,630.30L814.28,631.50L813.93,632.30L813.23,633.10L812.18,633.50L809.73,633.50M817.08,625.10L817.08,633.50M817.08,625.10L821.62,625.10M817.08,629.10L819.88,629.10M817.08,633.50L821.62,633.50M828.62,627.10L828.28,626.30L827.58,625.50L826.88,625.10L825.48,625.10L824.78,625.50L824.08,626.30L823.73,627.10L823.38,628.30L823.38,630.30L823.73,631.50L824.08,632.30L824.78,633.10L825.48,633.50L826.88,633.50L827.58,633.10L828.28,632.30L828.62,631.50M68.90,351.78L68.90,351.36L69.25,350.52L69.60,350.10L70.30,349.68L71.70,349.68L72.40,350.10L72.75,350.52L73.10,351.36L73.10,352.20L72.75,353.04L72.05,354.30L68.55,358.50L73.45,358.50M77.65,349.68L76.60,350.10L75.90,351.36L75.55,353.46L75.55,354.72L75.90,356.82L76.60,358.08L77.65,358.50L78.35,358.50L79.40,358.08L80.10,356.82L80.45,354.72L80.45,353.46L80.10,351.36L79.40,350.10L78.35,349.68L77.65,349.68M82.90,351.78L82.90,351.36L83.25,350.52L83.60,350.10L84.30,349.68L85.70,349.68L86.40,350.10L86.75,350.52L87.10,351.36L87.10,352.20L86.75,353.04L86.05,354.30L82.55,358.50L87.45,358.50M93.75,349.68L90.25,349.68L89.90,353.46L90.25,353.04L91.30,352.62L92.35,352.62L93.40,353.04L94.10,353.88L94.45,355.14L94.45,355.98L94.10,357.24L93.40,358.08L92.35,358.50L91.30,358.50L90.25,358.08L89.90,357.66L89.55,356.82M68.90,639.78L68.90,639.36L69.25,638.52L69.60,638.10L70.30,637.68L71.70,637.68L72.40,638.10L72.75,638.52L73.10,639.36L73.10,640.20L72.75,641.04L72.05,642.30L68.55,646.50L73.45,646.50M77.65,637.68L76.60,638.10L75.90,639.36L75.55,641.46L75.55,642.72L75.90,644.82L76.60,646.08L77.65,646.50L78.35,646.50L79.40,646.08L80.10,644.82L80.45,642.72L80.45,641.46L80.10,639.36L79.40,638.10L78.35,637.68L77.65,637.68M82.90,639.78L82.90,639.36L83.25,638.52L83.60,638.10L84.30,637.68L85.70,637.68L86.40,638.10L86.75,638.52L87.10,639.36L87.10,640.20L86.75,641.04L86.05,642.30L82.55,646.50L87.45,646.50M93.75,637.68L90.25,637.68L89.90,641.46L90.25,641.04L91.30,640.62L92.35,640.62L93.40,641.04L94.10,641.88L94.45,643.14L94.45,643.98L94.10,645.24L93.40,646.08L92.35,646.50L91.30,646.50L90.25,646.08L89.90,645.66L89.55,644.82" fill="none" stroke="#000" stroke-width="1.1" stroke-linecap="round" stroke-linejoin="round" shape-rendering="crispEdges" />
<path d="M18.95,310.67L30.50,310.67M18.95,310.67L18.95,305.42L19.50,303.67L20.05,303.09L21.15,302.51L22.25,302.51L23.35,303.09L23.90,303.67L24.45,305.42L24.45,310.67M24.45,306.59L30.50,302.51M22.80,292.01L30.50,292.01M24.45,292.01L23.35,293.18L22.80,294.34L22.80,296.09L23.35,297.26L24.45,298.43L26.10,299.01L27.20,299.01L28.85,298.43L29.95,297.26L30.50,296.09L30.50,294.34L29.95,293.18L28.85,292.01M18.95,287.93L19.50,287.35L18.95,286.76L18.40,287.35L18.95,287.93M22.80,287.35L30.50,287.35M22.80,282.68L30.50,282.68M25.00,282.68L23.35,280.94L22.80,279.77L22.80,278.02L23.35,276.85L25.00,276.27L30.50,276.27M18.95,268.11L18.95,269.27L19.50,270.44L21.15,271.02L30.50,271.02M22.80,272.77L22.80,268.69M22.80,258.20L30.50,258.20M24.45,258.20L23.35,259.36L22.80,260.53L22.80,262.28L23.35,263.44L24.45,264.61L26.10,265.19L27.20,265.19L28.85,264.61L29.95,263.44L30.50,262.28L30.50,260.53L29.95,259.36L28.85,258.20M18.95,253.53L30.50,253.53M18.95,248.87L30.50,248.87M22.80,236.04L30.50,232.55M22.80,229.05L30.50,232.55M24.45,219.72L23.35,220.30L22.80,222.05L22.80,223.80L23.35,225.55L24.45,226.13L25.55,225.55L26.10,224.38L26.65,221.47L27.20,220.30L28.30,219.72L28.85,219.72L29.95,220.30L30.50,222.05L30.50,223.80L29.95,225.55L28.85,226.13M18.95,206.31L30.50,206.31M18.95,206.31L30.50,198.15M18.95,198.15L30.50,198.15M22.80,191.15L23.35,192.32L24.45,193.49L26.10,194.07L27.20,194.07L28.85,193.49L29.95,192.32L30.50,191.15L30.50,189.40L29.95,188.24L28.85,187.07L27.20,186.49L26.10,186.49L24.45,187.07L23.35,188.24L22.80,189.40L22.80,191.15M22.80,182.41L30.50,182.41M26.10,182.41L24.45,181.83L23.35,180.66L22.80,179.49L22.80,177.74M22.80,174.83L30.50,174.83M25.00,174.83L23.35,173.08L22.80,171.91L22.80,170.17L23.35,169.00L25.00,168.42L30.50,168.42M25.00,168.42L23.35,166.67L22.80,165.50L22.80,163.75L23.35,162.59L25.00,162.00L30.50,162.00M22.80,150.93L30.50,150.93M24.45,150.93L23.35,152.09L22.80,153.26L22.80,155.01L23.35,156.17L24.45,157.34L26.10,157.92L27.20,157.92L28.85,157.34L29.95,156.17L30.50,155.01L30.50,153.26L29.95,152.09L28.85,150.93M18.95,146.26L30.50,146.26M16.75,128.19L17.85,129.36L19.50,130.52L21.70,131.69L24.45,132.27L26.65,132.27L29.40,131.69L31.60,130.52L33.25,129.36L34.35,128.19M22.80,124.11L30.50,124.11M25.00,124.11L23.35,122.36L22.80,121.19L22.80,119.44L23.35,118.28L25.00,117.70L30.50,117.70M25.00,117.70L23.35,115.95L22.80,114.78L22.80,113.03L23.35,111.87L25.00,111.28L30.50,111.28M22.80,106.62L30.50,106.62M25.00,106.62L23.35,104.87L22.80,103.70L22.80,101.95L23.35,100.79L25.00,100.21L30.50,100.21M25.00,100.21L23.35,98.46L22.80,97.29L22.80,95.54L23.35,94.38L25.00,93.79L30.50,93.79M16.75,89.71L17.85,88.55L19.50,87.38L21.70,86.21L24.45,85.63L26.65,85.63L29.40,86.21L31.60,87.38L33.25,88.55L34.35,89.71" fill="none" stroke="#000" stroke-width="1.9" stroke-linecap="round" stroke-linejoin="round" shape-rendering="crispEdges" />
<path d="M18.95,598.37L30.50,598.37M18.95,598.37L18.95,594.29L19.50,592.54L20.60,591.37L21.70,590.79L23.35,590.21L26.10,590.21L27.75,590.79L28.85,591.37L29.95,592.54L30.50,594.29L30.50,598.37M22.80,579.71L30.50,579.71M24.45,579.71L23.35,580.88L22.80,582.04L22.80,583.79L23.35,584.96L24.45,586.12L26.10,586.71L27.20,586.71L28.85,586.12L29.95,584.96L30.50,583.79L30.50,582.04L29.95,580.88L28.85,579.71M18.95,575.63L19.50,575.05L18.95,574.47L18.40,575.05L18.95,575.63M22.80,575.05L30.50,575.05M18.95,570.38L30.50,570.38M22.80,566.89L30.50,563.39M22.80,559.89L30.50,563.39L32.70,564.55L33.80,565.72L34.35,566.89L34.35,567.47M18.95,547.06L30.50,547.06M18.95,547.06L18.95,541.82L19.50,540.07L20.05,539.49L21.15,538.90L22.25,538.90L23.35,539.49L23.90,540.07L24.45,541.82L24.45,547.06M24.45,542.98L30.50,538.90M22.80,528.41L30.50,528.41M24.45,528.41L23.35,529.57L22.80,530.74L22.80,532.49L23.35,533.66L24.45,534.82L26.10,535.40L27.20,535.40L28.85,534.82L29.95,533.66L30.50,532.49L30.50,530.74L29.95,529.57L28.85,528.41M18.95,524.33L19.50,523.74L18.95,523.16L18.40,523.74L18.95,524.33M22.80,523.74L30.50,523.74M22.80,519.08L30.50,519.08M25.00,519.08L23.35,517.33L22.80,516.17L22.80,514.42L23.35,513.25L25.00,512.67L30.50,512.67M18.95,504.51L18.95,505.67L19.50,506.84L21.15,507.42L30.50,507.42M22.80,509.17L22.80,505.09M22.80,494.59L30.50,494.59M24.45,494.59L23.35,495.76L22.80,496.93L22.80,498.68L23.35,499.84L24.45,501.01L26.10,501.59L27.20,501.59L28.85,501.01L29.95,499.84L30.50,498.68L30.50,496.93L29.95,495.76L28.85,494.59M18.95,489.93L30.50,489.93M18.95,485.27L30.50,485.27M16.75,467.19L17.85,468.36L19.50,469.53L21.70,470.69L24.45,471.27L26.65,471.27L29.40,470.69L31.60,469.53L33.25,468.36L34.35,467.19M22.80,463.11L30.50,463.11M25.00,463.11L23.35,461.36L22.80,460.20L22.80,458.45L23.35,457.28L25.00,456.70L30.50,456.70M25.00,456.70L23.35,454.95L22.80,453.78L22.80,452.04L23.35,450.87L25.00,450.29L30.50,450.29M22.80,445.62L30.50,445.62M25.00,445.62L23.35,443.87L22.80,442.71L22.80,440.96L23.35,439.79L25.00,439.21L30.50,439.21M25.00,439.21L23.35,437.46L22.80,436.29L22.80,434.55L23.35,433.38L25.00,432.80L30.50,432.80M16.75,428.72L17.85,427.55L19.50,426.38L21.70,425.22L24.45,424.63L26.65,424.63L29.40,425.22L31.60,426.38L33.25,427.55L34.35,428.72" fill="none" stroke="#000" stroke-width="1.9" stroke-linecap="round" stroke-linejoin="round" shape-rendering="crispEdges" />
<path d="M431.98,670.00L431.98,681.00M431.98,670.00L435.98,670.00L437.69,670.52L438.84,671.57L439.41,672.62L439.98,674.19L439.98,676.81L439.41,678.38L438.84,679.43L437.69,680.48L435.98,681.00L431.98,681.00M450.26,673.66L450.26,681.00M450.26,675.24L449.11,674.19L447.97,673.66L446.26,673.66L445.12,674.19L443.97,675.24L443.40,676.81L443.40,677.86L443.97,679.43L445.12,680.48L446.26,681.00L447.97,681.00L449.11,680.48L450.26,679.43M455.39,670.00L455.39,678.90L455.97,680.48L457.11,681.00L458.25,681.00M453.68,673.66L457.68,673.66M461.10,676.81L467.96,676.81L467.96,675.76L467.39,674.71L466.81,674.19L465.67,673.66L463.96,673.66L462.82,674.19L461.68,675.24L461.10,676.81L461.10,677.86L461.68,679.43L462.82,680.48L463.96,681.00L465.67,681.00L466.81,680.48L467.96,679.43" fill="none" stroke="#000" stroke-width="1.9" stroke-linecap="round" stroke-linejoin="round" shape-rendering="crispEdges" />
</svg></body></html>
